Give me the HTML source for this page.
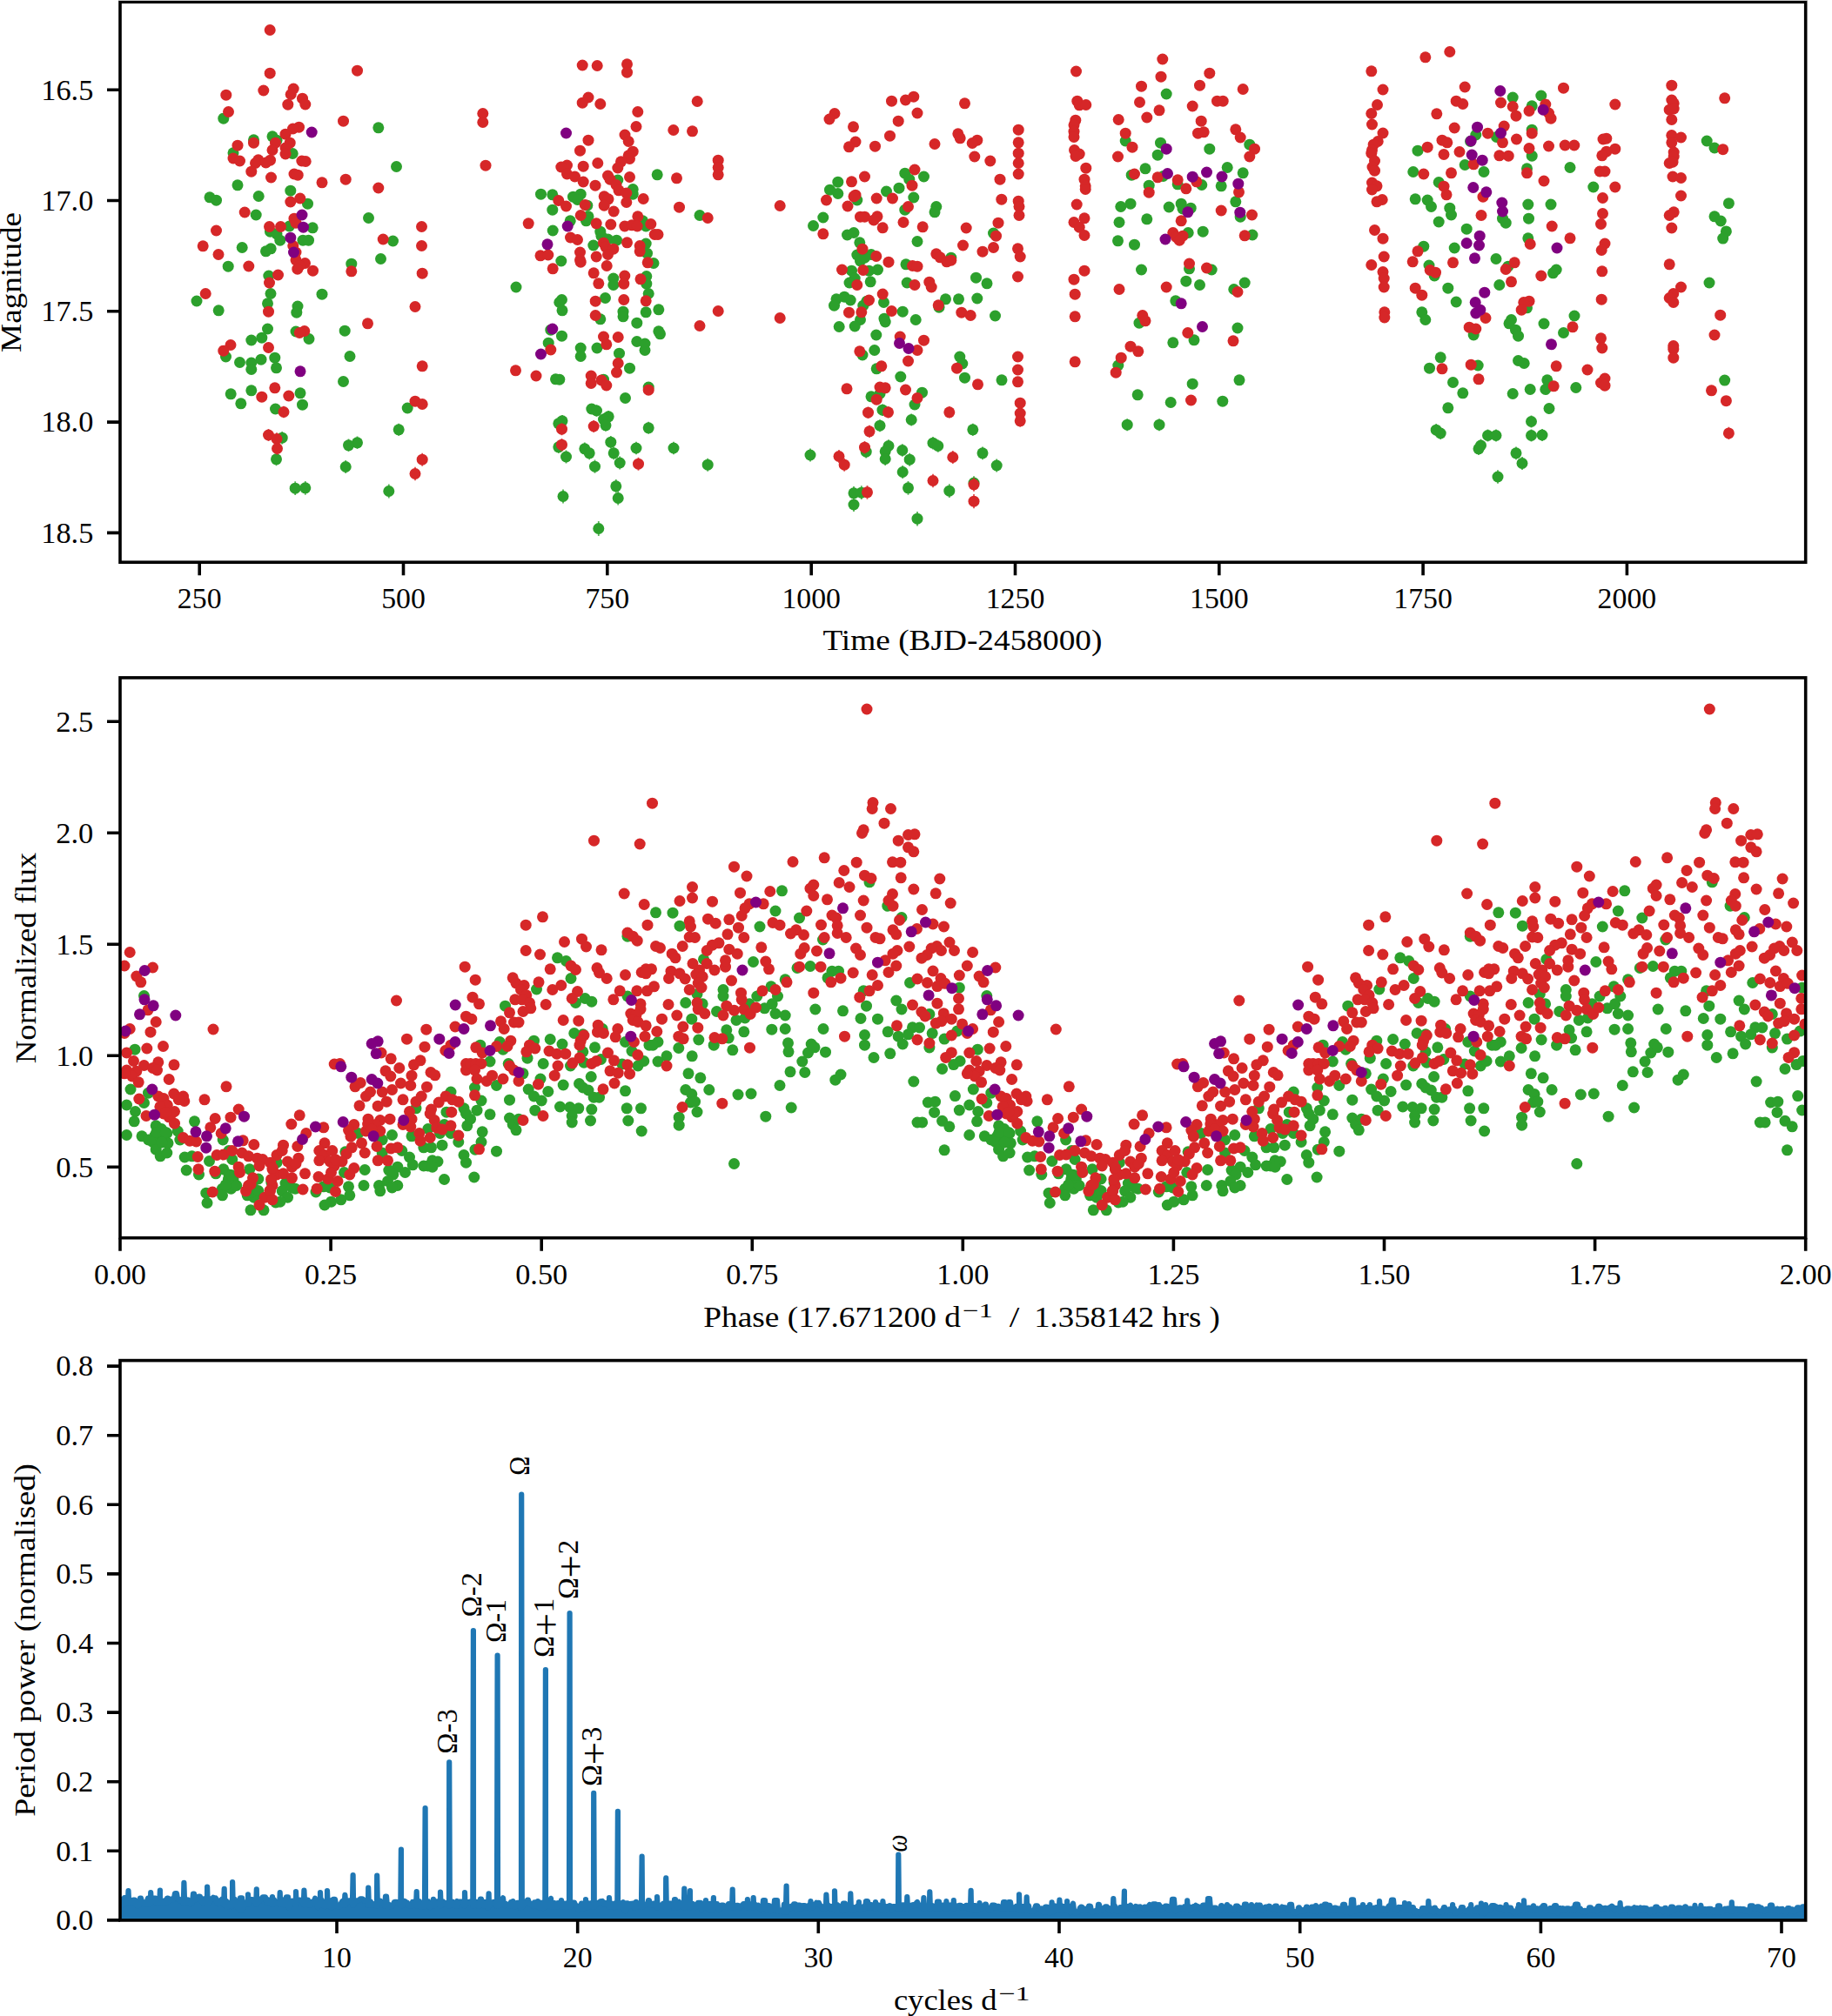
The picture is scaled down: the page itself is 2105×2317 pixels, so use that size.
<!DOCTYPE html>
<html lang="en"><head><meta charset="utf-8"><title>Light curve, phase fold and periodogram</title>
<style>html,body{margin:0;padding:0;background:#fff}svg{display:block}</style></head>
<body>
<svg width="2105" height="2317" viewBox="0 0 2105 2317" font-family='"Liberation Serif", "DejaVu Serif", serif' font-size="33.5" fill="#000">
<rect width="2105" height="2317" fill="#fff"/>
<g id="p1">
<path d="M458.2 486.7V500.9M324.2 496.0V510.4M410.5 501.6V516.0M400.5 504.5V519.1M317.5 520.3V535.3M397.2 528.9V544.1M339.2 553.3V569.1M350.8 552.9V568.7M446.8 556.6V572.4M685.5 465.2V478.8M699.2 471.9V485.7M693.5 475.1V488.9M696.0 481.8V495.8M646.0 476.9V490.7M641.8 479.8V493.8M745.2 484.8V498.8M701.8 501.0V515.4M731.0 507.7V522.3M641.8 506.5V521.1M671.8 508.5V523.1M677.2 513.4V528.2M650.5 517.6V532.4M705.2 513.4V528.2M712.2 524.5V539.5M683.5 528.6V543.8M774.0 507.7V522.3M813.2 526.7V541.7M707.8 551.0V566.6M710.2 564.5V580.5M647.0 562.5V578.5M687.8 599.1V615.9M1014.0 464.4V478.0M1047.2 475.6V489.4M1011.0 482.2V496.2M1021.0 505.2V519.8M1017.2 511.4V526.2M995.2 511.8V526.6M1036.8 510.2V524.8M1017.2 520.0V535.0M1045.2 520.7V535.7M931.0 515.6V530.4M1037.2 534.9V550.1M1043.5 552.9V568.7M981.0 558.9V574.7M989.8 558.3V574.1M981.0 571.9V588.1M1054.0 587.9V604.5M1295.2 481.2V495.2M1332.0 481.2V495.2M1117.8 486.7V500.9M1072.0 502.0V516.4M1077.8 505.2V519.8M1129.0 513.4V528.2M1145.2 527.4V542.6M1119.0 547.2V562.8M1090.8 556.3V572.1M1759.5 477.6V491.4M1650.2 487.1V501.3M1655.2 490.9V505.1M1709.5 493.4V507.6M1719.0 493.4V507.6M1759.5 493.4V507.6M1772.0 492.9V507.1M1701.5 504.7V519.3M1699.0 508.5V523.1M1742.0 513.4V528.2M1749.0 525.0V540.0M1721.0 540.3V555.7" stroke="#2ca02c" stroke-width="1.8" fill="none" opacity="0.8"/>
<g fill="#2ca02c">
<circle cx="256.8" cy="136.2" r="6.5"/>
<circle cx="434.8" cy="146.8" r="6.5"/>
<circle cx="291.5" cy="160.8" r="6.5"/>
<circle cx="313.0" cy="156.8" r="6.5"/>
<circle cx="318.0" cy="161.2" r="6.5"/>
<circle cx="268.0" cy="175.8" r="6.5"/>
<circle cx="336.2" cy="176.5" r="6.5"/>
<circle cx="455.5" cy="191.5" r="6.5"/>
<circle cx="273.0" cy="212.8" r="6.5"/>
<circle cx="333.8" cy="219.2" r="6.5"/>
<circle cx="297.2" cy="225.5" r="6.5"/>
<circle cx="241.0" cy="226.8" r="6.5"/>
<circle cx="248.5" cy="230.2" r="6.5"/>
<circle cx="353.5" cy="234.2" r="6.5"/>
<circle cx="294.2" cy="247.0" r="6.5"/>
<circle cx="423.5" cy="250.5" r="6.5"/>
<circle cx="332.5" cy="260.0" r="6.5"/>
<circle cx="359.2" cy="261.8" r="6.5"/>
<circle cx="310.5" cy="266.2" r="6.5"/>
<circle cx="318.0" cy="268.8" r="6.5"/>
<circle cx="321.8" cy="276.2" r="6.5"/>
<circle cx="348.0" cy="276.2" r="6.5"/>
<circle cx="354.5" cy="276.2" r="6.5"/>
<circle cx="451.5" cy="277.0" r="6.5"/>
<circle cx="278.2" cy="284.5" r="6.5"/>
<circle cx="311.2" cy="285.8" r="6.5"/>
<circle cx="305.5" cy="288.8" r="6.5"/>
<circle cx="437.5" cy="297.5" r="6.5"/>
<circle cx="262.2" cy="306.2" r="6.5"/>
<circle cx="403.8" cy="303.2" r="6.5"/>
<circle cx="308.8" cy="317.0" r="6.5"/>
<circle cx="593.0" cy="330.0" r="6.5"/>
<circle cx="311.0" cy="337.5" r="6.5"/>
<circle cx="370.0" cy="338.2" r="6.5"/>
<circle cx="226.0" cy="346.0" r="6.5"/>
<circle cx="307.5" cy="348.8" r="6.5"/>
<circle cx="251.2" cy="356.8" r="6.5"/>
<circle cx="342.0" cy="352.0" r="6.5"/>
<circle cx="340.8" cy="359.2" r="6.5"/>
<circle cx="307.5" cy="378.0" r="6.5"/>
<circle cx="396.2" cy="380.2" r="6.5"/>
<circle cx="340.0" cy="381.0" r="6.5"/>
<circle cx="355.0" cy="389.5" r="6.5"/>
<circle cx="300.8" cy="388.2" r="6.5"/>
<circle cx="288.8" cy="391.0" r="6.5"/>
<circle cx="259.5" cy="410.0" r="6.5"/>
<circle cx="402.0" cy="409.5" r="6.5"/>
<circle cx="315.8" cy="411.2" r="6.5"/>
<circle cx="300.0" cy="413.2" r="6.5"/>
<circle cx="275.5" cy="416.5" r="6.5"/>
<circle cx="288.8" cy="417.0" r="6.5"/>
<circle cx="288.8" cy="424.5" r="6.5"/>
<circle cx="317.5" cy="422.8" r="6.5"/>
<circle cx="394.5" cy="438.5" r="6.5"/>
<circle cx="288.8" cy="448.8" r="6.5"/>
<circle cx="265.2" cy="452.8" r="6.5"/>
<circle cx="345.0" cy="451.8" r="6.5"/>
<circle cx="276.8" cy="463.8" r="6.5"/>
<circle cx="347.5" cy="465.2" r="6.5"/>
<circle cx="316.5" cy="470.0" r="6.5"/>
<circle cx="468.2" cy="469.0" r="6.5"/>
<circle cx="458.2" cy="493.8" r="6.5"/>
<circle cx="324.2" cy="503.2" r="6.5"/>
<circle cx="410.5" cy="508.8" r="6.5"/>
<circle cx="400.5" cy="511.8" r="6.5"/>
<circle cx="317.5" cy="527.8" r="6.5"/>
<circle cx="397.2" cy="536.5" r="6.5"/>
<circle cx="339.2" cy="561.2" r="6.5"/>
<circle cx="350.8" cy="560.8" r="6.5"/>
<circle cx="446.8" cy="564.5" r="6.5"/>
<circle cx="755.2" cy="200.8" r="6.5"/>
<circle cx="709.8" cy="207.0" r="6.5"/>
<circle cx="727.2" cy="217.5" r="6.5"/>
<circle cx="727.2" cy="223.2" r="6.5"/>
<circle cx="621.5" cy="223.2" r="6.5"/>
<circle cx="634.8" cy="223.8" r="6.5"/>
<circle cx="658.5" cy="226.2" r="6.5"/>
<circle cx="667.2" cy="223.2" r="6.5"/>
<circle cx="663.5" cy="229.5" r="6.5"/>
<circle cx="634.8" cy="241.2" r="6.5"/>
<circle cx="674.8" cy="236.2" r="6.5"/>
<circle cx="676.0" cy="248.8" r="6.5"/>
<circle cx="655.2" cy="253.8" r="6.5"/>
<circle cx="673.5" cy="253.8" r="6.5"/>
<circle cx="635.2" cy="265.0" r="6.5"/>
<circle cx="804.0" cy="247.5" r="6.5"/>
<circle cx="738.5" cy="253.8" r="6.5"/>
<circle cx="742.2" cy="260.0" r="6.5"/>
<circle cx="689.8" cy="266.2" r="6.5"/>
<circle cx="691.0" cy="271.2" r="6.5"/>
<circle cx="698.5" cy="275.0" r="6.5"/>
<circle cx="708.5" cy="276.2" r="6.5"/>
<circle cx="681.8" cy="282.0" r="6.5"/>
<circle cx="742.2" cy="280.0" r="6.5"/>
<circle cx="743.5" cy="291.2" r="6.5"/>
<circle cx="644.8" cy="300.0" r="6.5"/>
<circle cx="751.0" cy="302.5" r="6.5"/>
<circle cx="704.8" cy="320.0" r="6.5"/>
<circle cx="742.8" cy="317.5" r="6.5"/>
<circle cx="704.8" cy="327.5" r="6.5"/>
<circle cx="742.8" cy="326.2" r="6.5"/>
<circle cx="962.8" cy="209.2" r="6.5"/>
<circle cx="953.5" cy="218.2" r="6.5"/>
<circle cx="962.8" cy="222.5" r="6.5"/>
<circle cx="1018.5" cy="220.0" r="6.5"/>
<circle cx="1033.0" cy="216.2" r="6.5"/>
<circle cx="1039.8" cy="199.2" r="6.5"/>
<circle cx="1044.8" cy="206.2" r="6.5"/>
<circle cx="1049.8" cy="227.0" r="6.5"/>
<circle cx="984.8" cy="230.0" r="6.5"/>
<circle cx="1039.8" cy="241.2" r="6.5"/>
<circle cx="945.8" cy="250.0" r="6.5"/>
<circle cx="934.5" cy="259.5" r="6.5"/>
<circle cx="973.5" cy="270.0" r="6.5"/>
<circle cx="981.0" cy="267.5" r="6.5"/>
<circle cx="987.8" cy="278.8" r="6.5"/>
<circle cx="984.8" cy="293.0" r="6.5"/>
<circle cx="1001.0" cy="292.5" r="6.5"/>
<circle cx="988.5" cy="300.0" r="6.5"/>
<circle cx="993.5" cy="296.2" r="6.5"/>
<circle cx="1041.0" cy="303.8" r="6.5"/>
<circle cx="978.5" cy="311.2" r="6.5"/>
<circle cx="998.5" cy="311.2" r="6.5"/>
<circle cx="1008.5" cy="310.0" r="6.5"/>
<circle cx="982.2" cy="320.0" r="6.5"/>
<circle cx="976.0" cy="325.0" r="6.5"/>
<circle cx="1000.2" cy="323.8" r="6.5"/>
<circle cx="1042.2" cy="325.0" r="6.5"/>
<circle cx="1054.0" cy="277.5" r="6.5"/>
<circle cx="745.2" cy="337.5" r="6.5"/>
<circle cx="695.5" cy="342.5" r="6.5"/>
<circle cx="645.5" cy="344.5" r="6.5"/>
<circle cx="642.8" cy="347.5" r="6.5"/>
<circle cx="646.0" cy="356.8" r="6.5"/>
<circle cx="756.8" cy="355.8" r="6.5"/>
<circle cx="742.2" cy="358.8" r="6.5"/>
<circle cx="716.0" cy="358.2" r="6.5"/>
<circle cx="716.0" cy="363.8" r="6.5"/>
<circle cx="689.8" cy="366.8" r="6.5"/>
<circle cx="731.8" cy="371.2" r="6.5"/>
<circle cx="632.8" cy="379.2" r="6.5"/>
<circle cx="756.8" cy="380.8" r="6.5"/>
<circle cx="758.5" cy="383.8" r="6.5"/>
<circle cx="645.5" cy="386.2" r="6.5"/>
<circle cx="731.8" cy="392.5" r="6.5"/>
<circle cx="741.0" cy="395.0" r="6.5"/>
<circle cx="741.0" cy="402.5" r="6.5"/>
<circle cx="630.2" cy="394.2" r="6.5"/>
<circle cx="667.2" cy="400.0" r="6.5"/>
<circle cx="686.0" cy="400.0" r="6.5"/>
<circle cx="667.2" cy="409.5" r="6.5"/>
<circle cx="711.5" cy="406.2" r="6.5"/>
<circle cx="723.5" cy="423.2" r="6.5"/>
<circle cx="638.5" cy="435.8" r="6.5"/>
<circle cx="642.8" cy="436.2" r="6.5"/>
<circle cx="693.5" cy="436.2" r="6.5"/>
<circle cx="745.2" cy="445.0" r="6.5"/>
<circle cx="718.5" cy="457.5" r="6.5"/>
<circle cx="679.8" cy="470.0" r="6.5"/>
<circle cx="685.5" cy="472.0" r="6.5"/>
<circle cx="699.2" cy="478.8" r="6.5"/>
<circle cx="693.5" cy="482.0" r="6.5"/>
<circle cx="696.0" cy="488.8" r="6.5"/>
<circle cx="646.0" cy="483.8" r="6.5"/>
<circle cx="641.8" cy="486.8" r="6.5"/>
<circle cx="745.2" cy="491.8" r="6.5"/>
<circle cx="701.8" cy="508.2" r="6.5"/>
<circle cx="731.0" cy="515.0" r="6.5"/>
<circle cx="641.8" cy="513.8" r="6.5"/>
<circle cx="671.8" cy="515.8" r="6.5"/>
<circle cx="677.2" cy="520.8" r="6.5"/>
<circle cx="650.5" cy="525.0" r="6.5"/>
<circle cx="705.2" cy="520.8" r="6.5"/>
<circle cx="712.2" cy="532.0" r="6.5"/>
<circle cx="683.5" cy="536.2" r="6.5"/>
<circle cx="774.0" cy="515.0" r="6.5"/>
<circle cx="813.2" cy="534.2" r="6.5"/>
<circle cx="707.8" cy="558.8" r="6.5"/>
<circle cx="710.2" cy="572.5" r="6.5"/>
<circle cx="647.0" cy="570.5" r="6.5"/>
<circle cx="687.8" cy="607.5" r="6.5"/>
<circle cx="961.0" cy="343.8" r="6.5"/>
<circle cx="970.2" cy="341.2" r="6.5"/>
<circle cx="977.2" cy="345.0" r="6.5"/>
<circle cx="958.5" cy="351.2" r="6.5"/>
<circle cx="991.8" cy="351.2" r="6.5"/>
<circle cx="996.0" cy="346.2" r="6.5"/>
<circle cx="1015.5" cy="347.5" r="6.5"/>
<circle cx="1037.2" cy="358.2" r="6.5"/>
<circle cx="988.5" cy="367.5" r="6.5"/>
<circle cx="982.2" cy="375.0" r="6.5"/>
<circle cx="964.2" cy="375.5" r="6.5"/>
<circle cx="1016.0" cy="366.2" r="6.5"/>
<circle cx="1017.2" cy="370.0" r="6.5"/>
<circle cx="1052.2" cy="367.5" r="6.5"/>
<circle cx="1006.8" cy="385.0" r="6.5"/>
<circle cx="1004.8" cy="402.5" r="6.5"/>
<circle cx="991.0" cy="408.0" r="6.5"/>
<circle cx="1007.2" cy="423.8" r="6.5"/>
<circle cx="1034.8" cy="433.0" r="6.5"/>
<circle cx="1001.0" cy="455.8" r="6.5"/>
<circle cx="1011.0" cy="452.5" r="6.5"/>
<circle cx="1014.0" cy="471.2" r="6.5"/>
<circle cx="1051.0" cy="465.0" r="6.5"/>
<circle cx="1047.2" cy="482.5" r="6.5"/>
<circle cx="1011.0" cy="489.2" r="6.5"/>
<circle cx="1021.0" cy="512.5" r="6.5"/>
<circle cx="1017.2" cy="518.8" r="6.5"/>
<circle cx="995.2" cy="519.2" r="6.5"/>
<circle cx="1036.8" cy="517.5" r="6.5"/>
<circle cx="1017.2" cy="527.5" r="6.5"/>
<circle cx="1045.2" cy="528.2" r="6.5"/>
<circle cx="931.0" cy="523.0" r="6.5"/>
<circle cx="1037.2" cy="542.5" r="6.5"/>
<circle cx="1043.5" cy="560.8" r="6.5"/>
<circle cx="981.0" cy="566.8" r="6.5"/>
<circle cx="989.8" cy="566.2" r="6.5"/>
<circle cx="981.0" cy="580.0" r="6.5"/>
<circle cx="1054.0" cy="596.2" r="6.5"/>
<circle cx="1061.5" cy="203.0" r="6.5"/>
<circle cx="1075.8" cy="237.5" r="6.5"/>
<circle cx="1074.0" cy="243.8" r="6.5"/>
<circle cx="1141.5" cy="268.0" r="6.5"/>
<circle cx="1092.8" cy="296.2" r="6.5"/>
<circle cx="1121.5" cy="319.2" r="6.5"/>
<circle cx="1134.0" cy="325.8" r="6.5"/>
<circle cx="1340.2" cy="108.0" r="6.5"/>
<circle cx="1293.2" cy="162.0" r="6.5"/>
<circle cx="1333.5" cy="164.2" r="6.5"/>
<circle cx="1330.2" cy="178.2" r="6.5"/>
<circle cx="1389.8" cy="171.2" r="6.5"/>
<circle cx="1435.8" cy="166.2" r="6.5"/>
<circle cx="1316.0" cy="193.8" r="6.5"/>
<circle cx="1410.2" cy="192.5" r="6.5"/>
<circle cx="1428.2" cy="198.8" r="6.5"/>
<circle cx="1300.2" cy="201.2" r="6.5"/>
<circle cx="1336.5" cy="202.5" r="6.5"/>
<circle cx="1320.2" cy="213.2" r="6.5"/>
<circle cx="1353.2" cy="211.8" r="6.5"/>
<circle cx="1380.8" cy="212.5" r="6.5"/>
<circle cx="1403.2" cy="213.8" r="6.5"/>
<circle cx="1287.8" cy="237.5" r="6.5"/>
<circle cx="1299.0" cy="234.2" r="6.5"/>
<circle cx="1343.2" cy="238.0" r="6.5"/>
<circle cx="1357.2" cy="234.2" r="6.5"/>
<circle cx="1359.0" cy="240.0" r="6.5"/>
<circle cx="1368.2" cy="239.2" r="6.5"/>
<circle cx="1419.8" cy="231.8" r="6.5"/>
<circle cx="1425.2" cy="249.2" r="6.5"/>
<circle cx="1286.0" cy="255.5" r="6.5"/>
<circle cx="1317.8" cy="251.8" r="6.5"/>
<circle cx="1365.2" cy="267.5" r="6.5"/>
<circle cx="1382.2" cy="266.2" r="6.5"/>
<circle cx="1439.0" cy="270.0" r="6.5"/>
<circle cx="1284.5" cy="276.8" r="6.5"/>
<circle cx="1303.5" cy="281.2" r="6.5"/>
<circle cx="1311.5" cy="310.0" r="6.5"/>
<circle cx="1366.5" cy="308.8" r="6.5"/>
<circle cx="1392.2" cy="310.0" r="6.5"/>
<circle cx="1362.8" cy="323.2" r="6.5"/>
<circle cx="1378.5" cy="327.5" r="6.5"/>
<circle cx="1430.2" cy="325.0" r="6.5"/>
<circle cx="1417.8" cy="332.5" r="6.5"/>
<circle cx="1086.5" cy="343.8" r="6.5"/>
<circle cx="1101.5" cy="343.8" r="6.5"/>
<circle cx="1122.8" cy="343.0" r="6.5"/>
<circle cx="1079.0" cy="353.2" r="6.5"/>
<circle cx="1350.8" cy="345.8" r="6.5"/>
<circle cx="1143.5" cy="363.0" r="6.5"/>
<circle cx="1309.0" cy="371.2" r="6.5"/>
<circle cx="1422.0" cy="377.0" r="6.5"/>
<circle cx="1347.8" cy="393.8" r="6.5"/>
<circle cx="1372.0" cy="390.8" r="6.5"/>
<circle cx="1102.8" cy="410.0" r="6.5"/>
<circle cx="1105.8" cy="418.0" r="6.5"/>
<circle cx="1284.8" cy="420.0" r="6.5"/>
<circle cx="1108.5" cy="434.2" r="6.5"/>
<circle cx="1151.0" cy="436.8" r="6.5"/>
<circle cx="1370.2" cy="441.2" r="6.5"/>
<circle cx="1424.0" cy="436.8" r="6.5"/>
<circle cx="1059.5" cy="451.2" r="6.5"/>
<circle cx="1307.2" cy="453.8" r="6.5"/>
<circle cx="1345.2" cy="462.5" r="6.5"/>
<circle cx="1404.8" cy="461.2" r="6.5"/>
<circle cx="1295.2" cy="488.2" r="6.5"/>
<circle cx="1332.0" cy="488.2" r="6.5"/>
<circle cx="1117.8" cy="493.8" r="6.5"/>
<circle cx="1072.0" cy="509.2" r="6.5"/>
<circle cx="1077.8" cy="512.5" r="6.5"/>
<circle cx="1129.0" cy="520.8" r="6.5"/>
<circle cx="1145.2" cy="535.0" r="6.5"/>
<circle cx="1119.0" cy="555.0" r="6.5"/>
<circle cx="1090.8" cy="564.2" r="6.5"/>
<circle cx="1629.0" cy="173.2" r="6.5"/>
<circle cx="1623.8" cy="197.5" r="6.5"/>
<circle cx="1626.2" cy="228.8" r="6.5"/>
<circle cx="1640.2" cy="230.0" r="6.5"/>
<circle cx="1644.5" cy="237.5" r="6.5"/>
<circle cx="1653.2" cy="209.5" r="6.5"/>
<circle cx="1665.8" cy="239.2" r="6.5"/>
<circle cx="1667.5" cy="247.0" r="6.5"/>
<circle cx="1653.2" cy="255.0" r="6.5"/>
<circle cx="1635.8" cy="283.2" r="6.5"/>
<circle cx="1671.2" cy="285.0" r="6.5"/>
<circle cx="1642.0" cy="305.0" r="6.5"/>
<circle cx="1648.2" cy="317.0" r="6.5"/>
<circle cx="1663.8" cy="331.2" r="6.5"/>
<circle cx="1695.8" cy="155.0" r="6.5"/>
<circle cx="1689.5" cy="162.5" r="6.5"/>
<circle cx="1683.2" cy="189.5" r="6.5"/>
<circle cx="1705.0" cy="197.5" r="6.5"/>
<circle cx="1685.2" cy="263.2" r="6.5"/>
<circle cx="1719.0" cy="297.5" r="6.5"/>
<circle cx="1719.5" cy="157.5" r="6.5"/>
<circle cx="1738.2" cy="112.0" r="6.5"/>
<circle cx="1760.2" cy="121.8" r="6.5"/>
<circle cx="1770.8" cy="110.0" r="6.5"/>
<circle cx="1760.2" cy="149.2" r="6.5"/>
<circle cx="1760.2" cy="179.2" r="6.5"/>
<circle cx="1754.5" cy="193.8" r="6.5"/>
<circle cx="1755.8" cy="235.0" r="6.5"/>
<circle cx="1782.0" cy="235.0" r="6.5"/>
<circle cx="1756.5" cy="251.2" r="6.5"/>
<circle cx="1726.5" cy="251.2" r="6.5"/>
<circle cx="1730.2" cy="256.2" r="6.5"/>
<circle cx="1755.8" cy="273.8" r="6.5"/>
<circle cx="1732.8" cy="306.2" r="6.5"/>
<circle cx="1788.2" cy="310.0" r="6.5"/>
<circle cx="1784.5" cy="313.8" r="6.5"/>
<circle cx="1722.8" cy="327.5" r="6.5"/>
<circle cx="1804.0" cy="192.5" r="6.5"/>
<circle cx="1830.8" cy="215.0" r="6.5"/>
<circle cx="1961.2" cy="162.0" r="6.5"/>
<circle cx="1970.0" cy="170.0" r="6.5"/>
<circle cx="1970.0" cy="248.8" r="6.5"/>
<circle cx="1964.0" cy="325.0" r="6.5"/>
<circle cx="1673.2" cy="347.0" r="6.5"/>
<circle cx="1633.8" cy="358.8" r="6.5"/>
<circle cx="1637.8" cy="367.5" r="6.5"/>
<circle cx="1754.5" cy="353.8" r="6.5"/>
<circle cx="1736.5" cy="367.5" r="6.5"/>
<circle cx="1734.0" cy="371.8" r="6.5"/>
<circle cx="1741.5" cy="379.2" r="6.5"/>
<circle cx="1744.5" cy="386.2" r="6.5"/>
<circle cx="1774.0" cy="372.0" r="6.5"/>
<circle cx="1809.0" cy="363.0" r="6.5"/>
<circle cx="1796.5" cy="382.5" r="6.5"/>
<circle cx="1693.2" cy="385.0" r="6.5"/>
<circle cx="1655.2" cy="410.8" r="6.5"/>
<circle cx="1642.5" cy="423.2" r="6.5"/>
<circle cx="1698.2" cy="420.0" r="6.5"/>
<circle cx="1744.5" cy="414.5" r="6.5"/>
<circle cx="1751.2" cy="417.5" r="6.5"/>
<circle cx="1669.5" cy="439.5" r="6.5"/>
<circle cx="1680.8" cy="451.8" r="6.5"/>
<circle cx="1777.8" cy="436.8" r="6.5"/>
<circle cx="1775.8" cy="447.5" r="6.5"/>
<circle cx="1758.2" cy="447.5" r="6.5"/>
<circle cx="1738.2" cy="452.5" r="6.5"/>
<circle cx="1810.8" cy="445.5" r="6.5"/>
<circle cx="1663.8" cy="468.8" r="6.5"/>
<circle cx="1780.0" cy="469.5" r="6.5"/>
<circle cx="1759.5" cy="484.5" r="6.5"/>
<circle cx="1650.2" cy="494.2" r="6.5"/>
<circle cx="1655.2" cy="498.0" r="6.5"/>
<circle cx="1709.5" cy="500.5" r="6.5"/>
<circle cx="1719.0" cy="500.5" r="6.5"/>
<circle cx="1759.5" cy="500.5" r="6.5"/>
<circle cx="1772.0" cy="500.0" r="6.5"/>
<circle cx="1701.5" cy="512.0" r="6.5"/>
<circle cx="1699.0" cy="515.8" r="6.5"/>
<circle cx="1742.0" cy="520.8" r="6.5"/>
<circle cx="1749.0" cy="532.5" r="6.5"/>
<circle cx="1721.0" cy="548.0" r="6.5"/>
<circle cx="1986.4" cy="233.7" r="6.5"/>
<circle cx="1977.2" cy="254.0" r="6.5"/>
<circle cx="1983.4" cy="265.9" r="6.5"/>
<circle cx="1979.7" cy="274.1" r="6.5"/>
<circle cx="1981.7" cy="437.1" r="6.5"/>
</g>
<path d="M326.0 466.7V480.3M308.5 492.9V507.1M318.0 497.3V511.7M318.5 508.2V522.8M485.2 520.7V535.7M477.0 536.8V552.2M682.2 483.0V497.0M645.5 486.2V500.2M645.5 503.9V518.5M733.5 525.7V540.7M997.5 467.4V481.0M1020.5 467.0V480.6M999.0 488.7V502.9M993.5 506.9V521.5M964.0 517.1V531.9M970.2 526.7V541.7M996.5 557.9V573.7M1090.8 467.0V480.6M1172.2 468.2V481.8M1172.2 476.9V490.7M1094.8 518.1V532.9M1072.0 544.7V560.3M1119.0 549.2V564.8M1119.0 568.1V584.3M1986.4 490.8V505.0" stroke="#d62728" stroke-width="1.8" fill="none" opacity="0.8"/>
<g fill="#d62728">
<circle cx="310.2" cy="34.5" r="6.5"/>
<circle cx="310.2" cy="84.2" r="6.5"/>
<circle cx="410.5" cy="81.2" r="6.5"/>
<circle cx="259.8" cy="109.2" r="6.5"/>
<circle cx="302.8" cy="104.0" r="6.5"/>
<circle cx="337.2" cy="102.0" r="6.5"/>
<circle cx="334.2" cy="108.5" r="6.5"/>
<circle cx="347.5" cy="113.2" r="6.5"/>
<circle cx="350.8" cy="120.0" r="6.5"/>
<circle cx="330.8" cy="120.2" r="6.5"/>
<circle cx="262.5" cy="128.5" r="6.5"/>
<circle cx="394.5" cy="139.2" r="6.5"/>
<circle cx="554.8" cy="130.5" r="6.5"/>
<circle cx="554.8" cy="140.5" r="6.5"/>
<circle cx="343.5" cy="146.2" r="6.5"/>
<circle cx="336.5" cy="148.0" r="6.5"/>
<circle cx="328.0" cy="154.2" r="6.5"/>
<circle cx="273.0" cy="167.2" r="6.5"/>
<circle cx="291.5" cy="164.2" r="6.5"/>
<circle cx="316.5" cy="164.2" r="6.5"/>
<circle cx="333.2" cy="164.2" r="6.5"/>
<circle cx="328.0" cy="170.0" r="6.5"/>
<circle cx="313.0" cy="172.5" r="6.5"/>
<circle cx="328.0" cy="177.0" r="6.5"/>
<circle cx="268.0" cy="182.0" r="6.5"/>
<circle cx="275.5" cy="185.0" r="6.5"/>
<circle cx="296.8" cy="183.8" r="6.5"/>
<circle cx="293.5" cy="187.5" r="6.5"/>
<circle cx="310.5" cy="184.2" r="6.5"/>
<circle cx="305.5" cy="187.0" r="6.5"/>
<circle cx="346.8" cy="185.0" r="6.5"/>
<circle cx="351.2" cy="185.5" r="6.5"/>
<circle cx="288.8" cy="197.2" r="6.5"/>
<circle cx="338.0" cy="200.0" r="6.5"/>
<circle cx="342.2" cy="201.2" r="6.5"/>
<circle cx="311.5" cy="204.0" r="6.5"/>
<circle cx="558.0" cy="190.2" r="6.5"/>
<circle cx="397.2" cy="206.2" r="6.5"/>
<circle cx="370.0" cy="209.8" r="6.5"/>
<circle cx="434.8" cy="216.0" r="6.5"/>
<circle cx="344.8" cy="228.0" r="6.5"/>
<circle cx="333.8" cy="232.0" r="6.5"/>
<circle cx="281.2" cy="244.0" r="6.5"/>
<circle cx="338.0" cy="251.2" r="6.5"/>
<circle cx="340.0" cy="256.2" r="6.5"/>
<circle cx="309.5" cy="260.5" r="6.5"/>
<circle cx="322.5" cy="260.5" r="6.5"/>
<circle cx="248.5" cy="265.0" r="6.5"/>
<circle cx="484.5" cy="260.5" r="6.5"/>
<circle cx="440.2" cy="275.0" r="6.5"/>
<circle cx="484.5" cy="282.5" r="6.5"/>
<circle cx="233.2" cy="282.8" r="6.5"/>
<circle cx="336.8" cy="282.5" r="6.5"/>
<circle cx="340.0" cy="290.0" r="6.5"/>
<circle cx="251.0" cy="292.5" r="6.5"/>
<circle cx="340.0" cy="298.8" r="6.5"/>
<circle cx="350.5" cy="302.5" r="6.5"/>
<circle cx="344.2" cy="305.5" r="6.5"/>
<circle cx="341.8" cy="309.2" r="6.5"/>
<circle cx="285.8" cy="306.0" r="6.5"/>
<circle cx="359.5" cy="311.2" r="6.5"/>
<circle cx="403.8" cy="311.8" r="6.5"/>
<circle cx="319.5" cy="316.0" r="6.5"/>
<circle cx="485.2" cy="314.2" r="6.5"/>
<circle cx="309.5" cy="325.0" r="6.5"/>
<circle cx="236.2" cy="337.5" r="6.5"/>
<circle cx="308.5" cy="358.2" r="6.5"/>
<circle cx="477.0" cy="352.5" r="6.5"/>
<circle cx="422.5" cy="371.8" r="6.5"/>
<circle cx="349.8" cy="380.5" r="6.5"/>
<circle cx="344.2" cy="382.5" r="6.5"/>
<circle cx="265.0" cy="396.5" r="6.5"/>
<circle cx="256.8" cy="403.2" r="6.5"/>
<circle cx="308.5" cy="399.5" r="6.5"/>
<circle cx="485.2" cy="420.8" r="6.5"/>
<circle cx="592.5" cy="425.8" r="6.5"/>
<circle cx="315.8" cy="445.8" r="6.5"/>
<circle cx="300.8" cy="456.2" r="6.5"/>
<circle cx="331.8" cy="455.0" r="6.5"/>
<circle cx="477.0" cy="461.2" r="6.5"/>
<circle cx="485.2" cy="464.5" r="6.5"/>
<circle cx="326.0" cy="473.5" r="6.5"/>
<circle cx="308.5" cy="500.0" r="6.5"/>
<circle cx="318.0" cy="504.5" r="6.5"/>
<circle cx="318.5" cy="515.5" r="6.5"/>
<circle cx="485.2" cy="528.2" r="6.5"/>
<circle cx="477.0" cy="544.5" r="6.5"/>
<circle cx="669.2" cy="75.0" r="6.5"/>
<circle cx="686.2" cy="75.5" r="6.5"/>
<circle cx="720.5" cy="73.8" r="6.5"/>
<circle cx="720.5" cy="83.2" r="6.5"/>
<circle cx="676.0" cy="112.0" r="6.5"/>
<circle cx="669.2" cy="118.2" r="6.5"/>
<circle cx="689.8" cy="119.5" r="6.5"/>
<circle cx="801.2" cy="116.5" r="6.5"/>
<circle cx="732.8" cy="128.5" r="6.5"/>
<circle cx="731.0" cy="145.5" r="6.5"/>
<circle cx="773.8" cy="149.5" r="6.5"/>
<circle cx="795.5" cy="150.8" r="6.5"/>
<circle cx="718.0" cy="155.0" r="6.5"/>
<circle cx="722.2" cy="162.5" r="6.5"/>
<circle cx="676.0" cy="161.2" r="6.5"/>
<circle cx="666.5" cy="173.2" r="6.5"/>
<circle cx="727.2" cy="174.2" r="6.5"/>
<circle cx="722.2" cy="178.8" r="6.5"/>
<circle cx="723.5" cy="182.5" r="6.5"/>
<circle cx="713.5" cy="185.8" r="6.5"/>
<circle cx="709.8" cy="193.0" r="6.5"/>
<circle cx="686.8" cy="187.5" r="6.5"/>
<circle cx="670.2" cy="191.2" r="6.5"/>
<circle cx="651.5" cy="190.0" r="6.5"/>
<circle cx="644.8" cy="192.0" r="6.5"/>
<circle cx="651.5" cy="200.0" r="6.5"/>
<circle cx="660.5" cy="203.0" r="6.5"/>
<circle cx="670.2" cy="209.0" r="6.5"/>
<circle cx="684.0" cy="213.2" r="6.5"/>
<circle cx="698.5" cy="202.0" r="6.5"/>
<circle cx="701.0" cy="206.2" r="6.5"/>
<circle cx="723.5" cy="203.5" r="6.5"/>
<circle cx="708.0" cy="212.5" r="6.5"/>
<circle cx="711.0" cy="218.8" r="6.5"/>
<circle cx="719.8" cy="222.0" r="6.5"/>
<circle cx="825.2" cy="184.2" r="6.5"/>
<circle cx="825.2" cy="192.5" r="6.5"/>
<circle cx="825.2" cy="200.8" r="6.5"/>
<circle cx="777.5" cy="204.8" r="6.5"/>
<circle cx="694.2" cy="225.8" r="6.5"/>
<circle cx="699.0" cy="228.8" r="6.5"/>
<circle cx="739.2" cy="228.5" r="6.5"/>
<circle cx="641.8" cy="230.5" r="6.5"/>
<circle cx="650.5" cy="237.0" r="6.5"/>
<circle cx="672.2" cy="235.5" r="6.5"/>
<circle cx="694.2" cy="236.2" r="6.5"/>
<circle cx="719.8" cy="232.5" r="6.5"/>
<circle cx="705.2" cy="243.0" r="6.5"/>
<circle cx="780.5" cy="238.2" r="6.5"/>
<circle cx="667.2" cy="247.5" r="6.5"/>
<circle cx="732.8" cy="248.8" r="6.5"/>
<circle cx="685.2" cy="256.8" r="6.5"/>
<circle cx="701.8" cy="258.0" r="6.5"/>
<circle cx="607.2" cy="256.8" r="6.5"/>
<circle cx="717.8" cy="260.0" r="6.5"/>
<circle cx="726.0" cy="258.8" r="6.5"/>
<circle cx="732.2" cy="260.0" r="6.5"/>
<circle cx="747.8" cy="257.5" r="6.5"/>
<circle cx="752.2" cy="269.5" r="6.5"/>
<circle cx="756.0" cy="269.5" r="6.5"/>
<circle cx="813.2" cy="250.5" r="6.5"/>
<circle cx="896.2" cy="236.5" r="6.5"/>
<circle cx="655.5" cy="273.0" r="6.5"/>
<circle cx="663.5" cy="275.5" r="6.5"/>
<circle cx="720.5" cy="278.8" r="6.5"/>
<circle cx="693.5" cy="279.2" r="6.5"/>
<circle cx="696.0" cy="283.8" r="6.5"/>
<circle cx="704.8" cy="286.2" r="6.5"/>
<circle cx="698.5" cy="292.5" r="6.5"/>
<circle cx="735.2" cy="282.5" r="6.5"/>
<circle cx="735.2" cy="288.8" r="6.5"/>
<circle cx="666.5" cy="290.0" r="6.5"/>
<circle cx="621.0" cy="293.8" r="6.5"/>
<circle cx="629.8" cy="293.0" r="6.5"/>
<circle cx="685.2" cy="295.0" r="6.5"/>
<circle cx="666.5" cy="298.8" r="6.5"/>
<circle cx="667.2" cy="301.2" r="6.5"/>
<circle cx="697.2" cy="305.5" r="6.5"/>
<circle cx="744.2" cy="301.8" r="6.5"/>
<circle cx="635.2" cy="308.8" r="6.5"/>
<circle cx="682.2" cy="313.8" r="6.5"/>
<circle cx="717.8" cy="317.0" r="6.5"/>
<circle cx="736.0" cy="320.8" r="6.5"/>
<circle cx="687.8" cy="325.8" r="6.5"/>
<circle cx="716.8" cy="326.2" r="6.5"/>
<circle cx="959.0" cy="130.5" r="6.5"/>
<circle cx="953.0" cy="137.0" r="6.5"/>
<circle cx="1024.5" cy="116.2" r="6.5"/>
<circle cx="1040.5" cy="115.0" r="6.5"/>
<circle cx="1049.8" cy="111.2" r="6.5"/>
<circle cx="1054.0" cy="130.0" r="6.5"/>
<circle cx="1032.2" cy="139.2" r="6.5"/>
<circle cx="980.5" cy="145.8" r="6.5"/>
<circle cx="1022.5" cy="156.2" r="6.5"/>
<circle cx="983.0" cy="163.0" r="6.5"/>
<circle cx="975.5" cy="168.8" r="6.5"/>
<circle cx="1005.5" cy="168.2" r="6.5"/>
<circle cx="1051.0" cy="195.0" r="6.5"/>
<circle cx="993.5" cy="203.0" r="6.5"/>
<circle cx="978.5" cy="208.8" r="6.5"/>
<circle cx="1048.0" cy="213.2" r="6.5"/>
<circle cx="983.0" cy="224.2" r="6.5"/>
<circle cx="981.0" cy="225.8" r="6.5"/>
<circle cx="949.5" cy="230.0" r="6.5"/>
<circle cx="1007.2" cy="228.0" r="6.5"/>
<circle cx="1025.5" cy="228.0" r="6.5"/>
<circle cx="974.0" cy="237.0" r="6.5"/>
<circle cx="1043.5" cy="237.5" r="6.5"/>
<circle cx="988.5" cy="249.2" r="6.5"/>
<circle cx="993.5" cy="249.2" r="6.5"/>
<circle cx="1008.0" cy="248.8" r="6.5"/>
<circle cx="1004.0" cy="253.0" r="6.5"/>
<circle cx="1038.0" cy="255.5" r="6.5"/>
<circle cx="1014.2" cy="261.8" r="6.5"/>
<circle cx="945.8" cy="268.8" r="6.5"/>
<circle cx="991.0" cy="286.2" r="6.5"/>
<circle cx="1006.8" cy="294.5" r="6.5"/>
<circle cx="1021.0" cy="301.2" r="6.5"/>
<circle cx="967.5" cy="310.0" r="6.5"/>
<circle cx="991.8" cy="310.5" r="6.5"/>
<circle cx="1048.5" cy="305.5" r="6.5"/>
<circle cx="984.8" cy="327.5" r="6.5"/>
<circle cx="1051.0" cy="327.5" r="6.5"/>
<circle cx="684.2" cy="346.2" r="6.5"/>
<circle cx="716.8" cy="344.5" r="6.5"/>
<circle cx="742.2" cy="345.8" r="6.5"/>
<circle cx="684.2" cy="362.5" r="6.5"/>
<circle cx="825.2" cy="357.5" r="6.5"/>
<circle cx="804.0" cy="374.5" r="6.5"/>
<circle cx="693.5" cy="387.0" r="6.5"/>
<circle cx="710.2" cy="387.5" r="6.5"/>
<circle cx="696.8" cy="395.8" r="6.5"/>
<circle cx="632.8" cy="402.0" r="6.5"/>
<circle cx="710.2" cy="417.5" r="6.5"/>
<circle cx="708.5" cy="428.0" r="6.5"/>
<circle cx="616.0" cy="432.0" r="6.5"/>
<circle cx="679.2" cy="432.0" r="6.5"/>
<circle cx="679.2" cy="440.5" r="6.5"/>
<circle cx="691.0" cy="437.0" r="6.5"/>
<circle cx="696.8" cy="443.0" r="6.5"/>
<circle cx="745.2" cy="448.2" r="6.5"/>
<circle cx="682.2" cy="490.0" r="6.5"/>
<circle cx="645.5" cy="493.2" r="6.5"/>
<circle cx="645.5" cy="511.2" r="6.5"/>
<circle cx="733.5" cy="533.2" r="6.5"/>
<circle cx="896.2" cy="365.5" r="6.5"/>
<circle cx="1014.2" cy="338.0" r="6.5"/>
<circle cx="998.5" cy="345.0" r="6.5"/>
<circle cx="975.5" cy="359.2" r="6.5"/>
<circle cx="989.8" cy="358.8" r="6.5"/>
<circle cx="1024.5" cy="357.5" r="6.5"/>
<circle cx="1034.2" cy="387.0" r="6.5"/>
<circle cx="987.8" cy="403.8" r="6.5"/>
<circle cx="1054.0" cy="402.5" r="6.5"/>
<circle cx="1043.5" cy="415.0" r="6.5"/>
<circle cx="1012.8" cy="420.8" r="6.5"/>
<circle cx="973.0" cy="446.8" r="6.5"/>
<circle cx="1011.0" cy="445.0" r="6.5"/>
<circle cx="1017.2" cy="445.8" r="6.5"/>
<circle cx="1040.5" cy="448.0" r="6.5"/>
<circle cx="1007.2" cy="459.2" r="6.5"/>
<circle cx="1054.0" cy="457.5" r="6.5"/>
<circle cx="997.5" cy="474.2" r="6.5"/>
<circle cx="1020.5" cy="473.8" r="6.5"/>
<circle cx="999.0" cy="495.8" r="6.5"/>
<circle cx="993.5" cy="514.2" r="6.5"/>
<circle cx="964.0" cy="524.5" r="6.5"/>
<circle cx="970.2" cy="534.2" r="6.5"/>
<circle cx="996.5" cy="565.8" r="6.5"/>
<circle cx="1108.5" cy="118.8" r="6.5"/>
<circle cx="1074.0" cy="165.5" r="6.5"/>
<circle cx="1100.8" cy="153.8" r="6.5"/>
<circle cx="1103.2" cy="158.8" r="6.5"/>
<circle cx="1122.8" cy="161.2" r="6.5"/>
<circle cx="1117.2" cy="164.5" r="6.5"/>
<circle cx="1119.8" cy="180.0" r="6.5"/>
<circle cx="1137.8" cy="185.0" r="6.5"/>
<circle cx="1170.2" cy="149.2" r="6.5"/>
<circle cx="1170.2" cy="163.8" r="6.5"/>
<circle cx="1170.2" cy="176.2" r="6.5"/>
<circle cx="1170.2" cy="187.5" r="6.5"/>
<circle cx="1170.2" cy="200.0" r="6.5"/>
<circle cx="1149.0" cy="206.2" r="6.5"/>
<circle cx="1150.8" cy="229.2" r="6.5"/>
<circle cx="1170.2" cy="231.2" r="6.5"/>
<circle cx="1171.0" cy="237.5" r="6.5"/>
<circle cx="1171.0" cy="247.5" r="6.5"/>
<circle cx="1147.0" cy="256.2" r="6.5"/>
<circle cx="1060.2" cy="260.8" r="6.5"/>
<circle cx="1110.2" cy="262.0" r="6.5"/>
<circle cx="1144.5" cy="271.2" r="6.5"/>
<circle cx="1106.5" cy="282.0" r="6.5"/>
<circle cx="1141.5" cy="284.5" r="6.5"/>
<circle cx="1129.0" cy="289.2" r="6.5"/>
<circle cx="1169.5" cy="285.8" r="6.5"/>
<circle cx="1172.2" cy="295.0" r="6.5"/>
<circle cx="1075.8" cy="291.8" r="6.5"/>
<circle cx="1080.2" cy="295.8" r="6.5"/>
<circle cx="1087.8" cy="300.8" r="6.5"/>
<circle cx="1092.8" cy="299.2" r="6.5"/>
<circle cx="1169.5" cy="318.0" r="6.5"/>
<circle cx="1067.8" cy="324.2" r="6.5"/>
<circle cx="1054.0" cy="306.2" r="6.5"/>
<circle cx="1236.5" cy="82.0" r="6.5"/>
<circle cx="1237.8" cy="116.2" r="6.5"/>
<circle cx="1240.2" cy="120.8" r="6.5"/>
<circle cx="1247.8" cy="120.5" r="6.5"/>
<circle cx="1235.8" cy="138.2" r="6.5"/>
<circle cx="1234.0" cy="143.8" r="6.5"/>
<circle cx="1234.0" cy="151.2" r="6.5"/>
<circle cx="1234.0" cy="157.5" r="6.5"/>
<circle cx="1234.5" cy="172.5" r="6.5"/>
<circle cx="1240.2" cy="177.0" r="6.5"/>
<circle cx="1236.0" cy="179.5" r="6.5"/>
<circle cx="1247.8" cy="193.2" r="6.5"/>
<circle cx="1246.0" cy="206.2" r="6.5"/>
<circle cx="1247.2" cy="213.8" r="6.5"/>
<circle cx="1247.2" cy="217.5" r="6.5"/>
<circle cx="1237.2" cy="235.0" r="6.5"/>
<circle cx="1246.0" cy="250.8" r="6.5"/>
<circle cx="1234.0" cy="255.5" r="6.5"/>
<circle cx="1240.2" cy="261.2" r="6.5"/>
<circle cx="1246.0" cy="270.5" r="6.5"/>
<circle cx="1246.0" cy="311.2" r="6.5"/>
<circle cx="1234.0" cy="321.2" r="6.5"/>
<circle cx="1335.8" cy="68.0" r="6.5"/>
<circle cx="1334.0" cy="88.2" r="6.5"/>
<circle cx="1389.8" cy="84.2" r="6.5"/>
<circle cx="1311.5" cy="99.2" r="6.5"/>
<circle cx="1378.5" cy="98.2" r="6.5"/>
<circle cx="1428.2" cy="102.5" r="6.5"/>
<circle cx="1309.5" cy="117.5" r="6.5"/>
<circle cx="1370.2" cy="122.0" r="6.5"/>
<circle cx="1398.5" cy="116.2" r="6.5"/>
<circle cx="1405.2" cy="116.2" r="6.5"/>
<circle cx="1332.0" cy="126.8" r="6.5"/>
<circle cx="1317.8" cy="135.0" r="6.5"/>
<circle cx="1285.2" cy="137.5" r="6.5"/>
<circle cx="1380.2" cy="139.2" r="6.5"/>
<circle cx="1293.2" cy="153.2" r="6.5"/>
<circle cx="1376.5" cy="153.2" r="6.5"/>
<circle cx="1383.2" cy="151.8" r="6.5"/>
<circle cx="1419.8" cy="148.8" r="6.5"/>
<circle cx="1425.2" cy="158.0" r="6.5"/>
<circle cx="1301.0" cy="169.2" r="6.5"/>
<circle cx="1441.5" cy="171.2" r="6.5"/>
<circle cx="1435.8" cy="180.0" r="6.5"/>
<circle cx="1284.5" cy="180.0" r="6.5"/>
<circle cx="1303.5" cy="200.0" r="6.5"/>
<circle cx="1330.2" cy="203.8" r="6.5"/>
<circle cx="1353.2" cy="206.8" r="6.5"/>
<circle cx="1374.8" cy="208.8" r="6.5"/>
<circle cx="1362.8" cy="216.8" r="6.5"/>
<circle cx="1320.2" cy="221.2" r="6.5"/>
<circle cx="1423.5" cy="220.8" r="6.5"/>
<circle cx="1403.2" cy="242.0" r="6.5"/>
<circle cx="1438.5" cy="247.0" r="6.5"/>
<circle cx="1357.2" cy="253.8" r="6.5"/>
<circle cx="1347.8" cy="267.5" r="6.5"/>
<circle cx="1351.5" cy="272.5" r="6.5"/>
<circle cx="1359.0" cy="271.2" r="6.5"/>
<circle cx="1355.2" cy="276.2" r="6.5"/>
<circle cx="1430.2" cy="270.8" r="6.5"/>
<circle cx="1366.5" cy="303.0" r="6.5"/>
<circle cx="1386.5" cy="308.0" r="6.5"/>
<circle cx="1340.2" cy="330.0" r="6.5"/>
<circle cx="1286.0" cy="332.5" r="6.5"/>
<circle cx="1070.2" cy="330.0" r="6.5"/>
<circle cx="1235.2" cy="338.2" r="6.5"/>
<circle cx="1422.0" cy="335.5" r="6.5"/>
<circle cx="1078.2" cy="350.8" r="6.5"/>
<circle cx="1104.8" cy="359.2" r="6.5"/>
<circle cx="1115.2" cy="362.5" r="6.5"/>
<circle cx="1235.2" cy="363.8" r="6.5"/>
<circle cx="1312.8" cy="362.5" r="6.5"/>
<circle cx="1316.0" cy="368.8" r="6.5"/>
<circle cx="1364.8" cy="382.5" r="6.5"/>
<circle cx="1417.0" cy="391.8" r="6.5"/>
<circle cx="1061.5" cy="391.2" r="6.5"/>
<circle cx="1299.0" cy="398.2" r="6.5"/>
<circle cx="1307.8" cy="403.8" r="6.5"/>
<circle cx="1169.5" cy="410.0" r="6.5"/>
<circle cx="1288.2" cy="411.2" r="6.5"/>
<circle cx="1235.2" cy="415.8" r="6.5"/>
<circle cx="1169.5" cy="425.0" r="6.5"/>
<circle cx="1099.5" cy="423.2" r="6.5"/>
<circle cx="1282.2" cy="428.2" r="6.5"/>
<circle cx="1169.5" cy="438.8" r="6.5"/>
<circle cx="1123.5" cy="441.8" r="6.5"/>
<circle cx="1172.2" cy="463.2" r="6.5"/>
<circle cx="1368.5" cy="460.0" r="6.5"/>
<circle cx="1090.8" cy="473.8" r="6.5"/>
<circle cx="1172.2" cy="475.0" r="6.5"/>
<circle cx="1172.2" cy="483.8" r="6.5"/>
<circle cx="1094.8" cy="525.5" r="6.5"/>
<circle cx="1072.0" cy="552.5" r="6.5"/>
<circle cx="1119.0" cy="557.0" r="6.5"/>
<circle cx="1119.0" cy="576.2" r="6.5"/>
<circle cx="1575.8" cy="81.8" r="6.5"/>
<circle cx="1589.0" cy="103.0" r="6.5"/>
<circle cx="1582.5" cy="120.5" r="6.5"/>
<circle cx="1575.8" cy="130.5" r="6.5"/>
<circle cx="1576.5" cy="143.0" r="6.5"/>
<circle cx="1589.0" cy="153.0" r="6.5"/>
<circle cx="1583.2" cy="162.5" r="6.5"/>
<circle cx="1578.2" cy="166.2" r="6.5"/>
<circle cx="1576.5" cy="172.5" r="6.5"/>
<circle cx="1575.8" cy="176.2" r="6.5"/>
<circle cx="1579.5" cy="185.0" r="6.5"/>
<circle cx="1577.0" cy="192.0" r="6.5"/>
<circle cx="1579.5" cy="196.2" r="6.5"/>
<circle cx="1576.5" cy="210.0" r="6.5"/>
<circle cx="1582.0" cy="213.8" r="6.5"/>
<circle cx="1576.5" cy="218.0" r="6.5"/>
<circle cx="1588.2" cy="229.5" r="6.5"/>
<circle cx="1582.0" cy="231.8" r="6.5"/>
<circle cx="1579.5" cy="264.5" r="6.5"/>
<circle cx="1589.0" cy="274.2" r="6.5"/>
<circle cx="1590.2" cy="295.0" r="6.5"/>
<circle cx="1575.8" cy="304.5" r="6.5"/>
<circle cx="1589.0" cy="312.5" r="6.5"/>
<circle cx="1590.2" cy="320.0" r="6.5"/>
<circle cx="1590.2" cy="330.0" r="6.5"/>
<circle cx="1637.8" cy="65.8" r="6.5"/>
<circle cx="1665.8" cy="59.5" r="6.5"/>
<circle cx="1683.2" cy="100.0" r="6.5"/>
<circle cx="1673.2" cy="116.2" r="6.5"/>
<circle cx="1680.8" cy="119.5" r="6.5"/>
<circle cx="1650.8" cy="130.8" r="6.5"/>
<circle cx="1671.2" cy="147.0" r="6.5"/>
<circle cx="1724.5" cy="118.0" r="6.5"/>
<circle cx="1738.2" cy="122.5" r="6.5"/>
<circle cx="1742.0" cy="133.2" r="6.5"/>
<circle cx="1728.2" cy="145.0" r="6.5"/>
<circle cx="1757.0" cy="127.5" r="6.5"/>
<circle cx="1775.8" cy="120.0" r="6.5"/>
<circle cx="1779.5" cy="130.0" r="6.5"/>
<circle cx="1782.0" cy="136.2" r="6.5"/>
<circle cx="1796.5" cy="101.2" r="6.5"/>
<circle cx="1855.8" cy="120.0" r="6.5"/>
<circle cx="1709.5" cy="153.2" r="6.5"/>
<circle cx="1760.2" cy="153.2" r="6.5"/>
<circle cx="1742.5" cy="160.0" r="6.5"/>
<circle cx="1726.5" cy="163.8" r="6.5"/>
<circle cx="1657.0" cy="161.2" r="6.5"/>
<circle cx="1662.8" cy="163.8" r="6.5"/>
<circle cx="1640.2" cy="169.2" r="6.5"/>
<circle cx="1659.0" cy="177.5" r="6.5"/>
<circle cx="1677.0" cy="174.5" r="6.5"/>
<circle cx="1757.0" cy="170.5" r="6.5"/>
<circle cx="1779.5" cy="168.0" r="6.5"/>
<circle cx="1798.2" cy="167.0" r="6.5"/>
<circle cx="1808.8" cy="167.0" r="6.5"/>
<circle cx="1722.8" cy="178.8" r="6.5"/>
<circle cx="1733.2" cy="179.2" r="6.5"/>
<circle cx="1693.2" cy="188.8" r="6.5"/>
<circle cx="1635.8" cy="200.0" r="6.5"/>
<circle cx="1667.5" cy="198.8" r="6.5"/>
<circle cx="1754.5" cy="198.8" r="6.5"/>
<circle cx="1659.0" cy="214.2" r="6.5"/>
<circle cx="1662.0" cy="223.8" r="6.5"/>
<circle cx="1774.0" cy="208.0" r="6.5"/>
<circle cx="1704.0" cy="226.2" r="6.5"/>
<circle cx="1702.0" cy="247.5" r="6.5"/>
<circle cx="1783.2" cy="260.0" r="6.5"/>
<circle cx="1804.0" cy="273.8" r="6.5"/>
<circle cx="1758.2" cy="280.5" r="6.5"/>
<circle cx="1629.0" cy="288.8" r="6.5"/>
<circle cx="1623.2" cy="300.8" r="6.5"/>
<circle cx="1669.5" cy="301.8" r="6.5"/>
<circle cx="1740.2" cy="301.8" r="6.5"/>
<circle cx="1643.2" cy="310.5" r="6.5"/>
<circle cx="1649.5" cy="313.2" r="6.5"/>
<circle cx="1730.2" cy="309.5" r="6.5"/>
<circle cx="1770.8" cy="317.0" r="6.5"/>
<circle cx="1736.5" cy="323.8" r="6.5"/>
<circle cx="1626.2" cy="331.2" r="6.5"/>
<circle cx="1842.0" cy="160.0" r="6.5"/>
<circle cx="1845.8" cy="159.2" r="6.5"/>
<circle cx="1855.8" cy="171.2" r="6.5"/>
<circle cx="1845.8" cy="174.2" r="6.5"/>
<circle cx="1840.8" cy="178.8" r="6.5"/>
<circle cx="1838.2" cy="197.0" r="6.5"/>
<circle cx="1844.0" cy="197.0" r="6.5"/>
<circle cx="1855.8" cy="215.0" r="6.5"/>
<circle cx="1841.5" cy="227.5" r="6.5"/>
<circle cx="1841.5" cy="245.5" r="6.5"/>
<circle cx="1839.5" cy="257.5" r="6.5"/>
<circle cx="1844.0" cy="280.0" r="6.5"/>
<circle cx="1840.2" cy="287.5" r="6.5"/>
<circle cx="1840.8" cy="311.8" r="6.5"/>
<circle cx="1920.8" cy="98.2" r="6.5"/>
<circle cx="1920.8" cy="115.0" r="6.5"/>
<circle cx="1923.2" cy="118.8" r="6.5"/>
<circle cx="1918.2" cy="126.2" r="6.5"/>
<circle cx="1923.2" cy="125.0" r="6.5"/>
<circle cx="1920.8" cy="137.5" r="6.5"/>
<circle cx="1920.8" cy="155.5" r="6.5"/>
<circle cx="1931.5" cy="158.0" r="6.5"/>
<circle cx="1920.8" cy="163.8" r="6.5"/>
<circle cx="1923.2" cy="175.0" r="6.5"/>
<circle cx="1923.2" cy="180.0" r="6.5"/>
<circle cx="1918.2" cy="187.5" r="6.5"/>
<circle cx="1922.0" cy="186.2" r="6.5"/>
<circle cx="1922.0" cy="203.0" r="6.5"/>
<circle cx="1931.5" cy="204.5" r="6.5"/>
<circle cx="1931.5" cy="225.0" r="6.5"/>
<circle cx="1923.2" cy="243.8" r="6.5"/>
<circle cx="1918.2" cy="247.5" r="6.5"/>
<circle cx="1920.8" cy="262.0" r="6.5"/>
<circle cx="1918.2" cy="303.8" r="6.5"/>
<circle cx="1931.5" cy="330.0" r="6.5"/>
<circle cx="1590.8" cy="358.8" r="6.5"/>
<circle cx="1590.8" cy="365.0" r="6.5"/>
<circle cx="1633.8" cy="339.2" r="6.5"/>
<circle cx="1757.0" cy="346.2" r="6.5"/>
<circle cx="1750.8" cy="347.5" r="6.5"/>
<circle cx="1748.2" cy="356.2" r="6.5"/>
<circle cx="1707.0" cy="365.5" r="6.5"/>
<circle cx="1688.2" cy="376.2" r="6.5"/>
<circle cx="1695.8" cy="378.0" r="6.5"/>
<circle cx="1807.0" cy="375.8" r="6.5"/>
<circle cx="1840.2" cy="344.2" r="6.5"/>
<circle cx="1839.5" cy="388.8" r="6.5"/>
<circle cx="1840.8" cy="400.0" r="6.5"/>
<circle cx="1922.8" cy="337.5" r="6.5"/>
<circle cx="1918.2" cy="342.5" r="6.5"/>
<circle cx="1922.8" cy="347.5" r="6.5"/>
<circle cx="1922.8" cy="397.5" r="6.5"/>
<circle cx="1922.8" cy="401.2" r="6.5"/>
<circle cx="1922.8" cy="411.2" r="6.5"/>
<circle cx="1970.0" cy="385.0" r="6.5"/>
<circle cx="1690.2" cy="419.2" r="6.5"/>
<circle cx="1657.0" cy="423.8" r="6.5"/>
<circle cx="1699.0" cy="435.8" r="6.5"/>
<circle cx="1788.2" cy="420.8" r="6.5"/>
<circle cx="1824.0" cy="425.0" r="6.5"/>
<circle cx="1785.2" cy="443.8" r="6.5"/>
<circle cx="1844.0" cy="435.0" r="6.5"/>
<circle cx="1839.5" cy="440.0" r="6.5"/>
<circle cx="1844.0" cy="443.2" r="6.5"/>
<circle cx="1966.5" cy="448.8" r="6.5"/>
<circle cx="1981.7" cy="112.8" r="6.5"/>
<circle cx="1979.7" cy="171.7" r="6.5"/>
<circle cx="1976.7" cy="362.2" r="6.5"/>
<circle cx="1983.4" cy="460.7" r="6.5"/>
<circle cx="1986.4" cy="497.9" r="6.5"/>
</g>
<g fill="#800080">
<circle cx="358.2" cy="152.0" r="6.5"/>
<circle cx="347.0" cy="247.0" r="6.5"/>
<circle cx="348.5" cy="261.2" r="6.5"/>
<circle cx="333.8" cy="273.2" r="6.5"/>
<circle cx="337.5" cy="290.0" r="6.5"/>
<circle cx="345.0" cy="426.8" r="6.5"/>
<circle cx="650.5" cy="153.0" r="6.5"/>
<circle cx="652.2" cy="260.0" r="6.5"/>
<circle cx="629.0" cy="280.8" r="6.5"/>
<circle cx="634.8" cy="378.0" r="6.5"/>
<circle cx="621.5" cy="407.0" r="6.5"/>
<circle cx="1033.5" cy="394.5" r="6.5"/>
<circle cx="1044.0" cy="400.5" r="6.5"/>
<circle cx="1340.2" cy="171.2" r="6.5"/>
<circle cx="1341.5" cy="199.5" r="6.5"/>
<circle cx="1370.2" cy="203.2" r="6.5"/>
<circle cx="1386.5" cy="198.0" r="6.5"/>
<circle cx="1404.0" cy="203.0" r="6.5"/>
<circle cx="1422.8" cy="211.2" r="6.5"/>
<circle cx="1364.8" cy="243.8" r="6.5"/>
<circle cx="1424.8" cy="244.2" r="6.5"/>
<circle cx="1339.0" cy="275.0" r="6.5"/>
<circle cx="1357.2" cy="348.8" r="6.5"/>
<circle cx="1381.5" cy="375.5" r="6.5"/>
<circle cx="1723.8" cy="104.5" r="6.5"/>
<circle cx="1773.2" cy="126.2" r="6.5"/>
<circle cx="1697.5" cy="146.2" r="6.5"/>
<circle cx="1724.5" cy="153.0" r="6.5"/>
<circle cx="1690.2" cy="162.0" r="6.5"/>
<circle cx="1691.2" cy="178.0" r="6.5"/>
<circle cx="1703.2" cy="184.2" r="6.5"/>
<circle cx="1692.8" cy="215.5" r="6.5"/>
<circle cx="1707.8" cy="220.8" r="6.5"/>
<circle cx="1725.8" cy="233.0" r="6.5"/>
<circle cx="1726.5" cy="243.0" r="6.5"/>
<circle cx="1700.2" cy="271.2" r="6.5"/>
<circle cx="1685.2" cy="279.5" r="6.5"/>
<circle cx="1699.5" cy="282.0" r="6.5"/>
<circle cx="1694.5" cy="296.8" r="6.5"/>
<circle cx="1789.0" cy="285.0" r="6.5"/>
<circle cx="1705.8" cy="336.2" r="6.5"/>
<circle cx="1695.2" cy="347.5" r="6.5"/>
<circle cx="1700.8" cy="356.2" r="6.5"/>
<circle cx="1695.8" cy="360.0" r="6.5"/>
<circle cx="1782.5" cy="395.8" r="6.5"/>
</g>
</g>
<clipPath id="c2"><rect x="138.0" y="778.9" width="1936.6999999999998" height="643.8000000000001"/></clipPath>
<g id="p2" clip-path="url(#c2)">
<g fill="#2ca02c">
<circle cx="165.5" cy="1144.5" r="6.5"/>
<circle cx="1133.8" cy="1144.5" r="6.5"/>
<circle cx="155.0" cy="1206.2" r="6.5"/>
<circle cx="1123.3" cy="1206.2" r="6.5"/>
<circle cx="150.0" cy="1252.0" r="6.5"/>
<circle cx="1118.3" cy="1252.0" r="6.5"/>
<circle cx="170.5" cy="1256.2" r="6.5"/>
<circle cx="1138.8" cy="1256.2" r="6.5"/>
<circle cx="145.5" cy="1270.0" r="6.5"/>
<circle cx="1113.8" cy="1270.0" r="6.5"/>
<circle cx="165.5" cy="1267.5" r="6.5"/>
<circle cx="1133.8" cy="1267.5" r="6.5"/>
<circle cx="155.5" cy="1277.5" r="6.5"/>
<circle cx="1123.8" cy="1277.5" r="6.5"/>
<circle cx="154.2" cy="1288.8" r="6.5"/>
<circle cx="1122.6" cy="1288.8" r="6.5"/>
<circle cx="145.5" cy="1304.5" r="6.5"/>
<circle cx="1113.8" cy="1304.5" r="6.5"/>
<circle cx="163.0" cy="1305.8" r="6.5"/>
<circle cx="1131.3" cy="1305.8" r="6.5"/>
<circle cx="170.5" cy="1310.0" r="6.5"/>
<circle cx="1138.8" cy="1310.0" r="6.5"/>
<circle cx="179.2" cy="1293.8" r="6.5"/>
<circle cx="1147.6" cy="1293.8" r="6.5"/>
<circle cx="185.5" cy="1297.5" r="6.5"/>
<circle cx="1153.8" cy="1297.5" r="6.5"/>
<circle cx="178.0" cy="1305.0" r="6.5"/>
<circle cx="1146.3" cy="1305.0" r="6.5"/>
<circle cx="175.5" cy="1312.5" r="6.5"/>
<circle cx="1143.8" cy="1312.5" r="6.5"/>
<circle cx="179.2" cy="1321.2" r="6.5"/>
<circle cx="1147.6" cy="1321.2" r="6.5"/>
<circle cx="184.2" cy="1328.8" r="6.5"/>
<circle cx="1152.6" cy="1328.8" r="6.5"/>
<circle cx="223.5" cy="1288.8" r="6.5"/>
<circle cx="1191.8" cy="1288.8" r="6.5"/>
<circle cx="191.8" cy="1302.5" r="6.5"/>
<circle cx="1160.1" cy="1302.5" r="6.5"/>
<circle cx="204.2" cy="1300.0" r="6.5"/>
<circle cx="1172.6" cy="1300.0" r="6.5"/>
<circle cx="193.0" cy="1313.8" r="6.5"/>
<circle cx="1161.3" cy="1313.8" r="6.5"/>
<circle cx="206.8" cy="1310.0" r="6.5"/>
<circle cx="1175.1" cy="1310.0" r="6.5"/>
<circle cx="191.8" cy="1325.0" r="6.5"/>
<circle cx="1160.1" cy="1325.0" r="6.5"/>
<circle cx="212.2" cy="1330.0" r="6.5"/>
<circle cx="1180.6" cy="1330.0" r="6.5"/>
<circle cx="220.5" cy="1328.8" r="6.5"/>
<circle cx="1188.8" cy="1328.8" r="6.5"/>
<circle cx="214.2" cy="1345.0" r="6.5"/>
<circle cx="1182.6" cy="1345.0" r="6.5"/>
<circle cx="228.5" cy="1350.0" r="6.5"/>
<circle cx="1196.8" cy="1350.0" r="6.5"/>
<circle cx="236.8" cy="1371.2" r="6.5"/>
<circle cx="1205.1" cy="1371.2" r="6.5"/>
<circle cx="238.0" cy="1382.5" r="6.5"/>
<circle cx="1206.3" cy="1382.5" r="6.5"/>
<circle cx="256.2" cy="1310.0" r="6.5"/>
<circle cx="1224.6" cy="1310.0" r="6.5"/>
<circle cx="263.0" cy="1322.5" r="6.5"/>
<circle cx="1231.3" cy="1322.5" r="6.5"/>
<circle cx="240.5" cy="1334.5" r="6.5"/>
<circle cx="1208.8" cy="1334.5" r="6.5"/>
<circle cx="266.8" cy="1332.5" r="6.5"/>
<circle cx="1235.1" cy="1332.5" r="6.5"/>
<circle cx="256.8" cy="1343.8" r="6.5"/>
<circle cx="1225.1" cy="1343.8" r="6.5"/>
<circle cx="248.0" cy="1348.8" r="6.5"/>
<circle cx="1216.3" cy="1348.8" r="6.5"/>
<circle cx="263.0" cy="1350.0" r="6.5"/>
<circle cx="1231.3" cy="1350.0" r="6.5"/>
<circle cx="268.0" cy="1355.0" r="6.5"/>
<circle cx="1236.3" cy="1355.0" r="6.5"/>
<circle cx="260.5" cy="1361.2" r="6.5"/>
<circle cx="1228.8" cy="1361.2" r="6.5"/>
<circle cx="255.5" cy="1366.2" r="6.5"/>
<circle cx="1223.8" cy="1366.2" r="6.5"/>
<circle cx="265.5" cy="1366.2" r="6.5"/>
<circle cx="1233.8" cy="1366.2" r="6.5"/>
<circle cx="271.8" cy="1362.5" r="6.5"/>
<circle cx="1240.1" cy="1362.5" r="6.5"/>
<circle cx="255.5" cy="1373.8" r="6.5"/>
<circle cx="1223.8" cy="1373.8" r="6.5"/>
<circle cx="286.8" cy="1343.8" r="6.5"/>
<circle cx="1255.1" cy="1343.8" r="6.5"/>
<circle cx="284.2" cy="1373.8" r="6.5"/>
<circle cx="1252.6" cy="1373.8" r="6.5"/>
<circle cx="296.8" cy="1355.0" r="6.5"/>
<circle cx="1265.1" cy="1355.0" r="6.5"/>
<circle cx="318.0" cy="1336.2" r="6.5"/>
<circle cx="1286.3" cy="1336.2" r="6.5"/>
<circle cx="311.8" cy="1358.8" r="6.5"/>
<circle cx="1280.1" cy="1358.8" r="6.5"/>
<circle cx="328.0" cy="1360.0" r="6.5"/>
<circle cx="1296.3" cy="1360.0" r="6.5"/>
<circle cx="335.5" cy="1365.0" r="6.5"/>
<circle cx="1303.8" cy="1365.0" r="6.5"/>
<circle cx="295.5" cy="1371.2" r="6.5"/>
<circle cx="1263.8" cy="1371.2" r="6.5"/>
<circle cx="291.8" cy="1376.2" r="6.5"/>
<circle cx="1260.1" cy="1376.2" r="6.5"/>
<circle cx="324.2" cy="1368.8" r="6.5"/>
<circle cx="1292.6" cy="1368.8" r="6.5"/>
<circle cx="330.5" cy="1376.2" r="6.5"/>
<circle cx="1298.8" cy="1376.2" r="6.5"/>
<circle cx="321.8" cy="1381.2" r="6.5"/>
<circle cx="1290.1" cy="1381.2" r="6.5"/>
<circle cx="288.0" cy="1390.8" r="6.5"/>
<circle cx="1256.3" cy="1390.8" r="6.5"/>
<circle cx="303.0" cy="1390.8" r="6.5"/>
<circle cx="1271.3" cy="1390.8" r="6.5"/>
<circle cx="316.8" cy="1382.0" r="6.5"/>
<circle cx="1285.1" cy="1382.0" r="6.5"/>
<circle cx="339.2" cy="1366.2" r="6.5"/>
<circle cx="1307.6" cy="1366.2" r="6.5"/>
<circle cx="363.0" cy="1370.0" r="6.5"/>
<circle cx="1331.3" cy="1370.0" r="6.5"/>
<circle cx="373.0" cy="1330.0" r="6.5"/>
<circle cx="1341.3" cy="1330.0" r="6.5"/>
<circle cx="371.8" cy="1363.8" r="6.5"/>
<circle cx="1340.1" cy="1363.8" r="6.5"/>
<circle cx="373.0" cy="1385.0" r="6.5"/>
<circle cx="1341.3" cy="1385.0" r="6.5"/>
<circle cx="380.5" cy="1381.2" r="6.5"/>
<circle cx="1348.8" cy="1381.2" r="6.5"/>
<circle cx="379.2" cy="1365.0" r="6.5"/>
<circle cx="1347.6" cy="1365.0" r="6.5"/>
<circle cx="411.8" cy="1302.5" r="6.5"/>
<circle cx="1380.1" cy="1302.5" r="6.5"/>
<circle cx="396.8" cy="1323.8" r="6.5"/>
<circle cx="1365.1" cy="1323.8" r="6.5"/>
<circle cx="419.2" cy="1344.5" r="6.5"/>
<circle cx="1387.6" cy="1344.5" r="6.5"/>
<circle cx="395.5" cy="1347.5" r="6.5"/>
<circle cx="1363.8" cy="1347.5" r="6.5"/>
<circle cx="400.5" cy="1363.8" r="6.5"/>
<circle cx="1368.8" cy="1363.8" r="6.5"/>
<circle cx="418.0" cy="1362.5" r="6.5"/>
<circle cx="1386.3" cy="1362.5" r="6.5"/>
<circle cx="401.8" cy="1373.8" r="6.5"/>
<circle cx="1370.1" cy="1373.8" r="6.5"/>
<circle cx="391.8" cy="1378.8" r="6.5"/>
<circle cx="1360.1" cy="1378.8" r="6.5"/>
<circle cx="435.5" cy="1362.5" r="6.5"/>
<circle cx="1403.8" cy="1362.5" r="6.5"/>
<circle cx="436.8" cy="1368.8" r="6.5"/>
<circle cx="1405.1" cy="1368.8" r="6.5"/>
<circle cx="478.0" cy="1273.8" r="6.5"/>
<circle cx="1446.3" cy="1273.8" r="6.5"/>
<circle cx="450.5" cy="1304.5" r="6.5"/>
<circle cx="1418.8" cy="1304.5" r="6.5"/>
<circle cx="439.2" cy="1310.0" r="6.5"/>
<circle cx="1407.6" cy="1310.0" r="6.5"/>
<circle cx="473.0" cy="1305.8" r="6.5"/>
<circle cx="1441.3" cy="1305.8" r="6.5"/>
<circle cx="439.2" cy="1325.0" r="6.5"/>
<circle cx="1407.6" cy="1325.0" r="6.5"/>
<circle cx="461.8" cy="1322.5" r="6.5"/>
<circle cx="1430.1" cy="1322.5" r="6.5"/>
<circle cx="470.5" cy="1330.0" r="6.5"/>
<circle cx="1438.8" cy="1330.0" r="6.5"/>
<circle cx="474.2" cy="1338.8" r="6.5"/>
<circle cx="1442.6" cy="1338.8" r="6.5"/>
<circle cx="456.8" cy="1341.2" r="6.5"/>
<circle cx="1425.1" cy="1341.2" r="6.5"/>
<circle cx="446.8" cy="1345.0" r="6.5"/>
<circle cx="1415.1" cy="1345.0" r="6.5"/>
<circle cx="451.8" cy="1350.0" r="6.5"/>
<circle cx="1420.1" cy="1350.0" r="6.5"/>
<circle cx="465.5" cy="1347.5" r="6.5"/>
<circle cx="1433.8" cy="1347.5" r="6.5"/>
<circle cx="445.5" cy="1357.5" r="6.5"/>
<circle cx="1413.8" cy="1357.5" r="6.5"/>
<circle cx="456.8" cy="1362.5" r="6.5"/>
<circle cx="1425.1" cy="1362.5" r="6.5"/>
<circle cx="450.5" cy="1365.0" r="6.5"/>
<circle cx="1418.8" cy="1365.0" r="6.5"/>
<circle cx="486.8" cy="1318.8" r="6.5"/>
<circle cx="1455.1" cy="1318.8" r="6.5"/>
<circle cx="486.8" cy="1340.0" r="6.5"/>
<circle cx="1455.1" cy="1340.0" r="6.5"/>
<circle cx="518.0" cy="1255.0" r="6.5"/>
<circle cx="1486.3" cy="1255.0" r="6.5"/>
<circle cx="533.0" cy="1273.8" r="6.5"/>
<circle cx="1501.3" cy="1273.8" r="6.5"/>
<circle cx="513.0" cy="1278.2" r="6.5"/>
<circle cx="1481.3" cy="1278.2" r="6.5"/>
<circle cx="535.5" cy="1280.0" r="6.5"/>
<circle cx="1503.8" cy="1280.0" r="6.5"/>
<circle cx="510.5" cy="1292.5" r="6.5"/>
<circle cx="1478.8" cy="1292.5" r="6.5"/>
<circle cx="491.8" cy="1297.5" r="6.5"/>
<circle cx="1460.1" cy="1297.5" r="6.5"/>
<circle cx="505.5" cy="1302.5" r="6.5"/>
<circle cx="1473.8" cy="1302.5" r="6.5"/>
<circle cx="518.0" cy="1302.5" r="6.5"/>
<circle cx="1486.3" cy="1302.5" r="6.5"/>
<circle cx="526.8" cy="1312.5" r="6.5"/>
<circle cx="1495.1" cy="1312.5" r="6.5"/>
<circle cx="508.0" cy="1316.2" r="6.5"/>
<circle cx="1476.3" cy="1316.2" r="6.5"/>
<circle cx="495.5" cy="1318.8" r="6.5"/>
<circle cx="1463.8" cy="1318.8" r="6.5"/>
<circle cx="533.0" cy="1327.5" r="6.5"/>
<circle cx="1501.3" cy="1327.5" r="6.5"/>
<circle cx="535.5" cy="1336.2" r="6.5"/>
<circle cx="1503.8" cy="1336.2" r="6.5"/>
<circle cx="491.8" cy="1340.0" r="6.5"/>
<circle cx="1460.1" cy="1340.0" r="6.5"/>
<circle cx="496.8" cy="1333.8" r="6.5"/>
<circle cx="1465.1" cy="1333.8" r="6.5"/>
<circle cx="503.0" cy="1335.0" r="6.5"/>
<circle cx="1471.3" cy="1335.0" r="6.5"/>
<circle cx="496.8" cy="1341.2" r="6.5"/>
<circle cx="1465.1" cy="1341.2" r="6.5"/>
<circle cx="510.5" cy="1355.5" r="6.5"/>
<circle cx="1478.8" cy="1355.5" r="6.5"/>
<circle cx="536.8" cy="1293.8" r="6.5"/>
<circle cx="1505.1" cy="1293.8" r="6.5"/>
<circle cx="580.5" cy="1156.2" r="6.5"/>
<circle cx="1548.8" cy="1156.2" r="6.5"/>
<circle cx="551.8" cy="1201.2" r="6.5"/>
<circle cx="1520.1" cy="1201.2" r="6.5"/>
<circle cx="574.2" cy="1197.5" r="6.5"/>
<circle cx="1542.6" cy="1197.5" r="6.5"/>
<circle cx="578.0" cy="1206.2" r="6.5"/>
<circle cx="1546.3" cy="1206.2" r="6.5"/>
<circle cx="563.0" cy="1220.0" r="6.5"/>
<circle cx="1531.3" cy="1220.0" r="6.5"/>
<circle cx="584.2" cy="1222.5" r="6.5"/>
<circle cx="1552.6" cy="1222.5" r="6.5"/>
<circle cx="570.5" cy="1247.5" r="6.5"/>
<circle cx="1538.8" cy="1247.5" r="6.5"/>
<circle cx="545.5" cy="1250.0" r="6.5"/>
<circle cx="1513.8" cy="1250.0" r="6.5"/>
<circle cx="553.0" cy="1265.0" r="6.5"/>
<circle cx="1521.3" cy="1265.0" r="6.5"/>
<circle cx="585.5" cy="1264.2" r="6.5"/>
<circle cx="1553.8" cy="1264.2" r="6.5"/>
<circle cx="548.0" cy="1276.2" r="6.5"/>
<circle cx="1516.3" cy="1276.2" r="6.5"/>
<circle cx="563.0" cy="1280.8" r="6.5"/>
<circle cx="1531.3" cy="1280.8" r="6.5"/>
<circle cx="540.5" cy="1286.2" r="6.5"/>
<circle cx="1508.8" cy="1286.2" r="6.5"/>
<circle cx="585.5" cy="1285.0" r="6.5"/>
<circle cx="1553.8" cy="1285.0" r="6.5"/>
<circle cx="589.2" cy="1292.5" r="6.5"/>
<circle cx="1557.6" cy="1292.5" r="6.5"/>
<circle cx="593.0" cy="1298.8" r="6.5"/>
<circle cx="1561.3" cy="1298.8" r="6.5"/>
<circle cx="554.2" cy="1300.8" r="6.5"/>
<circle cx="1522.6" cy="1300.8" r="6.5"/>
<circle cx="553.0" cy="1312.5" r="6.5"/>
<circle cx="1521.3" cy="1312.5" r="6.5"/>
<circle cx="546.0" cy="1321.2" r="6.5"/>
<circle cx="1514.3" cy="1321.2" r="6.5"/>
<circle cx="570.5" cy="1323.2" r="6.5"/>
<circle cx="1538.8" cy="1323.2" r="6.5"/>
<circle cx="544.8" cy="1353.0" r="6.5"/>
<circle cx="1513.1" cy="1353.0" r="6.5"/>
<circle cx="596.0" cy="1286.2" r="6.5"/>
<circle cx="1564.3" cy="1286.2" r="6.5"/>
<circle cx="616.5" cy="1137.0" r="6.5"/>
<circle cx="1584.8" cy="1137.0" r="6.5"/>
<circle cx="613.5" cy="1196.2" r="6.5"/>
<circle cx="1581.8" cy="1196.2" r="6.5"/>
<circle cx="632.2" cy="1194.5" r="6.5"/>
<circle cx="1600.6" cy="1194.5" r="6.5"/>
<circle cx="646.0" cy="1200.0" r="6.5"/>
<circle cx="1614.3" cy="1200.0" r="6.5"/>
<circle cx="606.0" cy="1216.2" r="6.5"/>
<circle cx="1574.3" cy="1216.2" r="6.5"/>
<circle cx="624.2" cy="1222.5" r="6.5"/>
<circle cx="1592.6" cy="1222.5" r="6.5"/>
<circle cx="601.0" cy="1233.8" r="6.5"/>
<circle cx="1569.3" cy="1233.8" r="6.5"/>
<circle cx="621.0" cy="1240.0" r="6.5"/>
<circle cx="1589.3" cy="1240.0" r="6.5"/>
<circle cx="607.2" cy="1252.0" r="6.5"/>
<circle cx="1575.6" cy="1252.0" r="6.5"/>
<circle cx="613.5" cy="1260.0" r="6.5"/>
<circle cx="1581.8" cy="1260.0" r="6.5"/>
<circle cx="622.2" cy="1265.0" r="6.5"/>
<circle cx="1590.6" cy="1265.0" r="6.5"/>
<circle cx="629.8" cy="1254.5" r="6.5"/>
<circle cx="1598.1" cy="1254.5" r="6.5"/>
<circle cx="614.8" cy="1276.2" r="6.5"/>
<circle cx="1583.1" cy="1276.2" r="6.5"/>
<circle cx="643.5" cy="1272.0" r="6.5"/>
<circle cx="1611.8" cy="1272.0" r="6.5"/>
<circle cx="647.2" cy="1247.0" r="6.5"/>
<circle cx="1615.6" cy="1247.0" r="6.5"/>
<circle cx="656.0" cy="1124.5" r="6.5"/>
<circle cx="1624.3" cy="1124.5" r="6.5"/>
<circle cx="672.2" cy="1147.5" r="6.5"/>
<circle cx="1640.6" cy="1147.5" r="6.5"/>
<circle cx="679.8" cy="1151.2" r="6.5"/>
<circle cx="1648.1" cy="1151.2" r="6.5"/>
<circle cx="661.5" cy="1152.5" r="6.5"/>
<circle cx="1629.8" cy="1152.5" r="6.5"/>
<circle cx="659.8" cy="1187.5" r="6.5"/>
<circle cx="1628.1" cy="1187.5" r="6.5"/>
<circle cx="669.8" cy="1188.8" r="6.5"/>
<circle cx="1638.1" cy="1188.8" r="6.5"/>
<circle cx="692.2" cy="1182.5" r="6.5"/>
<circle cx="1660.6" cy="1182.5" r="6.5"/>
<circle cx="683.5" cy="1203.8" r="6.5"/>
<circle cx="1651.8" cy="1203.8" r="6.5"/>
<circle cx="669.8" cy="1208.8" r="6.5"/>
<circle cx="1638.1" cy="1208.8" r="6.5"/>
<circle cx="690.5" cy="1217.5" r="6.5"/>
<circle cx="1658.8" cy="1217.5" r="6.5"/>
<circle cx="655.5" cy="1225.0" r="6.5"/>
<circle cx="1623.8" cy="1225.0" r="6.5"/>
<circle cx="671.0" cy="1221.2" r="6.5"/>
<circle cx="1639.3" cy="1221.2" r="6.5"/>
<circle cx="679.2" cy="1237.5" r="6.5"/>
<circle cx="1647.6" cy="1237.5" r="6.5"/>
<circle cx="665.5" cy="1245.5" r="6.5"/>
<circle cx="1633.8" cy="1245.5" r="6.5"/>
<circle cx="669.8" cy="1250.0" r="6.5"/>
<circle cx="1638.1" cy="1250.0" r="6.5"/>
<circle cx="676.0" cy="1253.0" r="6.5"/>
<circle cx="1644.3" cy="1253.0" r="6.5"/>
<circle cx="682.2" cy="1261.2" r="6.5"/>
<circle cx="1650.6" cy="1261.2" r="6.5"/>
<circle cx="688.5" cy="1261.2" r="6.5"/>
<circle cx="1656.8" cy="1261.2" r="6.5"/>
<circle cx="654.8" cy="1272.5" r="6.5"/>
<circle cx="1623.1" cy="1272.5" r="6.5"/>
<circle cx="664.8" cy="1273.8" r="6.5"/>
<circle cx="1633.1" cy="1273.8" r="6.5"/>
<circle cx="657.2" cy="1282.5" r="6.5"/>
<circle cx="1625.6" cy="1282.5" r="6.5"/>
<circle cx="657.2" cy="1290.0" r="6.5"/>
<circle cx="1625.6" cy="1290.0" r="6.5"/>
<circle cx="679.8" cy="1275.0" r="6.5"/>
<circle cx="1648.1" cy="1275.0" r="6.5"/>
<circle cx="678.5" cy="1288.0" r="6.5"/>
<circle cx="1646.8" cy="1288.0" r="6.5"/>
<circle cx="721.0" cy="1145.0" r="6.5"/>
<circle cx="1689.3" cy="1145.0" r="6.5"/>
<circle cx="718.5" cy="1197.5" r="6.5"/>
<circle cx="1686.8" cy="1197.5" r="6.5"/>
<circle cx="726.0" cy="1208.0" r="6.5"/>
<circle cx="1694.3" cy="1208.0" r="6.5"/>
<circle cx="714.8" cy="1223.0" r="6.5"/>
<circle cx="1683.1" cy="1223.0" r="6.5"/>
<circle cx="733.0" cy="1225.0" r="6.5"/>
<circle cx="1701.3" cy="1225.0" r="6.5"/>
<circle cx="739.8" cy="1219.5" r="6.5"/>
<circle cx="1708.1" cy="1219.5" r="6.5"/>
<circle cx="718.5" cy="1253.8" r="6.5"/>
<circle cx="1686.8" cy="1253.8" r="6.5"/>
<circle cx="720.2" cy="1273.8" r="6.5"/>
<circle cx="1688.6" cy="1273.8" r="6.5"/>
<circle cx="736.5" cy="1273.8" r="6.5"/>
<circle cx="1704.8" cy="1273.8" r="6.5"/>
<circle cx="721.8" cy="1288.0" r="6.5"/>
<circle cx="1690.1" cy="1288.0" r="6.5"/>
<circle cx="737.2" cy="1300.0" r="6.5"/>
<circle cx="1705.6" cy="1300.0" r="6.5"/>
<circle cx="746.0" cy="1201.2" r="6.5"/>
<circle cx="1714.3" cy="1201.2" r="6.5"/>
<circle cx="787.8" cy="1152.5" r="6.5"/>
<circle cx="1756.1" cy="1152.5" r="6.5"/>
<circle cx="794.8" cy="1171.2" r="6.5"/>
<circle cx="1763.1" cy="1171.2" r="6.5"/>
<circle cx="756.0" cy="1197.5" r="6.5"/>
<circle cx="1724.3" cy="1197.5" r="6.5"/>
<circle cx="750.2" cy="1201.2" r="6.5"/>
<circle cx="1718.6" cy="1201.2" r="6.5"/>
<circle cx="779.8" cy="1204.5" r="6.5"/>
<circle cx="1748.1" cy="1204.5" r="6.5"/>
<circle cx="766.0" cy="1213.8" r="6.5"/>
<circle cx="1734.3" cy="1213.8" r="6.5"/>
<circle cx="756.0" cy="1220.0" r="6.5"/>
<circle cx="1724.3" cy="1220.0" r="6.5"/>
<circle cx="795.2" cy="1213.8" r="6.5"/>
<circle cx="1763.6" cy="1213.8" r="6.5"/>
<circle cx="791.0" cy="1233.8" r="6.5"/>
<circle cx="1759.3" cy="1233.8" r="6.5"/>
<circle cx="787.8" cy="1252.5" r="6.5"/>
<circle cx="1756.1" cy="1252.5" r="6.5"/>
<circle cx="794.8" cy="1257.5" r="6.5"/>
<circle cx="1763.1" cy="1257.5" r="6.5"/>
<circle cx="780.2" cy="1284.2" r="6.5"/>
<circle cx="1748.6" cy="1284.2" r="6.5"/>
<circle cx="780.2" cy="1293.2" r="6.5"/>
<circle cx="1748.6" cy="1293.2" r="6.5"/>
<circle cx="793.5" cy="1267.0" r="6.5"/>
<circle cx="1761.8" cy="1267.0" r="6.5"/>
<circle cx="831.0" cy="1137.5" r="6.5"/>
<circle cx="1799.3" cy="1137.5" r="6.5"/>
<circle cx="831.0" cy="1145.0" r="6.5"/>
<circle cx="1799.3" cy="1145.0" r="6.5"/>
<circle cx="801.0" cy="1142.5" r="6.5"/>
<circle cx="1769.3" cy="1142.5" r="6.5"/>
<circle cx="807.2" cy="1153.8" r="6.5"/>
<circle cx="1775.6" cy="1153.8" r="6.5"/>
<circle cx="823.5" cy="1162.5" r="6.5"/>
<circle cx="1791.8" cy="1162.5" r="6.5"/>
<circle cx="846.0" cy="1172.5" r="6.5"/>
<circle cx="1814.3" cy="1172.5" r="6.5"/>
<circle cx="834.8" cy="1183.8" r="6.5"/>
<circle cx="1803.1" cy="1183.8" r="6.5"/>
<circle cx="837.2" cy="1193.0" r="6.5"/>
<circle cx="1805.6" cy="1193.0" r="6.5"/>
<circle cx="802.8" cy="1195.0" r="6.5"/>
<circle cx="1771.1" cy="1195.0" r="6.5"/>
<circle cx="820.2" cy="1201.2" r="6.5"/>
<circle cx="1788.6" cy="1201.2" r="6.5"/>
<circle cx="841.8" cy="1206.8" r="6.5"/>
<circle cx="1810.1" cy="1206.8" r="6.5"/>
<circle cx="804.8" cy="1238.8" r="6.5"/>
<circle cx="1773.1" cy="1238.8" r="6.5"/>
<circle cx="814.8" cy="1252.5" r="6.5"/>
<circle cx="1783.1" cy="1252.5" r="6.5"/>
<circle cx="798.5" cy="1266.2" r="6.5"/>
<circle cx="1766.8" cy="1266.2" r="6.5"/>
<circle cx="801.0" cy="1278.0" r="6.5"/>
<circle cx="1769.3" cy="1278.0" r="6.5"/>
<circle cx="843.5" cy="1337.5" r="6.5"/>
<circle cx="1811.8" cy="1337.5" r="6.5"/>
<circle cx="865.5" cy="1105.5" r="6.5"/>
<circle cx="1833.8" cy="1105.5" r="6.5"/>
<circle cx="886.0" cy="1133.8" r="6.5"/>
<circle cx="1854.3" cy="1133.8" r="6.5"/>
<circle cx="869.8" cy="1145.0" r="6.5"/>
<circle cx="1838.1" cy="1145.0" r="6.5"/>
<circle cx="893.5" cy="1145.0" r="6.5"/>
<circle cx="1861.8" cy="1145.0" r="6.5"/>
<circle cx="861.0" cy="1153.8" r="6.5"/>
<circle cx="1829.3" cy="1153.8" r="6.5"/>
<circle cx="878.5" cy="1158.8" r="6.5"/>
<circle cx="1846.8" cy="1158.8" r="6.5"/>
<circle cx="887.2" cy="1153.8" r="6.5"/>
<circle cx="1855.6" cy="1153.8" r="6.5"/>
<circle cx="891.0" cy="1165.0" r="6.5"/>
<circle cx="1859.3" cy="1165.0" r="6.5"/>
<circle cx="856.0" cy="1170.0" r="6.5"/>
<circle cx="1824.3" cy="1170.0" r="6.5"/>
<circle cx="854.8" cy="1185.8" r="6.5"/>
<circle cx="1823.1" cy="1185.8" r="6.5"/>
<circle cx="886.8" cy="1183.2" r="6.5"/>
<circle cx="1855.1" cy="1183.2" r="6.5"/>
<circle cx="848.0" cy="1258.0" r="6.5"/>
<circle cx="1816.3" cy="1258.0" r="6.5"/>
<circle cx="863.0" cy="1257.0" r="6.5"/>
<circle cx="1831.3" cy="1257.0" r="6.5"/>
<circle cx="896.0" cy="1247.5" r="6.5"/>
<circle cx="1864.3" cy="1247.5" r="6.5"/>
<circle cx="879.8" cy="1283.2" r="6.5"/>
<circle cx="1848.1" cy="1283.2" r="6.5"/>
<circle cx="902.2" cy="1125.8" r="6.5"/>
<circle cx="1870.6" cy="1125.8" r="6.5"/>
<circle cx="931.0" cy="1110.5" r="6.5"/>
<circle cx="1899.3" cy="1110.5" r="6.5"/>
<circle cx="916.0" cy="1112.5" r="6.5"/>
<circle cx="1884.3" cy="1112.5" r="6.5"/>
<circle cx="936.8" cy="1160.0" r="6.5"/>
<circle cx="1905.1" cy="1160.0" r="6.5"/>
<circle cx="902.2" cy="1167.0" r="6.5"/>
<circle cx="1870.6" cy="1167.0" r="6.5"/>
<circle cx="902.2" cy="1182.5" r="6.5"/>
<circle cx="1870.6" cy="1182.5" r="6.5"/>
<circle cx="946.0" cy="1182.5" r="6.5"/>
<circle cx="1914.3" cy="1182.5" r="6.5"/>
<circle cx="905.5" cy="1198.8" r="6.5"/>
<circle cx="1873.8" cy="1198.8" r="6.5"/>
<circle cx="906.0" cy="1208.8" r="6.5"/>
<circle cx="1874.3" cy="1208.8" r="6.5"/>
<circle cx="932.2" cy="1200.0" r="6.5"/>
<circle cx="1900.6" cy="1200.0" r="6.5"/>
<circle cx="928.5" cy="1210.0" r="6.5"/>
<circle cx="1896.8" cy="1210.0" r="6.5"/>
<circle cx="921.8" cy="1220.0" r="6.5"/>
<circle cx="1890.1" cy="1220.0" r="6.5"/>
<circle cx="908.0" cy="1231.8" r="6.5"/>
<circle cx="1876.3" cy="1231.8" r="6.5"/>
<circle cx="924.8" cy="1232.5" r="6.5"/>
<circle cx="1893.1" cy="1232.5" r="6.5"/>
<circle cx="909.2" cy="1273.0" r="6.5"/>
<circle cx="1877.6" cy="1273.0" r="6.5"/>
<circle cx="936.0" cy="1203.8" r="6.5"/>
<circle cx="1904.3" cy="1203.8" r="6.5"/>
<circle cx="956.0" cy="1116.2" r="6.5"/>
<circle cx="1924.3" cy="1116.2" r="6.5"/>
<circle cx="963.5" cy="1116.2" r="6.5"/>
<circle cx="1931.8" cy="1116.2" r="6.5"/>
<circle cx="951.0" cy="1123.8" r="6.5"/>
<circle cx="1919.3" cy="1123.8" r="6.5"/>
<circle cx="968.5" cy="1161.8" r="6.5"/>
<circle cx="1936.8" cy="1161.8" r="6.5"/>
<circle cx="992.2" cy="1138.8" r="6.5"/>
<circle cx="1960.6" cy="1138.8" r="6.5"/>
<circle cx="995.5" cy="1156.2" r="6.5"/>
<circle cx="1963.8" cy="1156.2" r="6.5"/>
<circle cx="989.0" cy="1170.5" r="6.5"/>
<circle cx="1957.3" cy="1170.5" r="6.5"/>
<circle cx="948.5" cy="1209.2" r="6.5"/>
<circle cx="1916.8" cy="1209.2" r="6.5"/>
<circle cx="993.5" cy="1189.5" r="6.5"/>
<circle cx="1961.8" cy="1189.5" r="6.5"/>
<circle cx="993.5" cy="1201.2" r="6.5"/>
<circle cx="1961.8" cy="1201.2" r="6.5"/>
<circle cx="966.0" cy="1235.0" r="6.5"/>
<circle cx="1934.3" cy="1235.0" r="6.5"/>
<circle cx="959.8" cy="1241.2" r="6.5"/>
<circle cx="1928.1" cy="1241.2" r="6.5"/>
<circle cx="1045.5" cy="1129.5" r="6.5"/>
<circle cx="2013.8" cy="1129.5" r="6.5"/>
<circle cx="1029.8" cy="1150.0" r="6.5"/>
<circle cx="1998.1" cy="1150.0" r="6.5"/>
<circle cx="1036.0" cy="1160.0" r="6.5"/>
<circle cx="2004.3" cy="1160.0" r="6.5"/>
<circle cx="1008.5" cy="1171.2" r="6.5"/>
<circle cx="1976.8" cy="1171.2" r="6.5"/>
<circle cx="1020.2" cy="1185.8" r="6.5"/>
<circle cx="1988.6" cy="1185.8" r="6.5"/>
<circle cx="1048.5" cy="1180.8" r="6.5"/>
<circle cx="2016.8" cy="1180.8" r="6.5"/>
<circle cx="1032.2" cy="1191.2" r="6.5"/>
<circle cx="2000.6" cy="1191.2" r="6.5"/>
<circle cx="1043.5" cy="1188.8" r="6.5"/>
<circle cx="2011.8" cy="1188.8" r="6.5"/>
<circle cx="1037.2" cy="1200.0" r="6.5"/>
<circle cx="2005.6" cy="1200.0" r="6.5"/>
<circle cx="1022.8" cy="1210.8" r="6.5"/>
<circle cx="1991.1" cy="1210.8" r="6.5"/>
<circle cx="1004.0" cy="1215.5" r="6.5"/>
<circle cx="1972.3" cy="1215.5" r="6.5"/>
<circle cx="1049.8" cy="1243.0" r="6.5"/>
<circle cx="2018.1" cy="1243.0" r="6.5"/>
<circle cx="1054.0" cy="1290.0" r="6.5"/>
<circle cx="2022.3" cy="1290.0" r="6.5"/>
<circle cx="898.5" cy="1023.8" r="6.5"/>
<circle cx="1866.8" cy="1023.8" r="6.5"/>
<circle cx="999.0" cy="1013.8" r="6.5"/>
<circle cx="1967.3" cy="1013.8" r="6.5"/>
<circle cx="753.5" cy="1048.8" r="6.5"/>
<circle cx="1721.8" cy="1048.8" r="6.5"/>
<circle cx="773.0" cy="1049.2" r="6.5"/>
<circle cx="1741.3" cy="1049.2" r="6.5"/>
<circle cx="891.0" cy="1047.0" r="6.5"/>
<circle cx="1859.3" cy="1047.0" r="6.5"/>
<circle cx="918.5" cy="1055.0" r="6.5"/>
<circle cx="1886.8" cy="1055.0" r="6.5"/>
<circle cx="781.0" cy="1064.2" r="6.5"/>
<circle cx="1749.3" cy="1064.2" r="6.5"/>
<circle cx="873.0" cy="1065.0" r="6.5"/>
<circle cx="1841.3" cy="1065.0" r="6.5"/>
<circle cx="1019.8" cy="1041.2" r="6.5"/>
<circle cx="1988.1" cy="1041.2" r="6.5"/>
<circle cx="1036.0" cy="1054.5" r="6.5"/>
<circle cx="2004.3" cy="1054.5" r="6.5"/>
<circle cx="721.0" cy="1076.2" r="6.5"/>
<circle cx="1689.3" cy="1076.2" r="6.5"/>
<circle cx="945.5" cy="1080.0" r="6.5"/>
<circle cx="1913.8" cy="1080.0" r="6.5"/>
<circle cx="640.5" cy="1100.8" r="6.5"/>
<circle cx="1608.8" cy="1100.8" r="6.5"/>
<circle cx="650.5" cy="1104.5" r="6.5"/>
<circle cx="1618.8" cy="1104.5" r="6.5"/>
<circle cx="808.5" cy="1102.5" r="6.5"/>
<circle cx="1776.8" cy="1102.5" r="6.5"/>
<circle cx="1102.3" cy="1135.2" r="6.5"/>
<circle cx="2070.6" cy="1135.2" r="6.5"/>
<circle cx="1067.9" cy="1165.5" r="6.5"/>
<circle cx="2036.3" cy="1165.5" r="6.5"/>
<circle cx="1056.5" cy="1181.0" r="6.5"/>
<circle cx="2024.8" cy="1181.0" r="6.5"/>
<circle cx="1071.2" cy="1187.6" r="6.5"/>
<circle cx="2039.5" cy="1187.6" r="6.5"/>
<circle cx="1099.8" cy="1185.1" r="6.5"/>
<circle cx="2068.2" cy="1185.1" r="6.5"/>
<circle cx="1085.1" cy="1194.1" r="6.5"/>
<circle cx="2053.5" cy="1194.1" r="6.5"/>
<circle cx="1067.9" cy="1204.0" r="6.5"/>
<circle cx="2036.3" cy="1204.0" r="6.5"/>
<circle cx="1103.1" cy="1219.5" r="6.5"/>
<circle cx="2071.5" cy="1219.5" r="6.5"/>
<circle cx="1095.7" cy="1223.6" r="6.5"/>
<circle cx="2064.1" cy="1223.6" r="6.5"/>
<circle cx="1082.6" cy="1228.5" r="6.5"/>
<circle cx="2051.0" cy="1228.5" r="6.5"/>
<circle cx="1097.4" cy="1259.6" r="6.5"/>
<circle cx="2065.7" cy="1259.6" r="6.5"/>
<circle cx="1066.3" cy="1267.0" r="6.5"/>
<circle cx="2034.6" cy="1267.0" r="6.5"/>
<circle cx="1074.5" cy="1266.2" r="6.5"/>
<circle cx="2042.8" cy="1266.2" r="6.5"/>
<circle cx="1073.6" cy="1278.4" r="6.5"/>
<circle cx="2042.0" cy="1278.4" r="6.5"/>
<circle cx="1102.3" cy="1276.0" r="6.5"/>
<circle cx="2070.6" cy="1276.0" r="6.5"/>
<circle cx="1059.7" cy="1289.9" r="6.5"/>
<circle cx="2028.1" cy="1289.9" r="6.5"/>
<circle cx="1082.6" cy="1288.3" r="6.5"/>
<circle cx="2051.0" cy="1288.3" r="6.5"/>
<circle cx="1090.8" cy="1294.8" r="6.5"/>
<circle cx="2059.2" cy="1294.8" r="6.5"/>
<circle cx="1085.1" cy="1321.8" r="6.5"/>
<circle cx="2053.5" cy="1321.8" r="6.5"/>
<circle cx="183.9" cy="1306.3" r="6.5"/>
<circle cx="1152.2" cy="1306.3" r="6.5"/>
<circle cx="179.8" cy="1301.4" r="6.5"/>
<circle cx="1148.1" cy="1301.4" r="6.5"/>
<circle cx="190.4" cy="1301.4" r="6.5"/>
<circle cx="1158.8" cy="1301.4" r="6.5"/>
<circle cx="185.5" cy="1312.8" r="6.5"/>
<circle cx="1153.9" cy="1312.8" r="6.5"/>
<circle cx="262.4" cy="1355.4" r="6.5"/>
<circle cx="1230.8" cy="1355.4" r="6.5"/>
<circle cx="259.2" cy="1361.9" r="6.5"/>
<circle cx="1227.5" cy="1361.9" r="6.5"/>
<circle cx="265.7" cy="1350.5" r="6.5"/>
<circle cx="1234.1" cy="1350.5" r="6.5"/>
<circle cx="288.6" cy="1370.1" r="6.5"/>
<circle cx="1257.0" cy="1370.1" r="6.5"/>
<circle cx="296.8" cy="1368.5" r="6.5"/>
<circle cx="1265.2" cy="1368.5" r="6.5"/>
<circle cx="290.3" cy="1360.3" r="6.5"/>
<circle cx="1258.6" cy="1360.3" r="6.5"/>
<circle cx="186.1" cy="1313.0" r="6.5"/>
<circle cx="1154.5" cy="1313.0" r="6.5"/>
</g>
<g fill="#d62728">
<circle cx="143.0" cy="1110.0" r="6.5"/>
<circle cx="1111.3" cy="1110.0" r="6.5"/>
<circle cx="175.5" cy="1112.0" r="6.5"/>
<circle cx="1143.8" cy="1112.0" r="6.5"/>
<circle cx="156.8" cy="1122.0" r="6.5"/>
<circle cx="1125.1" cy="1122.0" r="6.5"/>
<circle cx="161.8" cy="1128.8" r="6.5"/>
<circle cx="1130.1" cy="1128.8" r="6.5"/>
<circle cx="170.0" cy="1160.8" r="6.5"/>
<circle cx="1138.3" cy="1160.8" r="6.5"/>
<circle cx="179.2" cy="1174.5" r="6.5"/>
<circle cx="1147.6" cy="1174.5" r="6.5"/>
<circle cx="173.0" cy="1186.2" r="6.5"/>
<circle cx="1141.3" cy="1186.2" r="6.5"/>
<circle cx="149.2" cy="1182.5" r="6.5"/>
<circle cx="1117.6" cy="1182.5" r="6.5"/>
<circle cx="143.0" cy="1187.5" r="6.5"/>
<circle cx="1111.3" cy="1187.5" r="6.5"/>
<circle cx="168.8" cy="1205.0" r="6.5"/>
<circle cx="1137.1" cy="1205.0" r="6.5"/>
<circle cx="187.5" cy="1202.5" r="6.5"/>
<circle cx="1155.8" cy="1202.5" r="6.5"/>
<circle cx="145.5" cy="1210.0" r="6.5"/>
<circle cx="1113.8" cy="1210.0" r="6.5"/>
<circle cx="153.5" cy="1219.5" r="6.5"/>
<circle cx="1121.8" cy="1219.5" r="6.5"/>
<circle cx="165.5" cy="1224.5" r="6.5"/>
<circle cx="1133.8" cy="1224.5" r="6.5"/>
<circle cx="181.8" cy="1220.8" r="6.5"/>
<circle cx="1150.1" cy="1220.8" r="6.5"/>
<circle cx="175.5" cy="1227.5" r="6.5"/>
<circle cx="1143.8" cy="1227.5" r="6.5"/>
<circle cx="180.5" cy="1230.0" r="6.5"/>
<circle cx="1148.8" cy="1230.0" r="6.5"/>
<circle cx="145.5" cy="1230.0" r="6.5"/>
<circle cx="1113.8" cy="1230.0" r="6.5"/>
<circle cx="156.8" cy="1231.2" r="6.5"/>
<circle cx="1125.1" cy="1231.2" r="6.5"/>
<circle cx="151.8" cy="1237.0" r="6.5"/>
<circle cx="1120.1" cy="1237.0" r="6.5"/>
<circle cx="159.2" cy="1243.8" r="6.5"/>
<circle cx="1127.6" cy="1243.8" r="6.5"/>
<circle cx="143.0" cy="1233.8" r="6.5"/>
<circle cx="1111.3" cy="1233.8" r="6.5"/>
<circle cx="159.8" cy="1263.0" r="6.5"/>
<circle cx="1128.1" cy="1263.0" r="6.5"/>
<circle cx="181.8" cy="1260.0" r="6.5"/>
<circle cx="1150.1" cy="1260.0" r="6.5"/>
<circle cx="188.0" cy="1262.5" r="6.5"/>
<circle cx="1156.3" cy="1262.5" r="6.5"/>
<circle cx="185.5" cy="1272.5" r="6.5"/>
<circle cx="1153.8" cy="1272.5" r="6.5"/>
<circle cx="168.0" cy="1282.5" r="6.5"/>
<circle cx="1136.3" cy="1282.5" r="6.5"/>
<circle cx="188.0" cy="1280.0" r="6.5"/>
<circle cx="1156.3" cy="1280.0" r="6.5"/>
<circle cx="200.0" cy="1223.8" r="6.5"/>
<circle cx="1168.3" cy="1223.8" r="6.5"/>
<circle cx="194.2" cy="1240.5" r="6.5"/>
<circle cx="1162.6" cy="1240.5" r="6.5"/>
<circle cx="199.8" cy="1257.0" r="6.5"/>
<circle cx="1168.1" cy="1257.0" r="6.5"/>
<circle cx="210.5" cy="1260.0" r="6.5"/>
<circle cx="1178.8" cy="1260.0" r="6.5"/>
<circle cx="211.8" cy="1265.5" r="6.5"/>
<circle cx="1180.1" cy="1265.5" r="6.5"/>
<circle cx="191.8" cy="1270.0" r="6.5"/>
<circle cx="1160.1" cy="1270.0" r="6.5"/>
<circle cx="200.5" cy="1277.5" r="6.5"/>
<circle cx="1168.8" cy="1277.5" r="6.5"/>
<circle cx="194.2" cy="1283.8" r="6.5"/>
<circle cx="1162.6" cy="1283.8" r="6.5"/>
<circle cx="200.5" cy="1291.2" r="6.5"/>
<circle cx="1168.8" cy="1291.2" r="6.5"/>
<circle cx="235.0" cy="1263.8" r="6.5"/>
<circle cx="1203.3" cy="1263.8" r="6.5"/>
<circle cx="210.5" cy="1307.5" r="6.5"/>
<circle cx="1178.8" cy="1307.5" r="6.5"/>
<circle cx="218.0" cy="1311.2" r="6.5"/>
<circle cx="1186.3" cy="1311.2" r="6.5"/>
<circle cx="225.5" cy="1312.0" r="6.5"/>
<circle cx="1193.8" cy="1312.0" r="6.5"/>
<circle cx="227.2" cy="1329.5" r="6.5"/>
<circle cx="1195.6" cy="1329.5" r="6.5"/>
<circle cx="228.0" cy="1343.8" r="6.5"/>
<circle cx="1196.3" cy="1343.8" r="6.5"/>
<circle cx="245.0" cy="1183.0" r="6.5"/>
<circle cx="1213.3" cy="1183.0" r="6.5"/>
<circle cx="260.0" cy="1248.8" r="6.5"/>
<circle cx="1228.3" cy="1248.8" r="6.5"/>
<circle cx="274.2" cy="1275.0" r="6.5"/>
<circle cx="1242.6" cy="1275.0" r="6.5"/>
<circle cx="247.2" cy="1285.5" r="6.5"/>
<circle cx="1215.6" cy="1285.5" r="6.5"/>
<circle cx="265.0" cy="1284.2" r="6.5"/>
<circle cx="1233.3" cy="1284.2" r="6.5"/>
<circle cx="241.8" cy="1295.8" r="6.5"/>
<circle cx="1210.1" cy="1295.8" r="6.5"/>
<circle cx="254.2" cy="1302.5" r="6.5"/>
<circle cx="1222.6" cy="1302.5" r="6.5"/>
<circle cx="279.2" cy="1310.8" r="6.5"/>
<circle cx="1247.6" cy="1310.8" r="6.5"/>
<circle cx="249.2" cy="1327.5" r="6.5"/>
<circle cx="1217.6" cy="1327.5" r="6.5"/>
<circle cx="256.8" cy="1327.0" r="6.5"/>
<circle cx="1225.1" cy="1327.0" r="6.5"/>
<circle cx="266.8" cy="1322.5" r="6.5"/>
<circle cx="1235.1" cy="1322.5" r="6.5"/>
<circle cx="278.0" cy="1325.0" r="6.5"/>
<circle cx="1246.3" cy="1325.0" r="6.5"/>
<circle cx="285.5" cy="1328.8" r="6.5"/>
<circle cx="1253.8" cy="1328.8" r="6.5"/>
<circle cx="246.8" cy="1346.2" r="6.5"/>
<circle cx="1215.1" cy="1346.2" r="6.5"/>
<circle cx="274.2" cy="1341.2" r="6.5"/>
<circle cx="1242.6" cy="1341.2" r="6.5"/>
<circle cx="275.5" cy="1347.5" r="6.5"/>
<circle cx="1243.8" cy="1347.5" r="6.5"/>
<circle cx="244.2" cy="1370.0" r="6.5"/>
<circle cx="1212.6" cy="1370.0" r="6.5"/>
<circle cx="282.5" cy="1368.8" r="6.5"/>
<circle cx="1250.8" cy="1368.8" r="6.5"/>
<circle cx="285.5" cy="1362.5" r="6.5"/>
<circle cx="1253.8" cy="1362.5" r="6.5"/>
<circle cx="291.8" cy="1315.5" r="6.5"/>
<circle cx="1260.1" cy="1315.5" r="6.5"/>
<circle cx="325.5" cy="1316.2" r="6.5"/>
<circle cx="1293.8" cy="1316.2" r="6.5"/>
<circle cx="318.0" cy="1327.5" r="6.5"/>
<circle cx="1286.3" cy="1327.5" r="6.5"/>
<circle cx="324.2" cy="1322.5" r="6.5"/>
<circle cx="1292.6" cy="1322.5" r="6.5"/>
<circle cx="295.5" cy="1331.2" r="6.5"/>
<circle cx="1263.8" cy="1331.2" r="6.5"/>
<circle cx="301.8" cy="1332.5" r="6.5"/>
<circle cx="1270.1" cy="1332.5" r="6.5"/>
<circle cx="310.5" cy="1336.2" r="6.5"/>
<circle cx="1278.8" cy="1336.2" r="6.5"/>
<circle cx="298.0" cy="1340.0" r="6.5"/>
<circle cx="1266.3" cy="1340.0" r="6.5"/>
<circle cx="313.0" cy="1343.8" r="6.5"/>
<circle cx="1281.3" cy="1343.8" r="6.5"/>
<circle cx="330.5" cy="1335.0" r="6.5"/>
<circle cx="1298.8" cy="1335.0" r="6.5"/>
<circle cx="335.5" cy="1341.2" r="6.5"/>
<circle cx="1303.8" cy="1341.2" r="6.5"/>
<circle cx="290.5" cy="1353.8" r="6.5"/>
<circle cx="1258.8" cy="1353.8" r="6.5"/>
<circle cx="288.0" cy="1361.2" r="6.5"/>
<circle cx="1256.3" cy="1361.2" r="6.5"/>
<circle cx="318.0" cy="1350.0" r="6.5"/>
<circle cx="1286.3" cy="1350.0" r="6.5"/>
<circle cx="325.5" cy="1348.8" r="6.5"/>
<circle cx="1293.8" cy="1348.8" r="6.5"/>
<circle cx="335.5" cy="1353.8" r="6.5"/>
<circle cx="1303.8" cy="1353.8" r="6.5"/>
<circle cx="313.0" cy="1362.5" r="6.5"/>
<circle cx="1281.3" cy="1362.5" r="6.5"/>
<circle cx="310.5" cy="1368.8" r="6.5"/>
<circle cx="1278.8" cy="1368.8" r="6.5"/>
<circle cx="304.2" cy="1376.2" r="6.5"/>
<circle cx="1272.6" cy="1376.2" r="6.5"/>
<circle cx="313.0" cy="1378.8" r="6.5"/>
<circle cx="1281.3" cy="1378.8" r="6.5"/>
<circle cx="298.0" cy="1385.0" r="6.5"/>
<circle cx="1266.3" cy="1385.0" r="6.5"/>
<circle cx="334.8" cy="1292.0" r="6.5"/>
<circle cx="1303.1" cy="1292.0" r="6.5"/>
<circle cx="344.2" cy="1281.8" r="6.5"/>
<circle cx="1312.6" cy="1281.8" r="6.5"/>
<circle cx="371.8" cy="1295.8" r="6.5"/>
<circle cx="1340.1" cy="1295.8" r="6.5"/>
<circle cx="351.8" cy="1302.5" r="6.5"/>
<circle cx="1320.1" cy="1302.5" r="6.5"/>
<circle cx="341.8" cy="1317.5" r="6.5"/>
<circle cx="1310.1" cy="1317.5" r="6.5"/>
<circle cx="343.0" cy="1331.2" r="6.5"/>
<circle cx="1311.3" cy="1331.2" r="6.5"/>
<circle cx="350.5" cy="1348.8" r="6.5"/>
<circle cx="1318.8" cy="1348.8" r="6.5"/>
<circle cx="348.0" cy="1367.0" r="6.5"/>
<circle cx="1316.3" cy="1367.0" r="6.5"/>
<circle cx="373.0" cy="1313.8" r="6.5"/>
<circle cx="1341.3" cy="1313.8" r="6.5"/>
<circle cx="366.8" cy="1322.5" r="6.5"/>
<circle cx="1335.1" cy="1322.5" r="6.5"/>
<circle cx="373.0" cy="1327.5" r="6.5"/>
<circle cx="1341.3" cy="1327.5" r="6.5"/>
<circle cx="381.8" cy="1322.5" r="6.5"/>
<circle cx="1350.1" cy="1322.5" r="6.5"/>
<circle cx="366.8" cy="1333.8" r="6.5"/>
<circle cx="1335.1" cy="1333.8" r="6.5"/>
<circle cx="379.2" cy="1335.0" r="6.5"/>
<circle cx="1347.6" cy="1335.0" r="6.5"/>
<circle cx="384.2" cy="1340.0" r="6.5"/>
<circle cx="1352.6" cy="1340.0" r="6.5"/>
<circle cx="366.0" cy="1352.5" r="6.5"/>
<circle cx="1334.3" cy="1352.5" r="6.5"/>
<circle cx="376.8" cy="1355.0" r="6.5"/>
<circle cx="1345.1" cy="1355.0" r="6.5"/>
<circle cx="380.5" cy="1347.5" r="6.5"/>
<circle cx="1348.8" cy="1347.5" r="6.5"/>
<circle cx="388.0" cy="1357.5" r="6.5"/>
<circle cx="1356.3" cy="1357.5" r="6.5"/>
<circle cx="364.2" cy="1366.2" r="6.5"/>
<circle cx="1332.6" cy="1366.2" r="6.5"/>
<circle cx="385.5" cy="1369.5" r="6.5"/>
<circle cx="1353.8" cy="1369.5" r="6.5"/>
<circle cx="384.2" cy="1223.0" r="6.5"/>
<circle cx="1352.6" cy="1223.0" r="6.5"/>
<circle cx="340.0" cy="1337.5" r="6.5"/>
<circle cx="1308.3" cy="1337.5" r="6.5"/>
<circle cx="390.5" cy="1222.5" r="6.5"/>
<circle cx="1358.8" cy="1222.5" r="6.5"/>
<circle cx="408.0" cy="1248.8" r="6.5"/>
<circle cx="1376.3" cy="1248.8" r="6.5"/>
<circle cx="414.2" cy="1244.5" r="6.5"/>
<circle cx="1382.6" cy="1244.5" r="6.5"/>
<circle cx="420.5" cy="1260.0" r="6.5"/>
<circle cx="1388.8" cy="1260.0" r="6.5"/>
<circle cx="425.5" cy="1255.0" r="6.5"/>
<circle cx="1393.8" cy="1255.0" r="6.5"/>
<circle cx="413.0" cy="1270.8" r="6.5"/>
<circle cx="1381.3" cy="1270.8" r="6.5"/>
<circle cx="434.2" cy="1271.2" r="6.5"/>
<circle cx="1402.6" cy="1271.2" r="6.5"/>
<circle cx="423.0" cy="1286.2" r="6.5"/>
<circle cx="1391.3" cy="1286.2" r="6.5"/>
<circle cx="436.8" cy="1287.5" r="6.5"/>
<circle cx="1405.1" cy="1287.5" r="6.5"/>
<circle cx="406.8" cy="1292.5" r="6.5"/>
<circle cx="1375.1" cy="1292.5" r="6.5"/>
<circle cx="400.5" cy="1298.8" r="6.5"/>
<circle cx="1368.8" cy="1298.8" r="6.5"/>
<circle cx="403.0" cy="1306.2" r="6.5"/>
<circle cx="1371.3" cy="1306.2" r="6.5"/>
<circle cx="420.5" cy="1300.0" r="6.5"/>
<circle cx="1388.8" cy="1300.0" r="6.5"/>
<circle cx="415.5" cy="1313.8" r="6.5"/>
<circle cx="1383.8" cy="1313.8" r="6.5"/>
<circle cx="404.2" cy="1318.8" r="6.5"/>
<circle cx="1372.6" cy="1318.8" r="6.5"/>
<circle cx="419.2" cy="1325.0" r="6.5"/>
<circle cx="1387.6" cy="1325.0" r="6.5"/>
<circle cx="433.0" cy="1317.5" r="6.5"/>
<circle cx="1401.3" cy="1317.5" r="6.5"/>
<circle cx="398.0" cy="1326.2" r="6.5"/>
<circle cx="1366.3" cy="1326.2" r="6.5"/>
<circle cx="393.0" cy="1335.0" r="6.5"/>
<circle cx="1361.3" cy="1335.0" r="6.5"/>
<circle cx="406.8" cy="1342.5" r="6.5"/>
<circle cx="1375.1" cy="1342.5" r="6.5"/>
<circle cx="401.8" cy="1350.0" r="6.5"/>
<circle cx="1370.1" cy="1350.0" r="6.5"/>
<circle cx="434.2" cy="1333.8" r="6.5"/>
<circle cx="1402.6" cy="1333.8" r="6.5"/>
<circle cx="431.8" cy="1292.5" r="6.5"/>
<circle cx="1400.1" cy="1292.5" r="6.5"/>
<circle cx="436.8" cy="1300.0" r="6.5"/>
<circle cx="1405.1" cy="1300.0" r="6.5"/>
<circle cx="438.0" cy="1210.0" r="6.5"/>
<circle cx="1406.3" cy="1210.0" r="6.5"/>
<circle cx="455.5" cy="1150.0" r="6.5"/>
<circle cx="1423.8" cy="1150.0" r="6.5"/>
<circle cx="467.5" cy="1194.2" r="6.5"/>
<circle cx="1435.8" cy="1194.2" r="6.5"/>
<circle cx="449.2" cy="1216.8" r="6.5"/>
<circle cx="1417.6" cy="1216.8" r="6.5"/>
<circle cx="458.8" cy="1227.5" r="6.5"/>
<circle cx="1427.1" cy="1227.5" r="6.5"/>
<circle cx="443.0" cy="1230.8" r="6.5"/>
<circle cx="1411.3" cy="1230.8" r="6.5"/>
<circle cx="448.8" cy="1237.0" r="6.5"/>
<circle cx="1417.1" cy="1237.0" r="6.5"/>
<circle cx="460.5" cy="1245.0" r="6.5"/>
<circle cx="1428.8" cy="1245.0" r="6.5"/>
<circle cx="471.8" cy="1247.5" r="6.5"/>
<circle cx="1440.1" cy="1247.5" r="6.5"/>
<circle cx="450.5" cy="1252.5" r="6.5"/>
<circle cx="1418.8" cy="1252.5" r="6.5"/>
<circle cx="439.2" cy="1255.0" r="6.5"/>
<circle cx="1407.6" cy="1255.0" r="6.5"/>
<circle cx="463.0" cy="1263.8" r="6.5"/>
<circle cx="1431.3" cy="1263.8" r="6.5"/>
<circle cx="444.2" cy="1266.2" r="6.5"/>
<circle cx="1412.6" cy="1266.2" r="6.5"/>
<circle cx="478.0" cy="1266.2" r="6.5"/>
<circle cx="1446.3" cy="1266.2" r="6.5"/>
<circle cx="484.2" cy="1260.0" r="6.5"/>
<circle cx="1452.6" cy="1260.0" r="6.5"/>
<circle cx="483.0" cy="1218.8" r="6.5"/>
<circle cx="1451.3" cy="1218.8" r="6.5"/>
<circle cx="475.5" cy="1223.8" r="6.5"/>
<circle cx="1443.8" cy="1223.8" r="6.5"/>
<circle cx="473.0" cy="1236.2" r="6.5"/>
<circle cx="1441.3" cy="1236.2" r="6.5"/>
<circle cx="448.0" cy="1286.2" r="6.5"/>
<circle cx="1416.3" cy="1286.2" r="6.5"/>
<circle cx="470.5" cy="1277.5" r="6.5"/>
<circle cx="1438.8" cy="1277.5" r="6.5"/>
<circle cx="473.0" cy="1286.2" r="6.5"/>
<circle cx="1441.3" cy="1286.2" r="6.5"/>
<circle cx="463.0" cy="1292.5" r="6.5"/>
<circle cx="1431.3" cy="1292.5" r="6.5"/>
<circle cx="471.8" cy="1295.0" r="6.5"/>
<circle cx="1440.1" cy="1295.0" r="6.5"/>
<circle cx="481.8" cy="1302.5" r="6.5"/>
<circle cx="1450.1" cy="1302.5" r="6.5"/>
<circle cx="483.0" cy="1311.2" r="6.5"/>
<circle cx="1451.3" cy="1311.2" r="6.5"/>
<circle cx="449.2" cy="1320.0" r="6.5"/>
<circle cx="1417.6" cy="1320.0" r="6.5"/>
<circle cx="456.8" cy="1318.8" r="6.5"/>
<circle cx="1425.1" cy="1318.8" r="6.5"/>
<circle cx="445.5" cy="1333.8" r="6.5"/>
<circle cx="1413.8" cy="1333.8" r="6.5"/>
<circle cx="489.8" cy="1183.2" r="6.5"/>
<circle cx="1458.1" cy="1183.2" r="6.5"/>
<circle cx="488.0" cy="1203.2" r="6.5"/>
<circle cx="1456.3" cy="1203.2" r="6.5"/>
<circle cx="495.0" cy="1232.5" r="6.5"/>
<circle cx="1463.3" cy="1232.5" r="6.5"/>
<circle cx="499.8" cy="1235.8" r="6.5"/>
<circle cx="1468.1" cy="1235.8" r="6.5"/>
<circle cx="490.5" cy="1249.2" r="6.5"/>
<circle cx="1458.8" cy="1249.2" r="6.5"/>
<circle cx="511.8" cy="1207.5" r="6.5"/>
<circle cx="1480.1" cy="1207.5" r="6.5"/>
<circle cx="518.0" cy="1201.2" r="6.5"/>
<circle cx="1486.3" cy="1201.2" r="6.5"/>
<circle cx="523.0" cy="1180.0" r="6.5"/>
<circle cx="1491.3" cy="1180.0" r="6.5"/>
<circle cx="534.2" cy="1111.2" r="6.5"/>
<circle cx="1502.6" cy="1111.2" r="6.5"/>
<circle cx="535.5" cy="1168.2" r="6.5"/>
<circle cx="1503.8" cy="1168.2" r="6.5"/>
<circle cx="512.2" cy="1260.0" r="6.5"/>
<circle cx="1480.6" cy="1260.0" r="6.5"/>
<circle cx="519.8" cy="1263.8" r="6.5"/>
<circle cx="1488.1" cy="1263.8" r="6.5"/>
<circle cx="526.8" cy="1266.2" r="6.5"/>
<circle cx="1495.1" cy="1266.2" r="6.5"/>
<circle cx="504.2" cy="1267.0" r="6.5"/>
<circle cx="1472.6" cy="1267.0" r="6.5"/>
<circle cx="495.5" cy="1275.0" r="6.5"/>
<circle cx="1463.8" cy="1275.0" r="6.5"/>
<circle cx="494.2" cy="1280.0" r="6.5"/>
<circle cx="1462.6" cy="1280.0" r="6.5"/>
<circle cx="518.8" cy="1278.2" r="6.5"/>
<circle cx="1487.1" cy="1278.2" r="6.5"/>
<circle cx="499.2" cy="1287.5" r="6.5"/>
<circle cx="1467.6" cy="1287.5" r="6.5"/>
<circle cx="501.8" cy="1296.2" r="6.5"/>
<circle cx="1470.1" cy="1296.2" r="6.5"/>
<circle cx="518.0" cy="1293.8" r="6.5"/>
<circle cx="1486.3" cy="1293.8" r="6.5"/>
<circle cx="526.8" cy="1305.0" r="6.5"/>
<circle cx="1495.1" cy="1305.0" r="6.5"/>
<circle cx="494.2" cy="1307.5" r="6.5"/>
<circle cx="1462.6" cy="1307.5" r="6.5"/>
<circle cx="535.5" cy="1222.5" r="6.5"/>
<circle cx="1503.8" cy="1222.5" r="6.5"/>
<circle cx="535.5" cy="1230.0" r="6.5"/>
<circle cx="1503.8" cy="1230.0" r="6.5"/>
<circle cx="546.2" cy="1126.2" r="6.5"/>
<circle cx="1514.6" cy="1126.2" r="6.5"/>
<circle cx="543.0" cy="1146.2" r="6.5"/>
<circle cx="1511.3" cy="1146.2" r="6.5"/>
<circle cx="550.5" cy="1153.8" r="6.5"/>
<circle cx="1518.8" cy="1153.8" r="6.5"/>
<circle cx="541.8" cy="1171.2" r="6.5"/>
<circle cx="1510.1" cy="1171.2" r="6.5"/>
<circle cx="589.2" cy="1123.8" r="6.5"/>
<circle cx="1557.6" cy="1123.8" r="6.5"/>
<circle cx="593.0" cy="1130.0" r="6.5"/>
<circle cx="1561.3" cy="1130.0" r="6.5"/>
<circle cx="591.8" cy="1148.8" r="6.5"/>
<circle cx="1560.1" cy="1148.8" r="6.5"/>
<circle cx="585.5" cy="1163.8" r="6.5"/>
<circle cx="1553.8" cy="1163.8" r="6.5"/>
<circle cx="575.5" cy="1173.8" r="6.5"/>
<circle cx="1543.8" cy="1173.8" r="6.5"/>
<circle cx="590.5" cy="1175.0" r="6.5"/>
<circle cx="1558.8" cy="1175.0" r="6.5"/>
<circle cx="579.2" cy="1182.5" r="6.5"/>
<circle cx="1547.6" cy="1182.5" r="6.5"/>
<circle cx="586.8" cy="1196.2" r="6.5"/>
<circle cx="1555.1" cy="1196.2" r="6.5"/>
<circle cx="583.0" cy="1202.5" r="6.5"/>
<circle cx="1551.3" cy="1202.5" r="6.5"/>
<circle cx="570.5" cy="1202.5" r="6.5"/>
<circle cx="1538.8" cy="1202.5" r="6.5"/>
<circle cx="546.8" cy="1203.8" r="6.5"/>
<circle cx="1515.1" cy="1203.8" r="6.5"/>
<circle cx="554.2" cy="1210.0" r="6.5"/>
<circle cx="1522.6" cy="1210.0" r="6.5"/>
<circle cx="540.5" cy="1222.5" r="6.5"/>
<circle cx="1508.8" cy="1222.5" r="6.5"/>
<circle cx="546.8" cy="1222.5" r="6.5"/>
<circle cx="1515.1" cy="1222.5" r="6.5"/>
<circle cx="553.0" cy="1222.5" r="6.5"/>
<circle cx="1521.3" cy="1222.5" r="6.5"/>
<circle cx="545.5" cy="1230.0" r="6.5"/>
<circle cx="1513.8" cy="1230.0" r="6.5"/>
<circle cx="548.0" cy="1240.0" r="6.5"/>
<circle cx="1516.3" cy="1240.0" r="6.5"/>
<circle cx="545.5" cy="1258.8" r="6.5"/>
<circle cx="1513.8" cy="1258.8" r="6.5"/>
<circle cx="559.2" cy="1242.5" r="6.5"/>
<circle cx="1527.6" cy="1242.5" r="6.5"/>
<circle cx="565.5" cy="1236.2" r="6.5"/>
<circle cx="1533.8" cy="1236.2" r="6.5"/>
<circle cx="578.0" cy="1240.0" r="6.5"/>
<circle cx="1546.3" cy="1240.0" r="6.5"/>
<circle cx="585.5" cy="1225.0" r="6.5"/>
<circle cx="1553.8" cy="1225.0" r="6.5"/>
<circle cx="590.5" cy="1230.0" r="6.5"/>
<circle cx="1558.8" cy="1230.0" r="6.5"/>
<circle cx="596.0" cy="1242.5" r="6.5"/>
<circle cx="1564.3" cy="1242.5" r="6.5"/>
<circle cx="550.5" cy="1320.8" r="6.5"/>
<circle cx="1518.8" cy="1320.8" r="6.5"/>
<circle cx="149.2" cy="1094.5" r="6.5"/>
<circle cx="1117.6" cy="1094.5" r="6.5"/>
<circle cx="632.2" cy="1113.8" r="6.5"/>
<circle cx="1600.6" cy="1113.8" r="6.5"/>
<circle cx="619.0" cy="1128.8" r="6.5"/>
<circle cx="1587.3" cy="1128.8" r="6.5"/>
<circle cx="602.2" cy="1132.5" r="6.5"/>
<circle cx="1570.6" cy="1132.5" r="6.5"/>
<circle cx="598.5" cy="1137.5" r="6.5"/>
<circle cx="1566.8" cy="1137.5" r="6.5"/>
<circle cx="604.8" cy="1143.8" r="6.5"/>
<circle cx="1573.1" cy="1143.8" r="6.5"/>
<circle cx="634.8" cy="1137.5" r="6.5"/>
<circle cx="1603.1" cy="1137.5" r="6.5"/>
<circle cx="644.8" cy="1132.5" r="6.5"/>
<circle cx="1613.1" cy="1132.5" r="6.5"/>
<circle cx="599.8" cy="1148.8" r="6.5"/>
<circle cx="1568.1" cy="1148.8" r="6.5"/>
<circle cx="608.5" cy="1152.5" r="6.5"/>
<circle cx="1576.8" cy="1152.5" r="6.5"/>
<circle cx="627.2" cy="1154.5" r="6.5"/>
<circle cx="1595.6" cy="1154.5" r="6.5"/>
<circle cx="601.0" cy="1162.5" r="6.5"/>
<circle cx="1569.3" cy="1162.5" r="6.5"/>
<circle cx="609.8" cy="1158.8" r="6.5"/>
<circle cx="1578.1" cy="1158.8" r="6.5"/>
<circle cx="647.2" cy="1172.5" r="6.5"/>
<circle cx="1615.6" cy="1172.5" r="6.5"/>
<circle cx="596.0" cy="1175.0" r="6.5"/>
<circle cx="1564.3" cy="1175.0" r="6.5"/>
<circle cx="608.5" cy="1201.2" r="6.5"/>
<circle cx="1576.8" cy="1201.2" r="6.5"/>
<circle cx="614.8" cy="1205.0" r="6.5"/>
<circle cx="1583.1" cy="1205.0" r="6.5"/>
<circle cx="604.8" cy="1208.8" r="6.5"/>
<circle cx="1573.1" cy="1208.8" r="6.5"/>
<circle cx="631.0" cy="1208.0" r="6.5"/>
<circle cx="1599.3" cy="1208.0" r="6.5"/>
<circle cx="639.8" cy="1211.2" r="6.5"/>
<circle cx="1608.1" cy="1211.2" r="6.5"/>
<circle cx="641.0" cy="1225.0" r="6.5"/>
<circle cx="1609.3" cy="1225.0" r="6.5"/>
<circle cx="637.2" cy="1236.2" r="6.5"/>
<circle cx="1605.6" cy="1236.2" r="6.5"/>
<circle cx="618.5" cy="1246.2" r="6.5"/>
<circle cx="1586.8" cy="1246.2" r="6.5"/>
<circle cx="624.0" cy="1282.5" r="6.5"/>
<circle cx="1592.3" cy="1282.5" r="6.5"/>
<circle cx="601.0" cy="1287.5" r="6.5"/>
<circle cx="1569.3" cy="1287.5" r="6.5"/>
<circle cx="656.0" cy="1110.0" r="6.5"/>
<circle cx="1624.3" cy="1110.0" r="6.5"/>
<circle cx="661.5" cy="1114.5" r="6.5"/>
<circle cx="1629.8" cy="1114.5" r="6.5"/>
<circle cx="686.0" cy="1112.5" r="6.5"/>
<circle cx="1654.3" cy="1112.5" r="6.5"/>
<circle cx="688.5" cy="1118.0" r="6.5"/>
<circle cx="1656.8" cy="1118.0" r="6.5"/>
<circle cx="697.2" cy="1124.5" r="6.5"/>
<circle cx="1665.6" cy="1124.5" r="6.5"/>
<circle cx="663.5" cy="1139.5" r="6.5"/>
<circle cx="1631.8" cy="1139.5" r="6.5"/>
<circle cx="657.2" cy="1147.5" r="6.5"/>
<circle cx="1625.6" cy="1147.5" r="6.5"/>
<circle cx="664.8" cy="1173.2" r="6.5"/>
<circle cx="1633.1" cy="1173.2" r="6.5"/>
<circle cx="687.2" cy="1178.2" r="6.5"/>
<circle cx="1655.6" cy="1178.2" r="6.5"/>
<circle cx="671.0" cy="1190.0" r="6.5"/>
<circle cx="1639.3" cy="1190.0" r="6.5"/>
<circle cx="667.2" cy="1196.2" r="6.5"/>
<circle cx="1635.6" cy="1196.2" r="6.5"/>
<circle cx="686.5" cy="1186.2" r="6.5"/>
<circle cx="1654.8" cy="1186.2" r="6.5"/>
<circle cx="693.5" cy="1187.5" r="6.5"/>
<circle cx="1661.8" cy="1187.5" r="6.5"/>
<circle cx="666.0" cy="1201.2" r="6.5"/>
<circle cx="1634.3" cy="1201.2" r="6.5"/>
<circle cx="649.8" cy="1211.2" r="6.5"/>
<circle cx="1618.1" cy="1211.2" r="6.5"/>
<circle cx="666.0" cy="1215.8" r="6.5"/>
<circle cx="1634.3" cy="1215.8" r="6.5"/>
<circle cx="657.8" cy="1221.8" r="6.5"/>
<circle cx="1626.1" cy="1221.8" r="6.5"/>
<circle cx="679.8" cy="1222.5" r="6.5"/>
<circle cx="1648.1" cy="1222.5" r="6.5"/>
<circle cx="685.2" cy="1219.5" r="6.5"/>
<circle cx="1653.6" cy="1219.5" r="6.5"/>
<circle cx="693.0" cy="1251.8" r="6.5"/>
<circle cx="1661.3" cy="1251.8" r="6.5"/>
<circle cx="718.5" cy="1120.5" r="6.5"/>
<circle cx="1686.8" cy="1120.5" r="6.5"/>
<circle cx="737.2" cy="1117.5" r="6.5"/>
<circle cx="1705.6" cy="1117.5" r="6.5"/>
<circle cx="742.2" cy="1113.8" r="6.5"/>
<circle cx="1710.6" cy="1113.8" r="6.5"/>
<circle cx="748.5" cy="1113.8" r="6.5"/>
<circle cx="1716.8" cy="1113.8" r="6.5"/>
<circle cx="742.2" cy="1118.8" r="6.5"/>
<circle cx="1710.6" cy="1118.8" r="6.5"/>
<circle cx="712.2" cy="1138.8" r="6.5"/>
<circle cx="1680.6" cy="1138.8" r="6.5"/>
<circle cx="704.8" cy="1148.8" r="6.5"/>
<circle cx="1673.1" cy="1148.8" r="6.5"/>
<circle cx="731.8" cy="1138.8" r="6.5"/>
<circle cx="1700.1" cy="1138.8" r="6.5"/>
<circle cx="743.5" cy="1138.8" r="6.5"/>
<circle cx="1711.8" cy="1138.8" r="6.5"/>
<circle cx="736.0" cy="1153.8" r="6.5"/>
<circle cx="1704.3" cy="1153.8" r="6.5"/>
<circle cx="736.0" cy="1160.0" r="6.5"/>
<circle cx="1704.3" cy="1160.0" r="6.5"/>
<circle cx="724.8" cy="1165.0" r="6.5"/>
<circle cx="1693.1" cy="1165.0" r="6.5"/>
<circle cx="731.0" cy="1166.2" r="6.5"/>
<circle cx="1699.3" cy="1166.2" r="6.5"/>
<circle cx="727.2" cy="1172.5" r="6.5"/>
<circle cx="1695.6" cy="1172.5" r="6.5"/>
<circle cx="733.0" cy="1174.5" r="6.5"/>
<circle cx="1701.3" cy="1174.5" r="6.5"/>
<circle cx="742.2" cy="1178.8" r="6.5"/>
<circle cx="1710.6" cy="1178.8" r="6.5"/>
<circle cx="709.8" cy="1182.5" r="6.5"/>
<circle cx="1678.1" cy="1182.5" r="6.5"/>
<circle cx="707.2" cy="1191.8" r="6.5"/>
<circle cx="1675.6" cy="1191.8" r="6.5"/>
<circle cx="698.5" cy="1210.0" r="6.5"/>
<circle cx="1666.8" cy="1210.0" r="6.5"/>
<circle cx="705.5" cy="1218.8" r="6.5"/>
<circle cx="1673.8" cy="1218.8" r="6.5"/>
<circle cx="728.5" cy="1197.5" r="6.5"/>
<circle cx="1696.8" cy="1197.5" r="6.5"/>
<circle cx="741.0" cy="1191.2" r="6.5"/>
<circle cx="1709.3" cy="1191.2" r="6.5"/>
<circle cx="732.8" cy="1212.5" r="6.5"/>
<circle cx="1701.1" cy="1212.5" r="6.5"/>
<circle cx="721.0" cy="1223.8" r="6.5"/>
<circle cx="1689.3" cy="1223.8" r="6.5"/>
<circle cx="701.0" cy="1230.8" r="6.5"/>
<circle cx="1669.3" cy="1230.8" r="6.5"/>
<circle cx="710.2" cy="1233.2" r="6.5"/>
<circle cx="1678.6" cy="1233.2" r="6.5"/>
<circle cx="723.5" cy="1234.2" r="6.5"/>
<circle cx="1691.8" cy="1234.2" r="6.5"/>
<circle cx="706.0" cy="1245.0" r="6.5"/>
<circle cx="1674.3" cy="1245.0" r="6.5"/>
<circle cx="751.5" cy="1133.8" r="6.5"/>
<circle cx="1719.8" cy="1133.8" r="6.5"/>
<circle cx="771.0" cy="1116.2" r="6.5"/>
<circle cx="1739.3" cy="1116.2" r="6.5"/>
<circle cx="781.0" cy="1118.8" r="6.5"/>
<circle cx="1749.3" cy="1118.8" r="6.5"/>
<circle cx="768.5" cy="1124.5" r="6.5"/>
<circle cx="1736.8" cy="1124.5" r="6.5"/>
<circle cx="787.2" cy="1125.0" r="6.5"/>
<circle cx="1755.6" cy="1125.0" r="6.5"/>
<circle cx="792.2" cy="1137.5" r="6.5"/>
<circle cx="1760.6" cy="1137.5" r="6.5"/>
<circle cx="796.0" cy="1107.5" r="6.5"/>
<circle cx="1764.3" cy="1107.5" r="6.5"/>
<circle cx="768.0" cy="1154.5" r="6.5"/>
<circle cx="1736.3" cy="1154.5" r="6.5"/>
<circle cx="760.5" cy="1171.2" r="6.5"/>
<circle cx="1728.8" cy="1171.2" r="6.5"/>
<circle cx="777.8" cy="1167.0" r="6.5"/>
<circle cx="1746.1" cy="1167.0" r="6.5"/>
<circle cx="784.8" cy="1180.0" r="6.5"/>
<circle cx="1753.1" cy="1180.0" r="6.5"/>
<circle cx="754.8" cy="1185.5" r="6.5"/>
<circle cx="1723.1" cy="1185.5" r="6.5"/>
<circle cx="779.8" cy="1191.2" r="6.5"/>
<circle cx="1748.1" cy="1191.2" r="6.5"/>
<circle cx="785.2" cy="1193.8" r="6.5"/>
<circle cx="1753.6" cy="1193.8" r="6.5"/>
<circle cx="766.0" cy="1225.0" r="6.5"/>
<circle cx="1734.3" cy="1225.0" r="6.5"/>
<circle cx="784.0" cy="1272.5" r="6.5"/>
<circle cx="1752.3" cy="1272.5" r="6.5"/>
<circle cx="812.2" cy="1107.5" r="6.5"/>
<circle cx="1780.6" cy="1107.5" r="6.5"/>
<circle cx="821.0" cy="1115.0" r="6.5"/>
<circle cx="1789.3" cy="1115.0" r="6.5"/>
<circle cx="833.5" cy="1111.2" r="6.5"/>
<circle cx="1801.8" cy="1111.2" r="6.5"/>
<circle cx="803.5" cy="1115.0" r="6.5"/>
<circle cx="1771.8" cy="1115.0" r="6.5"/>
<circle cx="799.8" cy="1120.0" r="6.5"/>
<circle cx="1768.1" cy="1120.0" r="6.5"/>
<circle cx="807.2" cy="1122.5" r="6.5"/>
<circle cx="1775.6" cy="1122.5" r="6.5"/>
<circle cx="802.2" cy="1130.0" r="6.5"/>
<circle cx="1770.6" cy="1130.0" r="6.5"/>
<circle cx="806.0" cy="1135.0" r="6.5"/>
<circle cx="1774.3" cy="1135.0" r="6.5"/>
<circle cx="840.5" cy="1127.0" r="6.5"/>
<circle cx="1808.8" cy="1127.0" r="6.5"/>
<circle cx="801.0" cy="1152.5" r="6.5"/>
<circle cx="1769.3" cy="1152.5" r="6.5"/>
<circle cx="802.2" cy="1160.0" r="6.5"/>
<circle cx="1770.6" cy="1160.0" r="6.5"/>
<circle cx="809.8" cy="1165.0" r="6.5"/>
<circle cx="1778.1" cy="1165.0" r="6.5"/>
<circle cx="801.8" cy="1181.2" r="6.5"/>
<circle cx="1770.1" cy="1181.2" r="6.5"/>
<circle cx="834.8" cy="1156.2" r="6.5"/>
<circle cx="1803.1" cy="1156.2" r="6.5"/>
<circle cx="831.0" cy="1167.0" r="6.5"/>
<circle cx="1799.3" cy="1167.0" r="6.5"/>
<circle cx="843.5" cy="1161.2" r="6.5"/>
<circle cx="1811.8" cy="1161.2" r="6.5"/>
<circle cx="821.0" cy="1192.5" r="6.5"/>
<circle cx="1789.3" cy="1192.5" r="6.5"/>
<circle cx="829.8" cy="1193.8" r="6.5"/>
<circle cx="1798.1" cy="1193.8" r="6.5"/>
<circle cx="829.8" cy="1268.2" r="6.5"/>
<circle cx="1798.1" cy="1268.2" r="6.5"/>
<circle cx="883.5" cy="1113.8" r="6.5"/>
<circle cx="1851.8" cy="1113.8" r="6.5"/>
<circle cx="851.5" cy="1141.2" r="6.5"/>
<circle cx="1819.8" cy="1141.2" r="6.5"/>
<circle cx="852.2" cy="1148.8" r="6.5"/>
<circle cx="1820.6" cy="1148.8" r="6.5"/>
<circle cx="876.0" cy="1138.8" r="6.5"/>
<circle cx="1844.3" cy="1138.8" r="6.5"/>
<circle cx="891.0" cy="1137.5" r="6.5"/>
<circle cx="1859.3" cy="1137.5" r="6.5"/>
<circle cx="854.8" cy="1160.0" r="6.5"/>
<circle cx="1823.1" cy="1160.0" r="6.5"/>
<circle cx="862.2" cy="1165.5" r="6.5"/>
<circle cx="1830.6" cy="1165.5" r="6.5"/>
<circle cx="868.5" cy="1158.0" r="6.5"/>
<circle cx="1836.8" cy="1158.0" r="6.5"/>
<circle cx="861.5" cy="1204.2" r="6.5"/>
<circle cx="1829.8" cy="1204.2" r="6.5"/>
<circle cx="918.5" cy="1111.2" r="6.5"/>
<circle cx="1886.8" cy="1111.2" r="6.5"/>
<circle cx="943.0" cy="1111.2" r="6.5"/>
<circle cx="1911.3" cy="1111.2" r="6.5"/>
<circle cx="904.0" cy="1128.8" r="6.5"/>
<circle cx="1872.3" cy="1128.8" r="6.5"/>
<circle cx="934.8" cy="1141.2" r="6.5"/>
<circle cx="1903.1" cy="1141.2" r="6.5"/>
<circle cx="954.8" cy="1128.8" r="6.5"/>
<circle cx="1923.1" cy="1128.8" r="6.5"/>
<circle cx="966.0" cy="1124.2" r="6.5"/>
<circle cx="1934.3" cy="1124.2" r="6.5"/>
<circle cx="980.2" cy="1118.0" r="6.5"/>
<circle cx="1948.6" cy="1118.0" r="6.5"/>
<circle cx="987.8" cy="1146.2" r="6.5"/>
<circle cx="1956.1" cy="1146.2" r="6.5"/>
<circle cx="970.5" cy="1191.2" r="6.5"/>
<circle cx="1938.8" cy="1191.2" r="6.5"/>
<circle cx="1002.2" cy="1120.5" r="6.5"/>
<circle cx="1970.6" cy="1120.5" r="6.5"/>
<circle cx="1008.5" cy="1132.5" r="6.5"/>
<circle cx="1976.8" cy="1132.5" r="6.5"/>
<circle cx="999.0" cy="1138.8" r="6.5"/>
<circle cx="1967.3" cy="1138.8" r="6.5"/>
<circle cx="1021.0" cy="1117.5" r="6.5"/>
<circle cx="1989.3" cy="1117.5" r="6.5"/>
<circle cx="1029.8" cy="1110.0" r="6.5"/>
<circle cx="1998.1" cy="1110.0" r="6.5"/>
<circle cx="1030.5" cy="1178.8" r="6.5"/>
<circle cx="1998.8" cy="1178.8" r="6.5"/>
<circle cx="1048.5" cy="1155.0" r="6.5"/>
<circle cx="2016.8" cy="1155.0" r="6.5"/>
<circle cx="1054.0" cy="1125.0" r="6.5"/>
<circle cx="2022.3" cy="1125.0" r="6.5"/>
<circle cx="1054.0" cy="1195.0" r="6.5"/>
<circle cx="2022.3" cy="1195.0" r="6.5"/>
<circle cx="996.0" cy="815.0" r="6.5"/>
<circle cx="1964.3" cy="815.0" r="6.5"/>
<circle cx="749.5" cy="923.2" r="6.5"/>
<circle cx="1717.8" cy="923.2" r="6.5"/>
<circle cx="682.5" cy="966.2" r="6.5"/>
<circle cx="1650.8" cy="966.2" r="6.5"/>
<circle cx="735.2" cy="970.0" r="6.5"/>
<circle cx="1703.6" cy="970.0" r="6.5"/>
<circle cx="1003.0" cy="922.5" r="6.5"/>
<circle cx="1971.3" cy="922.5" r="6.5"/>
<circle cx="1002.2" cy="929.5" r="6.5"/>
<circle cx="1970.6" cy="929.5" r="6.5"/>
<circle cx="1023.5" cy="929.5" r="6.5"/>
<circle cx="1991.8" cy="929.5" r="6.5"/>
<circle cx="1016.0" cy="946.2" r="6.5"/>
<circle cx="1984.3" cy="946.2" r="6.5"/>
<circle cx="992.2" cy="953.8" r="6.5"/>
<circle cx="1960.6" cy="953.8" r="6.5"/>
<circle cx="990.5" cy="957.5" r="6.5"/>
<circle cx="1958.8" cy="957.5" r="6.5"/>
<circle cx="1043.5" cy="959.5" r="6.5"/>
<circle cx="2011.8" cy="959.5" r="6.5"/>
<circle cx="1051.0" cy="958.8" r="6.5"/>
<circle cx="2019.3" cy="958.8" r="6.5"/>
<circle cx="1032.2" cy="966.2" r="6.5"/>
<circle cx="2000.6" cy="966.2" r="6.5"/>
<circle cx="1043.5" cy="973.8" r="6.5"/>
<circle cx="2011.8" cy="973.8" r="6.5"/>
<circle cx="1049.8" cy="978.8" r="6.5"/>
<circle cx="2018.1" cy="978.8" r="6.5"/>
<circle cx="947.2" cy="985.8" r="6.5"/>
<circle cx="1915.6" cy="985.8" r="6.5"/>
<circle cx="911.0" cy="990.5" r="6.5"/>
<circle cx="1879.3" cy="990.5" r="6.5"/>
<circle cx="984.2" cy="991.2" r="6.5"/>
<circle cx="1952.6" cy="991.2" r="6.5"/>
<circle cx="1025.5" cy="990.8" r="6.5"/>
<circle cx="1993.8" cy="990.8" r="6.5"/>
<circle cx="1034.8" cy="991.2" r="6.5"/>
<circle cx="2003.1" cy="991.2" r="6.5"/>
<circle cx="843.5" cy="996.2" r="6.5"/>
<circle cx="1811.8" cy="996.2" r="6.5"/>
<circle cx="969.8" cy="1000.5" r="6.5"/>
<circle cx="1938.1" cy="1000.5" r="6.5"/>
<circle cx="858.0" cy="1007.0" r="6.5"/>
<circle cx="1826.3" cy="1007.0" r="6.5"/>
<circle cx="993.5" cy="1006.2" r="6.5"/>
<circle cx="1961.8" cy="1006.2" r="6.5"/>
<circle cx="1001.0" cy="1009.5" r="6.5"/>
<circle cx="1969.3" cy="1009.5" r="6.5"/>
<circle cx="1035.2" cy="1008.8" r="6.5"/>
<circle cx="2003.6" cy="1008.8" r="6.5"/>
<circle cx="964.2" cy="1014.5" r="6.5"/>
<circle cx="1932.6" cy="1014.5" r="6.5"/>
<circle cx="976.0" cy="1019.5" r="6.5"/>
<circle cx="1944.3" cy="1019.5" r="6.5"/>
<circle cx="795.5" cy="1019.5" r="6.5"/>
<circle cx="1763.8" cy="1019.5" r="6.5"/>
<circle cx="931.0" cy="1021.2" r="6.5"/>
<circle cx="1899.3" cy="1021.2" r="6.5"/>
<circle cx="934.8" cy="1017.0" r="6.5"/>
<circle cx="1903.1" cy="1017.0" r="6.5"/>
<circle cx="1049.8" cy="1022.0" r="6.5"/>
<circle cx="2018.1" cy="1022.0" r="6.5"/>
<circle cx="717.2" cy="1027.0" r="6.5"/>
<circle cx="1685.6" cy="1027.0" r="6.5"/>
<circle cx="850.5" cy="1026.2" r="6.5"/>
<circle cx="1818.8" cy="1026.2" r="6.5"/>
<circle cx="884.8" cy="1024.5" r="6.5"/>
<circle cx="1853.1" cy="1024.5" r="6.5"/>
<circle cx="934.8" cy="1029.5" r="6.5"/>
<circle cx="1903.1" cy="1029.5" r="6.5"/>
<circle cx="1025.5" cy="1027.5" r="6.5"/>
<circle cx="1993.8" cy="1027.5" r="6.5"/>
<circle cx="795.5" cy="1032.0" r="6.5"/>
<circle cx="1763.8" cy="1032.0" r="6.5"/>
<circle cx="950.5" cy="1033.8" r="6.5"/>
<circle cx="1918.8" cy="1033.8" r="6.5"/>
<circle cx="992.2" cy="1035.0" r="6.5"/>
<circle cx="1960.6" cy="1035.0" r="6.5"/>
<circle cx="1021.0" cy="1035.0" r="6.5"/>
<circle cx="1989.3" cy="1035.0" r="6.5"/>
<circle cx="1026.0" cy="1041.2" r="6.5"/>
<circle cx="1994.3" cy="1041.2" r="6.5"/>
<circle cx="781.0" cy="1035.5" r="6.5"/>
<circle cx="1749.3" cy="1035.5" r="6.5"/>
<circle cx="818.5" cy="1036.2" r="6.5"/>
<circle cx="1786.8" cy="1036.2" r="6.5"/>
<circle cx="877.2" cy="1038.8" r="6.5"/>
<circle cx="1845.6" cy="1038.8" r="6.5"/>
<circle cx="861.0" cy="1038.8" r="6.5"/>
<circle cx="1829.3" cy="1038.8" r="6.5"/>
<circle cx="856.0" cy="1043.8" r="6.5"/>
<circle cx="1824.3" cy="1043.8" r="6.5"/>
<circle cx="740.2" cy="1039.5" r="6.5"/>
<circle cx="1708.6" cy="1039.5" r="6.5"/>
<circle cx="926.8" cy="1047.0" r="6.5"/>
<circle cx="1895.1" cy="1047.0" r="6.5"/>
<circle cx="988.5" cy="1052.0" r="6.5"/>
<circle cx="1956.8" cy="1052.0" r="6.5"/>
<circle cx="852.2" cy="1052.5" r="6.5"/>
<circle cx="1820.6" cy="1052.5" r="6.5"/>
<circle cx="956.0" cy="1052.0" r="6.5"/>
<circle cx="1924.3" cy="1052.0" r="6.5"/>
<circle cx="961.0" cy="1055.0" r="6.5"/>
<circle cx="1929.3" cy="1055.0" r="6.5"/>
<circle cx="623.5" cy="1053.8" r="6.5"/>
<circle cx="1591.8" cy="1053.8" r="6.5"/>
<circle cx="813.5" cy="1056.2" r="6.5"/>
<circle cx="1781.8" cy="1056.2" r="6.5"/>
<circle cx="822.2" cy="1061.2" r="6.5"/>
<circle cx="1790.6" cy="1061.2" r="6.5"/>
<circle cx="837.8" cy="1056.8" r="6.5"/>
<circle cx="1806.1" cy="1056.8" r="6.5"/>
<circle cx="792.2" cy="1058.8" r="6.5"/>
<circle cx="1760.6" cy="1058.8" r="6.5"/>
<circle cx="793.5" cy="1065.0" r="6.5"/>
<circle cx="1761.8" cy="1065.0" r="6.5"/>
<circle cx="604.2" cy="1063.2" r="6.5"/>
<circle cx="1572.6" cy="1063.2" r="6.5"/>
<circle cx="744.0" cy="1063.2" r="6.5"/>
<circle cx="1712.3" cy="1063.2" r="6.5"/>
<circle cx="848.5" cy="1066.2" r="6.5"/>
<circle cx="1816.8" cy="1066.2" r="6.5"/>
<circle cx="888.0" cy="1060.5" r="6.5"/>
<circle cx="1856.3" cy="1060.5" r="6.5"/>
<circle cx="896.0" cy="1063.2" r="6.5"/>
<circle cx="1864.3" cy="1063.2" r="6.5"/>
<circle cx="943.5" cy="1063.0" r="6.5"/>
<circle cx="1911.8" cy="1063.0" r="6.5"/>
<circle cx="962.2" cy="1063.8" r="6.5"/>
<circle cx="1930.6" cy="1063.8" r="6.5"/>
<circle cx="1033.5" cy="1057.5" r="6.5"/>
<circle cx="2001.8" cy="1057.5" r="6.5"/>
<circle cx="996.0" cy="1066.2" r="6.5"/>
<circle cx="1964.3" cy="1066.2" r="6.5"/>
<circle cx="914.8" cy="1068.8" r="6.5"/>
<circle cx="1883.1" cy="1068.8" r="6.5"/>
<circle cx="908.5" cy="1073.0" r="6.5"/>
<circle cx="1876.8" cy="1073.0" r="6.5"/>
<circle cx="923.5" cy="1074.5" r="6.5"/>
<circle cx="1891.8" cy="1074.5" r="6.5"/>
<circle cx="962.2" cy="1072.5" r="6.5"/>
<circle cx="1930.6" cy="1072.5" r="6.5"/>
<circle cx="1026.0" cy="1068.8" r="6.5"/>
<circle cx="1994.3" cy="1068.8" r="6.5"/>
<circle cx="1029.8" cy="1073.8" r="6.5"/>
<circle cx="1998.1" cy="1073.8" r="6.5"/>
<circle cx="1053.5" cy="1067.5" r="6.5"/>
<circle cx="2021.8" cy="1067.5" r="6.5"/>
<circle cx="721.0" cy="1072.0" r="6.5"/>
<circle cx="1689.3" cy="1072.0" r="6.5"/>
<circle cx="727.2" cy="1076.2" r="6.5"/>
<circle cx="1695.6" cy="1076.2" r="6.5"/>
<circle cx="732.2" cy="1081.2" r="6.5"/>
<circle cx="1700.6" cy="1081.2" r="6.5"/>
<circle cx="836.0" cy="1073.8" r="6.5"/>
<circle cx="1804.3" cy="1073.8" r="6.5"/>
<circle cx="854.8" cy="1077.5" r="6.5"/>
<circle cx="1823.1" cy="1077.5" r="6.5"/>
<circle cx="792.2" cy="1077.0" r="6.5"/>
<circle cx="1760.6" cy="1077.0" r="6.5"/>
<circle cx="798.5" cy="1077.5" r="6.5"/>
<circle cx="1766.8" cy="1077.5" r="6.5"/>
<circle cx="947.2" cy="1077.5" r="6.5"/>
<circle cx="1915.6" cy="1077.5" r="6.5"/>
<circle cx="972.2" cy="1077.5" r="6.5"/>
<circle cx="1940.6" cy="1077.5" r="6.5"/>
<circle cx="1006.0" cy="1077.5" r="6.5"/>
<circle cx="1974.3" cy="1077.5" r="6.5"/>
<circle cx="1011.0" cy="1078.8" r="6.5"/>
<circle cx="1979.3" cy="1078.8" r="6.5"/>
<circle cx="668.5" cy="1079.2" r="6.5"/>
<circle cx="1636.8" cy="1079.2" r="6.5"/>
<circle cx="648.5" cy="1082.5" r="6.5"/>
<circle cx="1616.8" cy="1082.5" r="6.5"/>
<circle cx="673.5" cy="1088.0" r="6.5"/>
<circle cx="1641.8" cy="1088.0" r="6.5"/>
<circle cx="826.0" cy="1083.8" r="6.5"/>
<circle cx="1794.3" cy="1083.8" r="6.5"/>
<circle cx="818.5" cy="1086.2" r="6.5"/>
<circle cx="1786.8" cy="1086.2" r="6.5"/>
<circle cx="784.2" cy="1087.5" r="6.5"/>
<circle cx="1752.6" cy="1087.5" r="6.5"/>
<circle cx="753.5" cy="1087.5" r="6.5"/>
<circle cx="1721.8" cy="1087.5" r="6.5"/>
<circle cx="758.5" cy="1089.5" r="6.5"/>
<circle cx="1726.8" cy="1089.5" r="6.5"/>
<circle cx="874.8" cy="1088.8" r="6.5"/>
<circle cx="1843.1" cy="1088.8" r="6.5"/>
<circle cx="924.2" cy="1089.5" r="6.5"/>
<circle cx="1892.6" cy="1089.5" r="6.5"/>
<circle cx="1044.8" cy="1088.0" r="6.5"/>
<circle cx="2013.1" cy="1088.0" r="6.5"/>
<circle cx="1031.0" cy="1092.5" r="6.5"/>
<circle cx="1999.3" cy="1092.5" r="6.5"/>
<circle cx="983.5" cy="1090.0" r="6.5"/>
<circle cx="1951.8" cy="1090.0" r="6.5"/>
<circle cx="938.5" cy="1093.0" r="6.5"/>
<circle cx="1906.8" cy="1093.0" r="6.5"/>
<circle cx="691.0" cy="1091.8" r="6.5"/>
<circle cx="1659.3" cy="1091.8" r="6.5"/>
<circle cx="604.2" cy="1092.5" r="6.5"/>
<circle cx="1572.6" cy="1092.5" r="6.5"/>
<circle cx="620.5" cy="1097.0" r="6.5"/>
<circle cx="1588.8" cy="1097.0" r="6.5"/>
<circle cx="812.2" cy="1092.5" r="6.5"/>
<circle cx="1780.6" cy="1092.5" r="6.5"/>
<circle cx="837.8" cy="1091.2" r="6.5"/>
<circle cx="1806.1" cy="1091.2" r="6.5"/>
<circle cx="847.2" cy="1096.2" r="6.5"/>
<circle cx="1815.6" cy="1096.2" r="6.5"/>
<circle cx="772.2" cy="1096.2" r="6.5"/>
<circle cx="1740.6" cy="1096.2" r="6.5"/>
<circle cx="776.0" cy="1100.8" r="6.5"/>
<circle cx="1744.3" cy="1100.8" r="6.5"/>
<circle cx="919.8" cy="1096.2" r="6.5"/>
<circle cx="1888.1" cy="1096.2" r="6.5"/>
<circle cx="988.5" cy="1097.5" r="6.5"/>
<circle cx="1956.8" cy="1097.5" r="6.5"/>
<circle cx="1026.0" cy="1096.2" r="6.5"/>
<circle cx="1994.3" cy="1096.2" r="6.5"/>
<circle cx="833.5" cy="1103.8" r="6.5"/>
<circle cx="1801.8" cy="1103.8" r="6.5"/>
<circle cx="879.8" cy="1105.0" r="6.5"/>
<circle cx="1848.1" cy="1105.0" r="6.5"/>
<circle cx="1017.2" cy="1103.8" r="6.5"/>
<circle cx="1985.6" cy="1103.8" r="6.5"/>
<circle cx="1079.8" cy="1010.0" r="6.5"/>
<circle cx="2048.1" cy="1010.0" r="6.5"/>
<circle cx="1075.2" cy="1026.8" r="6.5"/>
<circle cx="2043.6" cy="1026.8" r="6.5"/>
<circle cx="1092.2" cy="1038.0" r="6.5"/>
<circle cx="2060.6" cy="1038.0" r="6.5"/>
<circle cx="1059.5" cy="1045.5" r="6.5"/>
<circle cx="2027.8" cy="1045.5" r="6.5"/>
<circle cx="1072.0" cy="1062.0" r="6.5"/>
<circle cx="2040.3" cy="1062.0" r="6.5"/>
<circle cx="1084.5" cy="1065.0" r="6.5"/>
<circle cx="2052.8" cy="1065.0" r="6.5"/>
<circle cx="1091.0" cy="1083.0" r="6.5"/>
<circle cx="2059.3" cy="1083.0" r="6.5"/>
<circle cx="1076.5" cy="1087.5" r="6.5"/>
<circle cx="2044.8" cy="1087.5" r="6.5"/>
<circle cx="1070.2" cy="1090.0" r="6.5"/>
<circle cx="2038.6" cy="1090.0" r="6.5"/>
<circle cx="1081.5" cy="1092.5" r="6.5"/>
<circle cx="2049.8" cy="1092.5" r="6.5"/>
<circle cx="1096.5" cy="1092.5" r="6.5"/>
<circle cx="2064.8" cy="1092.5" r="6.5"/>
<circle cx="1065.2" cy="1097.5" r="6.5"/>
<circle cx="2033.6" cy="1097.5" r="6.5"/>
<circle cx="1059.0" cy="1101.2" r="6.5"/>
<circle cx="2027.3" cy="1101.2" r="6.5"/>
<circle cx="1072.0" cy="1116.0" r="6.5"/>
<circle cx="2040.4" cy="1116.0" r="6.5"/>
<circle cx="1102.3" cy="1121.0" r="6.5"/>
<circle cx="2070.6" cy="1121.0" r="6.5"/>
<circle cx="1081.0" cy="1124.6" r="6.5"/>
<circle cx="2049.4" cy="1124.6" r="6.5"/>
<circle cx="1065.5" cy="1129.5" r="6.5"/>
<circle cx="2033.8" cy="1129.5" r="6.5"/>
<circle cx="1076.9" cy="1133.6" r="6.5"/>
<circle cx="2045.3" cy="1133.6" r="6.5"/>
<circle cx="1085.9" cy="1130.3" r="6.5"/>
<circle cx="2054.3" cy="1130.3" r="6.5"/>
<circle cx="1101.5" cy="1147.5" r="6.5"/>
<circle cx="2069.8" cy="1147.5" r="6.5"/>
<circle cx="1076.9" cy="1153.2" r="6.5"/>
<circle cx="2045.3" cy="1153.2" r="6.5"/>
<circle cx="1101.5" cy="1159.8" r="6.5"/>
<circle cx="2069.8" cy="1159.8" r="6.5"/>
<circle cx="1084.3" cy="1164.7" r="6.5"/>
<circle cx="2052.6" cy="1164.7" r="6.5"/>
<circle cx="1058.9" cy="1163.0" r="6.5"/>
<circle cx="2027.3" cy="1163.0" r="6.5"/>
<circle cx="1063.0" cy="1167.9" r="6.5"/>
<circle cx="2031.4" cy="1167.9" r="6.5"/>
<circle cx="1093.3" cy="1171.2" r="6.5"/>
<circle cx="2061.6" cy="1171.2" r="6.5"/>
<circle cx="1075.3" cy="1176.1" r="6.5"/>
<circle cx="2043.6" cy="1176.1" r="6.5"/>
<circle cx="1081.8" cy="1173.7" r="6.5"/>
<circle cx="2050.2" cy="1173.7" r="6.5"/>
<circle cx="1105.6" cy="1176.9" r="6.5"/>
<circle cx="2073.9" cy="1176.9" r="6.5"/>
<circle cx="1093.3" cy="1190.0" r="6.5"/>
<circle cx="2061.6" cy="1190.0" r="6.5"/>
<circle cx="1067.9" cy="1199.0" r="6.5"/>
<circle cx="2036.3" cy="1199.0" r="6.5"/>
<circle cx="1093.3" cy="1209.7" r="6.5"/>
<circle cx="2061.6" cy="1209.7" r="6.5"/>
<circle cx="1086.7" cy="1215.4" r="6.5"/>
<circle cx="2055.1" cy="1215.4" r="6.5"/>
<circle cx="187.1" cy="1263.7" r="6.5"/>
<circle cx="1155.5" cy="1263.7" r="6.5"/>
<circle cx="192.1" cy="1270.2" r="6.5"/>
<circle cx="1160.4" cy="1270.2" r="6.5"/>
<circle cx="183.9" cy="1271.9" r="6.5"/>
<circle cx="1152.2" cy="1271.9" r="6.5"/>
<circle cx="197.0" cy="1280.1" r="6.5"/>
<circle cx="1165.3" cy="1280.1" r="6.5"/>
<circle cx="190.4" cy="1278.4" r="6.5"/>
<circle cx="1158.8" cy="1278.4" r="6.5"/>
<circle cx="210.1" cy="1262.1" r="6.5"/>
<circle cx="1178.4" cy="1262.1" r="6.5"/>
<circle cx="205.2" cy="1263.7" r="6.5"/>
<circle cx="1173.5" cy="1263.7" r="6.5"/>
<circle cx="313.2" cy="1342.3" r="6.5"/>
<circle cx="1281.5" cy="1342.3" r="6.5"/>
<circle cx="311.6" cy="1355.4" r="6.5"/>
<circle cx="1279.9" cy="1355.4" r="6.5"/>
<circle cx="309.9" cy="1368.5" r="6.5"/>
<circle cx="1278.3" cy="1368.5" r="6.5"/>
<circle cx="385.6" cy="1332.8" r="6.5"/>
<circle cx="1353.9" cy="1332.8" r="6.5"/>
<circle cx="508.2" cy="1298.1" r="6.5"/>
<circle cx="1476.5" cy="1298.1" r="6.5"/>
<circle cx="422.6" cy="1292.0" r="6.5"/>
<circle cx="1390.9" cy="1292.0" r="6.5"/>
<circle cx="427.2" cy="1298.1" r="6.5"/>
<circle cx="1395.5" cy="1298.1" r="6.5"/>
</g>
<g fill="#800080">
<circle cx="166.2" cy="1115.5" r="6.5"/>
<circle cx="1134.6" cy="1115.5" r="6.5"/>
<circle cx="166.0" cy="1148.8" r="6.5"/>
<circle cx="1134.3" cy="1148.8" r="6.5"/>
<circle cx="176.2" cy="1155.8" r="6.5"/>
<circle cx="1144.6" cy="1155.8" r="6.5"/>
<circle cx="160.5" cy="1165.8" r="6.5"/>
<circle cx="1128.8" cy="1165.8" r="6.5"/>
<circle cx="144.2" cy="1185.0" r="6.5"/>
<circle cx="1112.6" cy="1185.0" r="6.5"/>
<circle cx="174.8" cy="1252.0" r="6.5"/>
<circle cx="1143.1" cy="1252.0" r="6.5"/>
<circle cx="177.5" cy="1281.2" r="6.5"/>
<circle cx="1145.8" cy="1281.2" r="6.5"/>
<circle cx="201.8" cy="1167.0" r="6.5"/>
<circle cx="1170.1" cy="1167.0" r="6.5"/>
<circle cx="225.0" cy="1300.8" r="6.5"/>
<circle cx="1193.3" cy="1300.8" r="6.5"/>
<circle cx="237.5" cy="1305.8" r="6.5"/>
<circle cx="1205.8" cy="1305.8" r="6.5"/>
<circle cx="236.8" cy="1319.2" r="6.5"/>
<circle cx="1205.1" cy="1319.2" r="6.5"/>
<circle cx="280.5" cy="1283.2" r="6.5"/>
<circle cx="1248.8" cy="1283.2" r="6.5"/>
<circle cx="259.2" cy="1296.8" r="6.5"/>
<circle cx="1227.6" cy="1296.8" r="6.5"/>
<circle cx="273.5" cy="1311.8" r="6.5"/>
<circle cx="1241.8" cy="1311.8" r="6.5"/>
<circle cx="362.5" cy="1295.0" r="6.5"/>
<circle cx="1330.8" cy="1295.0" r="6.5"/>
<circle cx="347.5" cy="1309.5" r="6.5"/>
<circle cx="1315.8" cy="1309.5" r="6.5"/>
<circle cx="391.8" cy="1225.8" r="6.5"/>
<circle cx="1360.1" cy="1225.8" r="6.5"/>
<circle cx="403.8" cy="1238.2" r="6.5"/>
<circle cx="1372.1" cy="1238.2" r="6.5"/>
<circle cx="427.2" cy="1199.5" r="6.5"/>
<circle cx="1395.6" cy="1199.5" r="6.5"/>
<circle cx="434.2" cy="1196.8" r="6.5"/>
<circle cx="1402.6" cy="1196.8" r="6.5"/>
<circle cx="432.2" cy="1210.8" r="6.5"/>
<circle cx="1400.6" cy="1210.8" r="6.5"/>
<circle cx="427.2" cy="1240.5" r="6.5"/>
<circle cx="1395.6" cy="1240.5" r="6.5"/>
<circle cx="433.8" cy="1245.0" r="6.5"/>
<circle cx="1402.1" cy="1245.0" r="6.5"/>
<circle cx="394.2" cy="1289.5" r="6.5"/>
<circle cx="1362.6" cy="1289.5" r="6.5"/>
<circle cx="429.2" cy="1305.8" r="6.5"/>
<circle cx="1397.6" cy="1305.8" r="6.5"/>
<circle cx="463.8" cy="1287.5" r="6.5"/>
<circle cx="1432.1" cy="1287.5" r="6.5"/>
<circle cx="504.8" cy="1194.2" r="6.5"/>
<circle cx="1473.1" cy="1194.2" r="6.5"/>
<circle cx="523.0" cy="1197.5" r="6.5"/>
<circle cx="1491.3" cy="1197.5" r="6.5"/>
<circle cx="516.0" cy="1210.5" r="6.5"/>
<circle cx="1484.3" cy="1210.5" r="6.5"/>
<circle cx="523.2" cy="1155.0" r="6.5"/>
<circle cx="1491.6" cy="1155.0" r="6.5"/>
<circle cx="533.0" cy="1182.5" r="6.5"/>
<circle cx="1501.3" cy="1182.5" r="6.5"/>
<circle cx="563.5" cy="1178.8" r="6.5"/>
<circle cx="1531.8" cy="1178.8" r="6.5"/>
<circle cx="563.0" cy="1207.5" r="6.5"/>
<circle cx="1531.3" cy="1207.5" r="6.5"/>
<circle cx="596.0" cy="1232.5" r="6.5"/>
<circle cx="1564.3" cy="1232.5" r="6.5"/>
<circle cx="725.5" cy="1149.5" r="6.5"/>
<circle cx="1693.8" cy="1149.5" r="6.5"/>
<circle cx="724.8" cy="1191.2" r="6.5"/>
<circle cx="1693.1" cy="1191.2" r="6.5"/>
<circle cx="853.0" cy="1115.0" r="6.5"/>
<circle cx="1821.3" cy="1115.0" r="6.5"/>
<circle cx="1008.5" cy="1106.2" r="6.5"/>
<circle cx="1976.8" cy="1106.2" r="6.5"/>
<circle cx="868.5" cy="1037.0" r="6.5"/>
<circle cx="1836.8" cy="1037.0" r="6.5"/>
<circle cx="968.5" cy="1043.8" r="6.5"/>
<circle cx="1936.8" cy="1043.8" r="6.5"/>
<circle cx="1047.2" cy="1070.8" r="6.5"/>
<circle cx="2015.6" cy="1070.8" r="6.5"/>
<circle cx="953.0" cy="1095.8" r="6.5"/>
<circle cx="1921.3" cy="1095.8" r="6.5"/>
<circle cx="1063.5" cy="1060.0" r="6.5"/>
<circle cx="2031.8" cy="1060.0" r="6.5"/>
<circle cx="1067.1" cy="1143.9" r="6.5"/>
<circle cx="2035.4" cy="1143.9" r="6.5"/>
<circle cx="1093.8" cy="1135.7" r="6.5"/>
<circle cx="2062.1" cy="1135.7" r="6.5"/>
</g>
</g>
<clipPath id="c3"><rect x="138.0" y="1563.6" width="1936.6999999999998" height="643.3499999999999"/></clipPath>
<g clip-path="url(#c3)"><path d="M134.0 2206.9L134.0 2185.3L135.0 2186.2L136.0 2187.7L137.0 2185.2L138.0 2183.5L139.0 2183.1L140.0 2185.3L141.0 2184.5L142.0 2189.3L143.0 2181.1L144.0 2181.2L145.0 2187.9L146.0 2186.4L146.9 2187.1L147.0 2185.6L147.5 2173.0L148.0 2184.1L148.1 2187.1L149.0 2186.8L150.0 2187.3L151.0 2185.9L152.0 2187.6L153.0 2183.6L154.0 2183.6L155.0 2183.6L156.0 2186.4L157.0 2189.9L158.0 2190.3L159.0 2188.7L160.0 2189.5L161.0 2181.5L162.0 2181.5L163.0 2186.5L164.0 2185.8L165.0 2187.4L166.0 2188.5L167.0 2187.7L168.0 2188.4L169.0 2184.9L170.0 2181.5L171.0 2181.5L172.0 2188.6L172.6 2187.4L173.0 2186.4L173.2 2175.1L173.8 2187.4L174.0 2185.6L175.0 2182.8L176.0 2181.6L177.0 2181.6L178.0 2181.6L179.0 2181.6L180.0 2187.9L181.0 2186.3L182.0 2183.6L183.0 2183.6L183.3 2187.5L183.9 2172.5L184.0 2183.6L184.5 2187.5L185.0 2184.7L186.0 2186.9L187.0 2185.3L188.0 2185.9L189.0 2184.5L190.0 2187.0L191.0 2187.3L192.0 2181.6L193.0 2181.6L194.0 2185.0L195.0 2182.5L196.0 2182.6L197.0 2182.5L198.0 2183.3L199.0 2183.1L200.0 2182.0L201.0 2176.1L202.0 2176.1L203.0 2176.2L204.0 2182.6L205.0 2183.1L206.0 2184.3L207.0 2183.4L208.0 2183.8L209.0 2184.4L210.0 2182.0L210.8 2187.8L211.0 2182.5L211.4 2163.8L212.0 2183.4L212.0 2187.8L213.0 2184.1L214.0 2187.5L215.0 2186.0L216.0 2183.5L217.0 2187.3L218.0 2187.2L219.0 2188.3L220.0 2187.1L221.0 2186.5L222.0 2176.5L223.0 2176.5L224.0 2183.5L225.0 2182.6L226.0 2182.5L227.0 2180.3L228.0 2179.8L229.0 2179.6L230.0 2179.8L231.0 2184.7L232.0 2184.6L233.0 2187.2L234.0 2182.3L235.0 2182.3L236.0 2182.4L237.0 2182.4L237.5 2188.0L238.0 2182.4L238.1 2168.6L238.7 2188.0L239.0 2182.4L240.0 2184.5L241.0 2186.1L242.0 2182.4L243.0 2182.4L244.0 2182.5L245.0 2180.7L246.0 2181.8L247.0 2182.6L248.0 2181.6L249.0 2186.0L250.0 2187.9L251.0 2188.1L252.0 2187.0L253.0 2184.0L254.0 2184.0L255.0 2182.8L256.0 2184.4L257.0 2189.1L257.1 2188.2L257.7 2170.8L258.0 2184.8L258.3 2188.2L259.0 2184.9L260.0 2184.9L261.0 2192.0L262.0 2188.7L263.0 2186.8L264.0 2188.7L265.0 2188.0L266.0 2191.0L266.5 2188.3L267.0 2182.9L267.1 2163.1L267.7 2188.3L268.0 2182.9L269.0 2182.9L270.0 2182.9L271.0 2189.3L272.0 2190.6L273.0 2192.0L274.0 2192.4L275.0 2194.7L276.0 2181.3L277.0 2181.3L278.0 2181.3L279.0 2194.6L280.0 2191.3L281.0 2189.5L282.0 2186.8L283.0 2188.4L284.0 2185.2L284.4 2188.5L285.0 2186.5L285.0 2177.3L285.6 2188.5L286.0 2185.3L287.0 2183.0L288.0 2183.0L289.0 2183.0L290.0 2183.0L291.0 2184.1L292.0 2183.0L293.0 2183.0L294.0 2186.9L294.2 2188.6L294.8 2171.4L295.0 2185.5L295.4 2188.6L296.0 2187.7L297.0 2183.1L298.0 2184.9L299.0 2183.2L300.0 2183.1L301.0 2181.3L302.0 2180.3L303.0 2180.3L304.0 2180.3L305.0 2180.3L306.0 2185.6L307.0 2187.4L308.0 2183.2L309.0 2186.8L310.0 2183.3L311.0 2183.3L312.0 2183.3L312.4 2188.7L313.0 2183.3L313.0 2180.0L313.6 2188.7L314.0 2183.3L315.0 2183.3L316.0 2187.2L317.0 2186.3L318.0 2186.3L319.0 2187.5L320.0 2188.2L321.0 2188.1L321.1 2188.8L321.7 2175.1L322.0 2183.4L322.3 2188.8L323.0 2183.4L324.0 2183.4L325.0 2183.4L326.0 2187.2L327.0 2189.5L328.0 2189.7L329.0 2180.3L330.0 2180.3L331.0 2180.3L332.0 2192.6L333.0 2191.0L334.0 2187.9L335.0 2187.6L336.0 2184.7L337.0 2185.1L338.0 2184.9L339.0 2184.9L339.4 2189.0L340.0 2184.1L340.0 2174.1L340.6 2189.0L341.0 2183.6L342.0 2183.6L343.0 2183.6L344.0 2183.6L345.0 2183.6L346.0 2184.2L347.0 2185.0L348.0 2184.7L348.8 2189.1L349.0 2183.7L349.4 2172.5L350.0 2184.3L350.0 2189.1L351.0 2183.7L352.0 2183.7L353.0 2183.7L354.0 2183.7L355.0 2189.6L356.0 2188.3L357.0 2189.7L358.0 2185.9L359.0 2185.4L360.0 2187.3L361.0 2184.7L362.0 2181.8L363.0 2183.8L364.0 2183.9L365.0 2192.1L366.0 2190.5L367.0 2188.3L367.4 2189.2L368.0 2185.3L368.0 2175.1L368.6 2189.2L369.0 2183.9L370.0 2183.9L371.0 2190.1L372.0 2190.3L373.0 2191.1L374.0 2190.9L375.0 2191.0L375.4 2189.3L376.0 2188.9L376.0 2173.0L376.6 2189.3L377.0 2184.0L378.0 2184.0L379.0 2184.0L380.0 2192.3L381.0 2192.5L382.0 2192.0L383.0 2182.9L384.0 2182.9L385.0 2182.9L386.0 2188.4L387.0 2190.5L388.0 2190.9L389.0 2191.7L390.0 2191.5L391.0 2190.6L392.0 2187.2L393.0 2185.5L394.0 2184.7L395.0 2184.7L395.8 2189.5L396.0 2184.2L396.4 2177.8L397.0 2184.2L397.0 2189.5L398.0 2184.2L399.0 2184.2L400.0 2184.8L401.0 2184.3L402.0 2184.3L403.0 2184.3L404.0 2184.3L405.0 2189.5L405.0 2184.8L405.6 2155.1L406.0 2184.3L406.2 2189.5L407.0 2184.4L408.0 2184.3L409.0 2184.5L410.0 2184.3L411.0 2184.4L412.0 2184.4L413.0 2183.3L414.0 2182.4L415.0 2182.4L416.0 2182.4L417.0 2182.5L418.0 2184.4L419.0 2184.4L420.0 2184.5L421.0 2184.5L422.0 2184.5L422.6 2189.7L423.0 2188.9L423.2 2169.7L423.8 2189.7L424.0 2188.8L425.0 2185.7L426.0 2185.7L427.0 2189.0L428.0 2188.2L429.0 2189.1L430.0 2188.3L431.0 2187.8L432.0 2189.3L432.6 2189.8L433.0 2190.6L433.2 2155.5L433.8 2189.8L434.0 2189.3L435.0 2184.6L436.0 2184.6L437.0 2184.6L438.0 2187.2L439.0 2186.7L440.0 2187.0L441.0 2186.6L442.0 2190.4L443.0 2179.6L444.0 2179.6L445.0 2191.0L446.0 2189.6L447.0 2189.1L448.0 2191.0L449.0 2190.5L450.0 2189.6L451.0 2190.2L452.0 2188.3L453.0 2186.0L454.0 2185.9L455.0 2185.8L456.0 2186.0L457.0 2187.4L458.0 2188.3L459.0 2187.1L460.0 2186.2L460.3 2190.0L460.9 2125.5L461.0 2188.7L461.5 2190.0L462.0 2187.2L463.0 2189.7L464.0 2184.9L465.0 2184.9L466.0 2185.4L467.0 2187.8L468.0 2186.9L469.0 2189.7L470.0 2188.8L471.0 2190.6L472.0 2190.6L473.0 2190.7L474.0 2185.9L475.0 2185.9L476.0 2188.3L477.0 2187.4L478.0 2186.1L478.1 2190.1L478.7 2174.1L479.0 2186.3L479.3 2190.1L480.0 2185.1L481.0 2185.1L482.0 2185.1L483.0 2191.1L484.0 2190.6L485.0 2191.4L486.0 2191.6L487.0 2191.6L488.0 2190.2L488.0 2190.0L488.6 2078.1L489.0 2189.8L489.2 2190.2L490.0 2185.2L491.0 2185.2L492.0 2185.2L493.0 2188.4L494.0 2192.3L495.0 2190.1L496.0 2187.0L497.0 2187.6L497.3 2190.3L497.9 2182.8L498.0 2186.8L498.5 2190.3L499.0 2186.3L500.0 2189.9L501.0 2185.4L502.0 2185.3L503.0 2185.4L504.0 2187.5L505.0 2187.7L505.4 2190.3L506.0 2187.9L506.0 2174.7L506.6 2190.3L507.0 2187.6L508.0 2185.3L509.0 2185.4L510.0 2187.7L511.0 2188.5L512.0 2186.9L513.0 2187.9L514.0 2187.4L515.0 2188.1L515.6 2190.4L516.0 2189.6L516.2 2025.4L516.8 2190.4L517.0 2190.1L518.0 2185.4L519.0 2185.5L520.0 2185.5L521.0 2189.9L522.0 2188.3L523.0 2187.1L524.0 2187.5L524.6 2190.5L525.0 2186.0L525.2 2185.0L525.8 2190.5L526.0 2185.7L527.0 2185.5L528.0 2185.5L529.0 2185.5L530.0 2185.6L531.0 2186.3L532.0 2186.5L533.0 2187.5L533.4 2190.5L534.0 2187.6L534.0 2175.1L534.6 2190.5L535.0 2188.5L536.0 2187.9L537.0 2187.5L538.0 2186.3L539.0 2186.9L540.0 2185.7L541.0 2186.0L542.0 2186.2L543.0 2186.2L543.3 2190.6L543.9 1874.0L544.0 2185.7L544.5 2190.6L545.0 2187.0L546.0 2186.1L547.0 2185.8L548.0 2185.8L549.0 2190.3L550.0 2189.7L551.0 2190.7L552.0 2182.6L553.0 2182.6L554.0 2186.7L555.0 2188.9L556.0 2190.7L557.0 2186.1L558.0 2186.1L559.0 2186.1L560.0 2192.9L561.0 2192.5L561.0 2190.7L561.6 2176.3L562.0 2190.3L562.2 2190.7L563.0 2189.1L564.0 2187.7L565.0 2187.1L566.0 2187.1L567.0 2185.9L568.0 2186.3L569.0 2187.5L570.0 2187.8L571.0 2190.8L571.0 2187.3L571.6 1902.6L572.0 2186.8L572.2 2190.8L573.0 2188.7L574.0 2187.7L575.0 2188.9L576.0 2186.0L577.0 2186.0L578.0 2181.2L579.0 2189.2L580.0 2190.0L581.0 2187.9L582.0 2189.0L583.0 2188.7L584.0 2189.3L585.0 2190.2L586.0 2190.1L587.0 2186.1L588.0 2186.1L588.9 2190.9L589.0 2187.3L589.5 2185.1L590.0 2188.8L590.1 2190.9L591.0 2190.4L592.0 2191.3L593.0 2189.7L594.0 2186.8L595.0 2186.8L596.0 2186.8L597.0 2186.8L598.0 2192.7L598.6 2191.0L599.0 2190.7L599.2 1717.6L599.8 2191.0L600.0 2191.7L601.0 2190.2L602.0 2187.6L603.0 2188.0L604.0 2186.2L605.0 2186.2L606.0 2183.7L607.0 2183.7L608.0 2188.4L609.0 2188.8L610.0 2187.8L611.0 2189.6L612.0 2188.7L613.0 2191.1L614.0 2186.3L615.0 2186.3L616.0 2186.3L617.0 2186.4L617.4 2191.1L618.0 2191.4L618.0 2185.1L618.6 2191.1L619.0 2191.8L620.0 2192.6L621.0 2186.9L622.0 2186.9L623.0 2186.9L624.0 2193.1L625.0 2192.8L626.0 2186.5L626.3 2191.2L626.9 1919.0L627.0 2186.6L627.5 2191.2L628.0 2186.6L629.0 2190.0L630.0 2190.7L631.0 2186.5L632.0 2186.5L633.0 2181.8L634.0 2191.5L635.0 2190.7L636.0 2191.5L637.0 2187.1L638.0 2190.7L639.0 2190.4L640.0 2191.5L641.0 2187.0L642.0 2187.0L643.0 2189.0L644.0 2189.1L644.4 2191.3L645.0 2191.6L645.0 2184.1L645.6 2191.3L646.0 2190.4L647.0 2191.6L648.0 2190.6L649.0 2187.6L650.0 2191.1L651.0 2188.5L652.0 2187.3L653.0 2187.9L654.0 2191.4L654.0 2189.1L654.6 1854.0L655.0 2192.0L655.2 2191.4L656.0 2186.8L657.0 2189.0L658.0 2186.7L659.0 2186.7L660.0 2186.7L661.0 2189.4L662.0 2190.0L663.0 2190.2L664.0 2193.9L665.0 2194.8L666.0 2193.6L667.0 2192.1L668.0 2187.6L669.0 2187.6L670.0 2193.4L671.0 2193.3L672.0 2191.7L672.4 2191.5L673.0 2190.2L673.0 2183.1L673.6 2191.5L674.0 2186.8L675.0 2186.8L676.0 2192.3L677.0 2188.6L678.0 2188.8L679.0 2187.4L680.0 2187.7L681.0 2188.4L681.6 2191.5L682.0 2186.9L682.2 2060.9L682.8 2191.5L683.0 2187.8L684.0 2190.3L685.0 2188.8L686.0 2187.0L687.0 2186.9L688.0 2187.6L689.0 2185.8L690.0 2185.2L691.0 2185.6L692.0 2184.9L693.0 2187.8L694.0 2188.5L695.0 2188.4L696.0 2187.0L697.0 2187.7L698.0 2187.0L699.0 2187.0L699.4 2191.6L700.0 2188.0L700.0 2181.1L700.6 2191.6L701.0 2187.4L702.0 2187.5L703.0 2187.8L704.0 2190.8L705.0 2191.2L706.0 2192.2L707.0 2187.1L708.0 2187.1L709.0 2187.1L709.3 2191.7L709.9 2081.9L710.0 2190.1L710.5 2191.7L711.0 2189.7L712.0 2191.9L713.0 2191.9L714.0 2187.2L715.0 2187.2L716.0 2186.2L717.0 2194.6L718.0 2195.2L719.0 2196.5L720.0 2187.4L721.0 2187.4L722.0 2187.5L723.0 2190.8L724.0 2190.9L725.0 2188.0L726.0 2188.9L727.0 2187.5L728.0 2187.5L729.0 2192.6L730.0 2189.9L730.3 2191.8L730.9 2185.9L731.0 2190.3L731.5 2191.8L732.0 2191.0L733.0 2187.9L734.0 2187.3L735.0 2187.3L736.0 2187.3L737.0 2191.9L737.0 2187.4L737.6 2133.5L738.0 2188.2L738.2 2191.9L739.0 2188.2L740.0 2188.3L741.0 2189.8L742.0 2189.4L743.0 2188.8L744.0 2188.4L745.0 2184.0L746.0 2184.0L747.0 2189.1L748.0 2187.8L749.0 2189.5L750.0 2189.9L751.0 2187.5L752.0 2187.5L753.0 2187.5L754.0 2190.4L754.4 2192.0L755.0 2192.2L755.0 2180.1L755.6 2192.0L756.0 2189.9L757.0 2191.6L758.0 2190.0L759.0 2190.4L760.0 2189.4L761.0 2190.1L762.0 2187.7L763.0 2187.7L764.0 2187.7L764.6 2192.0L765.0 2190.7L765.2 2158.4L765.8 2192.0L766.0 2191.7L767.0 2191.8L768.0 2187.6L769.0 2187.6L770.0 2187.6L771.0 2187.6L772.0 2190.7L773.0 2190.1L774.0 2192.8L775.0 2183.2L776.0 2183.2L777.0 2190.4L778.0 2192.9L779.0 2191.2L780.0 2185.6L781.0 2187.7L782.0 2187.7L783.0 2189.2L784.0 2191.6L785.0 2190.4L785.7 2192.2L786.0 2188.4L786.3 2170.6L786.9 2192.2L787.0 2188.4L788.0 2188.4L789.0 2188.4L790.0 2187.8L791.0 2187.8L792.0 2187.8L792.3 2192.2L792.9 2173.1L793.0 2187.8L793.5 2192.2L794.0 2187.8L795.0 2187.8L796.0 2187.8L797.0 2188.6L798.0 2190.6L799.0 2192.0L800.0 2189.9L801.0 2191.0L802.0 2186.8L803.0 2186.8L804.0 2186.8L805.0 2186.8L806.0 2194.5L807.0 2187.9L808.0 2187.9L809.0 2187.9L810.0 2187.9L810.4 2192.3L811.0 2191.9L811.0 2184.1L811.6 2192.3L812.0 2192.5L813.0 2192.7L814.0 2193.9L815.0 2187.9L816.0 2188.0L817.0 2188.0L818.0 2195.7L819.0 2193.4L819.3 2192.4L819.9 2181.1L820.0 2191.0L820.5 2192.4L821.0 2190.5L822.0 2189.0L823.0 2188.0L824.0 2188.0L825.0 2193.0L826.0 2193.9L827.0 2192.2L828.0 2193.3L829.0 2189.7L830.0 2189.7L831.0 2189.7L832.0 2190.1L833.0 2191.5L834.0 2191.9L835.0 2190.7L836.0 2190.4L837.0 2188.1L838.0 2188.1L839.0 2188.1L840.0 2189.8L841.0 2191.2L841.1 2192.5L841.7 2171.7L842.0 2188.9L842.3 2192.5L843.0 2190.1L844.0 2191.3L845.0 2191.9L846.0 2189.8L847.0 2189.8L848.0 2189.8L849.0 2191.8L850.0 2192.2L851.0 2190.3L852.0 2190.2L853.0 2190.2L854.0 2188.2L855.0 2188.2L856.0 2188.2L857.0 2188.2L858.0 2188.4L858.3 2192.6L858.9 2183.1L859.0 2188.3L859.5 2192.6L860.0 2188.3L861.0 2188.3L862.0 2188.3L863.0 2188.3L864.0 2188.3L865.0 2188.3L865.1 2192.6L865.7 2181.1L866.0 2188.3L866.3 2192.6L867.0 2188.3L868.0 2189.0L869.0 2190.0L870.0 2190.0L871.0 2189.7L872.0 2191.9L873.0 2193.4L874.0 2194.3L875.0 2193.4L876.0 2193.7L877.0 2184.1L878.0 2184.1L879.0 2184.1L880.0 2194.0L881.0 2194.8L882.0 2190.0L883.0 2190.0L884.0 2190.0L885.0 2196.2L886.0 2193.6L887.0 2195.8L888.0 2194.4L889.0 2195.6L890.0 2184.2L891.0 2184.2L892.0 2184.2L893.0 2184.2L894.0 2196.9L895.0 2195.3L896.0 2195.9L897.0 2195.7L898.0 2195.2L899.0 2195.4L900.0 2197.8L901.0 2188.6L902.0 2188.6L903.0 2196.2L903.0 2192.8L903.6 2167.5L904.0 2198.0L904.2 2192.8L905.0 2195.0L906.0 2194.1L907.0 2192.5L908.0 2191.7L909.0 2190.8L910.0 2192.9L911.0 2191.5L912.0 2188.3L913.0 2188.3L914.0 2188.3L915.0 2194.2L916.0 2193.7L917.0 2189.7L918.0 2189.7L919.0 2189.7L920.0 2193.4L921.0 2193.5L922.0 2190.1L923.0 2190.1L924.0 2190.1L925.0 2190.1L926.0 2192.1L927.0 2192.4L928.0 2191.4L929.0 2190.0L930.0 2189.5L930.9 2193.0L931.0 2189.5L931.5 2185.1L932.0 2191.6L932.1 2193.0L933.0 2192.4L934.0 2192.0L935.0 2190.2L936.0 2188.8L937.0 2188.8L938.0 2186.8L939.0 2188.5L940.0 2186.9L941.0 2186.9L942.0 2190.0L943.0 2190.1L944.0 2192.0L945.0 2193.6L946.0 2191.5L947.0 2192.3L948.0 2190.9L948.8 2193.0L949.0 2191.3L949.4 2177.5L950.0 2188.9L950.0 2193.0L951.0 2188.9L952.0 2190.6L953.0 2191.4L954.0 2192.9L955.0 2191.0L956.0 2191.9L957.0 2193.7L958.0 2194.2L958.4 2193.1L959.0 2188.9L959.0 2173.3L959.6 2193.1L960.0 2188.9L961.0 2189.0L962.0 2189.0L963.0 2191.9L964.0 2190.3L965.0 2191.6L966.0 2192.9L967.0 2193.4L968.0 2196.2L969.0 2187.6L970.0 2187.6L971.0 2187.6L972.0 2194.7L973.0 2191.6L974.0 2192.1L975.0 2189.1L976.0 2189.2L976.7 2193.2L977.0 2189.2L977.3 2176.3L977.9 2193.2L978.0 2192.9L979.0 2194.6L980.0 2192.4L981.0 2192.1L982.0 2194.0L983.0 2194.2L984.0 2192.7L985.0 2190.7L986.0 2190.7L986.3 2193.2L986.9 2186.1L987.0 2190.8L987.5 2193.2L988.0 2194.3L989.0 2193.3L990.0 2194.1L991.0 2193.0L992.0 2191.3L993.0 2192.1L994.0 2193.1L995.0 2185.1L996.0 2185.1L997.0 2185.1L998.0 2191.3L999.0 2192.6L1000.0 2192.6L1001.0 2189.2L1002.0 2189.3L1003.0 2190.5L1004.0 2191.1L1005.0 2189.6L1005.4 2193.3L1006.0 2190.1L1006.0 2186.1L1006.6 2193.3L1007.0 2189.5L1008.0 2189.2L1009.0 2189.3L1010.0 2192.0L1011.0 2193.9L1012.0 2193.6L1013.0 2194.7L1013.8 2193.4L1014.0 2191.1L1014.4 2185.1L1015.0 2190.8L1015.0 2193.4L1016.0 2190.8L1017.0 2190.8L1018.0 2194.8L1019.0 2191.6L1020.0 2191.3L1021.0 2190.8L1022.0 2190.2L1023.0 2190.3L1024.0 2191.1L1025.0 2194.2L1026.0 2191.0L1027.0 2191.0L1028.0 2191.0L1029.0 2191.0L1030.0 2193.0L1031.0 2192.5L1031.7 2193.4L1032.0 2189.4L1032.3 2131.6L1032.9 2193.4L1033.0 2189.4L1034.0 2189.4L1035.0 2193.5L1036.0 2190.5L1037.0 2189.4L1038.0 2189.5L1039.0 2189.4L1040.0 2189.4L1041.0 2189.4L1041.7 2193.5L1042.0 2189.5L1042.3 2180.1L1042.9 2193.5L1043.0 2189.7L1044.0 2189.9L1045.0 2190.3L1046.0 2191.7L1047.0 2189.5L1048.0 2189.5L1049.0 2189.1L1050.0 2190.0L1051.0 2189.0L1052.0 2189.4L1053.0 2187.0L1054.0 2186.0L1055.0 2188.2L1056.0 2189.7L1057.0 2189.8L1058.0 2190.9L1059.0 2189.6L1060.0 2189.6L1060.8 2193.6L1061.0 2189.8L1061.4 2181.1L1062.0 2191.0L1062.0 2193.6L1063.0 2190.9L1064.0 2191.3L1065.0 2191.1L1066.0 2191.3L1067.0 2189.6L1067.7 2193.6L1068.0 2189.6L1068.3 2174.4L1068.9 2193.6L1069.0 2189.6L1070.0 2189.6L1071.0 2190.8L1072.0 2190.5L1073.0 2192.3L1074.0 2191.9L1075.0 2194.0L1076.0 2193.9L1077.0 2185.7L1078.0 2185.7L1079.0 2185.7L1080.0 2193.3L1081.0 2192.9L1082.0 2192.5L1083.0 2189.7L1084.0 2189.7L1085.0 2189.7L1086.0 2190.2L1086.8 2193.7L1087.0 2191.1L1087.4 2185.1L1088.0 2190.4L1088.0 2193.7L1089.0 2191.8L1090.0 2189.7L1091.0 2189.7L1092.0 2189.7L1093.0 2189.8L1094.0 2190.0L1095.0 2189.8L1095.2 2193.7L1095.8 2184.1L1096.0 2191.6L1096.4 2193.7L1097.0 2190.6L1098.0 2190.7L1099.0 2190.7L1100.0 2190.3L1101.0 2190.6L1102.0 2189.8L1103.0 2189.8L1104.0 2189.8L1105.0 2192.6L1106.0 2192.2L1107.0 2191.3L1108.0 2192.5L1109.0 2192.3L1110.0 2189.9L1111.0 2189.9L1112.0 2193.2L1113.0 2193.7L1114.0 2193.8L1115.0 2193.5L1115.0 2193.8L1115.6 2172.9L1116.0 2193.3L1116.2 2193.8L1117.0 2193.9L1118.0 2194.4L1119.0 2190.1L1120.0 2190.1L1121.0 2190.1L1122.0 2195.6L1123.0 2193.2L1124.0 2191.1L1125.0 2189.9L1125.0 2193.9L1125.6 2187.1L1126.0 2189.9L1126.2 2193.9L1127.0 2192.4L1128.0 2193.2L1129.0 2192.6L1130.0 2191.2L1131.0 2190.0L1132.0 2188.6L1133.0 2188.6L1134.0 2191.7L1135.0 2192.3L1136.0 2194.7L1137.0 2195.0L1138.0 2195.6L1139.0 2194.4L1140.0 2189.7L1141.0 2189.7L1142.0 2189.7L1143.0 2189.8L1144.0 2192.6L1145.0 2192.1L1146.0 2190.8L1147.0 2190.8L1148.0 2191.1L1149.0 2191.7L1150.0 2193.5L1151.0 2191.7L1152.0 2193.2L1153.0 2186.2L1154.0 2186.2L1155.0 2186.2L1156.0 2193.9L1157.0 2193.2L1158.0 2193.2L1159.0 2186.2L1160.0 2186.2L1161.0 2186.2L1162.0 2193.3L1163.0 2193.4L1164.0 2192.3L1165.0 2193.6L1166.0 2192.9L1167.0 2191.8L1168.0 2190.6L1169.0 2190.6L1170.0 2194.4L1170.4 2194.1L1171.0 2194.3L1171.0 2177.3L1171.6 2194.1L1172.0 2195.0L1173.0 2194.8L1174.0 2191.0L1175.0 2191.0L1176.0 2191.0L1177.0 2193.6L1178.0 2195.7L1179.0 2190.2L1179.1 2194.1L1179.7 2180.3L1180.0 2190.2L1180.3 2194.1L1181.0 2190.2L1182.0 2190.2L1183.0 2196.6L1184.0 2196.3L1185.0 2196.2L1186.0 2196.7L1187.0 2196.9L1188.0 2195.4L1189.0 2193.7L1190.0 2190.3L1191.0 2190.3L1192.0 2190.3L1193.0 2192.7L1194.0 2193.8L1195.0 2193.5L1196.0 2194.9L1197.0 2193.6L1198.0 2197.3L1199.0 2197.6L1200.0 2197.8L1201.0 2191.5L1202.0 2191.5L1203.0 2191.5L1204.0 2196.2L1205.0 2196.4L1206.0 2198.6L1207.0 2196.8L1208.0 2197.1L1208.0 2194.2L1208.6 2186.3L1209.0 2195.8L1209.2 2194.2L1210.0 2197.4L1211.0 2190.4L1212.0 2190.4L1213.0 2194.4L1214.0 2193.6L1215.0 2193.8L1216.0 2192.7L1216.8 2194.2L1217.0 2191.3L1217.4 2183.6L1218.0 2192.7L1218.0 2194.2L1219.0 2190.4L1220.0 2190.4L1221.0 2193.9L1222.0 2194.6L1223.0 2195.5L1224.0 2190.5L1225.0 2190.5L1225.5 2194.3L1226.0 2194.6L1226.1 2185.0L1226.7 2194.3L1227.0 2194.9L1228.0 2195.7L1229.0 2194.5L1230.0 2198.3L1231.0 2190.5L1232.0 2190.5L1233.0 2187.7L1234.0 2195.7L1235.0 2197.4L1236.0 2198.8L1237.0 2197.6L1238.0 2197.3L1239.0 2197.3L1240.0 2195.6L1241.0 2192.7L1242.0 2191.7L1243.0 2191.7L1244.0 2192.3L1245.0 2195.6L1246.0 2196.0L1247.0 2195.5L1248.0 2194.1L1249.0 2193.4L1250.0 2193.9L1251.0 2190.7L1252.0 2190.7L1253.0 2190.8L1254.0 2197.0L1255.0 2196.0L1256.0 2197.6L1257.0 2196.8L1258.0 2196.7L1259.0 2195.8L1260.0 2196.1L1261.0 2196.8L1262.0 2188.9L1263.0 2188.9L1264.0 2194.2L1265.0 2193.6L1266.0 2193.7L1267.0 2194.9L1268.0 2192.9L1269.0 2192.4L1270.0 2191.4L1271.0 2191.4L1272.0 2191.4L1273.0 2194.3L1274.0 2195.1L1275.0 2193.3L1276.0 2194.9L1277.0 2195.4L1278.0 2196.1L1278.7 2194.5L1279.0 2190.7L1279.3 2182.2L1279.9 2194.5L1280.0 2190.7L1281.0 2190.7L1282.0 2195.0L1283.0 2195.9L1284.0 2194.6L1285.0 2195.3L1286.0 2196.4L1287.0 2192.1L1288.0 2192.1L1289.0 2192.2L1290.0 2193.2L1291.0 2193.9L1291.3 2194.5L1291.9 2173.5L1292.0 2194.1L1292.5 2194.5L1293.0 2194.2L1294.0 2192.6L1295.0 2192.7L1296.0 2190.9L1297.0 2190.9L1298.0 2190.9L1299.0 2189.8L1300.0 2191.4L1301.0 2192.2L1302.0 2193.2L1303.0 2193.1L1304.0 2193.6L1305.0 2190.9L1306.0 2191.6L1307.0 2191.6L1308.0 2191.6L1309.0 2191.7L1310.0 2191.3L1311.0 2192.5L1312.0 2192.6L1313.0 2193.1L1314.0 2193.9L1315.0 2191.6L1316.0 2191.6L1317.0 2193.4L1318.0 2193.2L1319.0 2192.2L1320.0 2190.3L1321.0 2189.1L1322.0 2190.6L1323.0 2192.1L1324.0 2193.4L1325.0 2188.4L1326.0 2188.4L1327.0 2188.4L1328.0 2188.4L1329.0 2193.5L1330.0 2191.4L1331.0 2189.2L1332.0 2189.2L1333.0 2192.6L1334.0 2194.2L1335.0 2193.1L1336.0 2192.1L1337.0 2193.1L1338.0 2192.1L1339.0 2190.6L1340.0 2190.6L1341.0 2190.6L1342.0 2193.5L1343.0 2194.7L1344.0 2194.0L1345.0 2193.3L1346.0 2192.3L1347.0 2182.9L1348.0 2182.9L1349.0 2182.9L1350.0 2195.5L1351.0 2196.2L1352.0 2194.6L1353.0 2194.5L1354.0 2193.6L1355.0 2192.3L1356.0 2192.4L1357.0 2192.4L1358.0 2193.9L1359.0 2194.0L1360.0 2192.6L1361.0 2191.1L1362.0 2191.1L1363.0 2191.1L1363.6 2194.8L1364.0 2191.1L1364.2 2184.4L1364.8 2194.8L1365.0 2191.1L1366.0 2191.1L1367.0 2194.0L1368.0 2194.4L1369.0 2193.6L1370.0 2191.8L1371.0 2192.2L1372.0 2190.9L1373.0 2191.5L1374.0 2189.8L1375.0 2190.7L1376.0 2190.8L1377.0 2191.4L1378.0 2191.8L1379.0 2192.6L1380.0 2192.9L1381.0 2194.9L1382.0 2189.5L1383.0 2189.5L1384.0 2189.5L1385.0 2193.0L1386.0 2193.7L1387.0 2194.2L1388.0 2182.2L1389.0 2182.2L1390.0 2182.2L1391.0 2195.6L1392.0 2195.4L1393.0 2195.2L1394.0 2194.1L1395.0 2192.5L1396.0 2192.5L1397.0 2192.5L1398.0 2196.0L1399.0 2195.2L1400.0 2196.2L1401.0 2195.5L1402.0 2195.2L1403.0 2190.0L1404.0 2190.0L1405.0 2191.8L1406.0 2191.9L1407.0 2193.3L1408.0 2192.6L1409.0 2192.1L1409.4 2194.9L1410.0 2193.2L1410.0 2189.1L1410.6 2194.9L1411.0 2191.3L1412.0 2191.3L1413.0 2191.3L1414.0 2192.5L1415.0 2193.1L1416.0 2194.1L1417.0 2195.4L1418.0 2194.6L1419.0 2194.2L1420.0 2190.6L1421.0 2190.6L1422.0 2190.6L1423.0 2194.7L1424.0 2193.7L1425.0 2192.7L1426.0 2193.7L1427.0 2194.0L1428.0 2195.4L1429.0 2197.1L1430.0 2188.7L1431.0 2188.7L1432.0 2188.7L1433.0 2193.4L1434.0 2192.7L1435.0 2193.2L1436.0 2191.4L1437.0 2191.4L1437.4 2195.0L1438.0 2191.7L1438.0 2189.1L1438.6 2195.0L1439.0 2191.5L1440.0 2192.9L1441.0 2192.5L1442.0 2192.3L1443.0 2191.5L1444.0 2189.6L1445.0 2190.4L1446.0 2189.7L1447.0 2189.7L1448.0 2189.7L1449.0 2193.7L1450.0 2193.9L1451.0 2195.6L1452.0 2192.7L1453.0 2193.9L1454.0 2191.7L1455.0 2191.7L1456.0 2191.7L1457.0 2191.2L1458.0 2190.7L1459.0 2191.0L1460.0 2192.1L1461.0 2192.5L1462.0 2194.3L1463.0 2193.8L1464.0 2193.6L1465.0 2190.7L1466.0 2190.7L1467.0 2190.7L1468.0 2194.9L1469.0 2195.2L1470.0 2195.1L1471.0 2194.5L1472.0 2193.2L1473.0 2191.6L1474.0 2192.7L1475.0 2192.2L1476.0 2192.3L1477.0 2192.3L1478.0 2193.3L1479.0 2193.5L1480.0 2195.9L1481.0 2195.3L1482.0 2188.9L1483.0 2188.9L1484.0 2188.9L1485.0 2197.4L1486.0 2196.8L1487.0 2198.3L1488.0 2197.3L1489.0 2198.0L1490.0 2197.2L1491.0 2197.4L1492.0 2192.3L1493.0 2192.3L1494.0 2195.5L1495.0 2196.1L1496.0 2196.7L1497.0 2195.2L1498.0 2194.7L1499.0 2196.0L1500.0 2195.6L1501.0 2191.5L1502.0 2191.5L1503.0 2194.9L1504.0 2195.8L1505.0 2195.3L1506.0 2195.0L1507.0 2191.7L1508.0 2191.7L1509.0 2191.7L1510.0 2191.7L1511.0 2196.5L1511.4 2195.3L1512.0 2196.1L1512.0 2190.1L1512.6 2195.3L1513.0 2197.1L1514.0 2195.7L1515.0 2195.4L1516.0 2195.2L1517.0 2191.8L1518.0 2190.9L1519.0 2195.2L1520.0 2197.3L1521.0 2197.3L1522.0 2188.6L1523.0 2188.6L1524.0 2188.6L1525.0 2196.2L1526.0 2194.7L1527.0 2189.9L1528.0 2189.9L1529.0 2193.7L1530.0 2195.1L1531.0 2195.8L1532.0 2194.3L1533.0 2192.6L1534.0 2192.6L1535.0 2192.6L1536.0 2194.5L1537.0 2193.8L1538.0 2193.5L1539.0 2195.3L1540.0 2194.9L1541.0 2194.2L1542.0 2194.5L1543.0 2188.9L1544.0 2188.9L1545.0 2188.9L1546.0 2197.3L1547.0 2197.2L1548.0 2193.3L1549.0 2193.3L1550.0 2197.7L1551.0 2197.0L1552.0 2198.6L1553.0 2183.3L1554.0 2183.3L1555.0 2183.3L1556.0 2196.8L1557.0 2196.6L1558.0 2195.7L1559.0 2194.2L1560.0 2195.0L1561.0 2192.3L1562.0 2192.3L1563.0 2192.3L1564.0 2194.5L1565.0 2194.6L1565.4 2195.4L1566.0 2193.4L1566.0 2189.1L1566.6 2195.4L1567.0 2194.4L1568.0 2192.5L1569.0 2192.5L1570.0 2192.5L1571.0 2192.0L1572.0 2193.1L1573.0 2192.3L1573.4 2195.4L1574.0 2193.9L1574.0 2189.1L1574.6 2195.4L1575.0 2193.5L1576.0 2193.2L1577.0 2193.1L1578.0 2193.1L1579.0 2192.6L1580.0 2192.6L1581.0 2193.1L1582.0 2192.0L1583.0 2192.8L1584.0 2192.6L1584.4 2195.5L1585.0 2192.6L1585.0 2185.0L1585.6 2195.5L1586.0 2192.6L1587.0 2194.1L1588.0 2195.6L1589.0 2193.3L1590.0 2193.3L1591.0 2195.8L1592.0 2196.0L1593.0 2195.4L1594.0 2194.8L1595.0 2191.8L1596.0 2190.4L1597.0 2189.6L1598.0 2190.0L1599.0 2183.5L1600.0 2183.5L1601.0 2183.5L1602.0 2193.8L1603.0 2192.6L1604.0 2193.4L1605.0 2194.4L1606.0 2194.7L1607.0 2191.9L1608.0 2192.0L1609.0 2192.1L1610.0 2192.1L1611.0 2192.1L1612.0 2192.1L1613.0 2192.1L1613.4 2195.6L1614.0 2192.5L1614.0 2187.1L1614.6 2195.6L1615.0 2192.7L1616.0 2192.1L1617.0 2192.1L1618.0 2192.1L1618.4 2195.6L1619.0 2192.1L1619.0 2188.1L1619.6 2195.6L1620.0 2192.2L1621.0 2192.7L1622.0 2193.2L1623.0 2192.2L1624.0 2192.2L1625.0 2197.9L1626.0 2196.5L1627.0 2196.0L1628.0 2197.0L1629.0 2197.1L1630.0 2197.2L1631.0 2197.0L1632.0 2199.1L1633.0 2197.5L1634.0 2193.2L1635.0 2193.2L1636.0 2193.2L1637.0 2193.2L1638.0 2196.5L1639.0 2197.3L1640.0 2196.1L1640.7 2195.6L1641.0 2194.8L1641.3 2185.0L1641.9 2195.6L1642.0 2192.7L1643.0 2192.7L1644.0 2196.3L1645.0 2196.8L1646.0 2197.1L1647.0 2197.8L1648.0 2192.7L1649.0 2192.7L1650.0 2196.7L1651.0 2195.5L1652.0 2197.1L1653.0 2198.2L1654.0 2197.4L1655.0 2196.6L1656.0 2197.5L1657.0 2197.2L1658.0 2195.0L1659.0 2192.0L1660.0 2192.0L1661.0 2195.8L1662.0 2196.0L1663.0 2196.1L1664.0 2195.2L1665.0 2194.3L1666.0 2194.8L1667.0 2195.0L1668.0 2193.3L1668.5 2195.7L1669.0 2193.3L1669.1 2189.1L1669.7 2195.7L1670.0 2193.3L1671.0 2193.3L1672.0 2198.4L1673.0 2198.3L1674.0 2197.9L1675.0 2197.6L1676.0 2196.2L1677.0 2195.7L1678.0 2196.3L1679.0 2192.0L1680.0 2192.0L1681.0 2192.0L1682.0 2196.2L1683.0 2196.5L1684.0 2196.0L1685.0 2196.4L1686.0 2196.8L1687.0 2197.0L1688.0 2193.6L1689.0 2193.6L1689.6 2195.8L1690.0 2193.6L1690.2 2189.1L1690.8 2195.8L1691.0 2193.6L1692.0 2195.2L1693.0 2195.3L1694.0 2195.9L1695.0 2196.8L1696.0 2195.8L1697.0 2192.4L1698.0 2192.4L1699.0 2195.0L1700.0 2196.4L1701.0 2196.9L1701.3 2195.8L1701.9 2187.7L1702.0 2198.3L1702.5 2195.8L1703.0 2192.4L1704.0 2192.4L1705.0 2192.4L1706.0 2199.0L1706.4 2195.8L1707.0 2197.2L1707.0 2189.1L1707.6 2195.8L1708.0 2192.5L1709.0 2192.5L1710.0 2192.5L1711.0 2192.5L1712.0 2194.6L1713.0 2192.9L1714.0 2190.1L1715.0 2190.1L1716.0 2190.1L1717.0 2190.1L1718.0 2190.8L1719.0 2191.2L1720.0 2191.8L1721.0 2192.4L1722.0 2193.6L1723.0 2191.8L1724.0 2191.8L1725.0 2192.9L1726.0 2192.7L1727.0 2193.9L1728.0 2193.2L1729.0 2193.2L1730.0 2195.7L1730.0 2195.9L1730.6 2189.1L1731.0 2194.9L1731.2 2195.9L1732.0 2193.8L1733.0 2194.9L1734.0 2192.5L1735.0 2192.5L1736.0 2192.5L1737.0 2195.5L1738.0 2196.9L1739.0 2198.0L1740.0 2196.7L1741.0 2197.0L1742.0 2196.7L1743.0 2197.1L1744.0 2192.6L1744.4 2195.9L1745.0 2192.6L1745.0 2189.1L1745.6 2195.9L1746.0 2192.6L1747.0 2192.6L1748.0 2195.8L1749.0 2195.3L1750.0 2194.6L1750.4 2195.9L1751.0 2195.6L1751.0 2184.4L1751.6 2195.9L1752.0 2195.7L1753.0 2193.4L1754.0 2193.4L1755.0 2193.4L1756.0 2192.6L1757.0 2192.7L1758.0 2194.1L1759.0 2192.6L1760.0 2192.6L1761.0 2192.6L1761.4 2195.9L1762.0 2195.1L1762.0 2190.4L1762.6 2195.9L1763.0 2194.6L1764.0 2194.7L1765.0 2193.6L1766.0 2193.3L1767.0 2193.6L1768.0 2194.9L1769.0 2194.9L1770.0 2193.1L1771.0 2192.3L1772.0 2192.1L1773.0 2190.0L1774.0 2190.0L1775.0 2190.0L1776.0 2196.0L1777.0 2195.2L1778.0 2194.2L1779.0 2194.7L1780.0 2194.7L1781.0 2193.1L1782.0 2193.1L1783.0 2193.1L1784.0 2196.9L1785.0 2195.9L1786.0 2190.0L1787.0 2190.0L1788.0 2190.0L1789.0 2197.7L1790.0 2198.4L1791.0 2193.2L1792.0 2193.2L1793.0 2193.2L1794.0 2194.4L1795.0 2195.3L1796.0 2193.2L1797.0 2193.8L1798.0 2194.3L1799.0 2194.1L1800.0 2193.4L1801.0 2193.4L1802.0 2193.4L1803.0 2193.5L1804.0 2194.8L1805.0 2194.2L1806.0 2194.2L1807.0 2193.3L1808.0 2195.9L1809.0 2193.9L1810.0 2188.5L1811.0 2188.5L1812.0 2188.5L1813.0 2188.5L1814.0 2194.6L1815.0 2193.6L1816.0 2193.6L1817.0 2196.2L1818.0 2197.7L1819.0 2197.4L1820.0 2196.1L1821.0 2195.9L1822.0 2197.4L1823.0 2197.1L1824.0 2196.8L1825.0 2196.2L1826.0 2192.3L1827.0 2192.3L1828.0 2192.3L1829.0 2195.2L1830.0 2195.3L1831.0 2194.9L1832.0 2194.9L1833.0 2194.1L1834.0 2195.4L1835.0 2196.4L1836.0 2190.8L1837.0 2190.8L1838.0 2190.8L1839.0 2193.1L1840.0 2193.5L1841.0 2192.8L1842.0 2193.5L1843.0 2193.8L1844.0 2192.9L1845.0 2192.9L1846.0 2193.8L1847.0 2193.8L1848.0 2193.4L1849.0 2192.5L1850.0 2192.3L1851.0 2191.3L1852.0 2190.7L1853.0 2191.3L1854.0 2192.6L1855.0 2194.9L1856.0 2193.0L1857.0 2193.0L1858.0 2193.0L1859.0 2193.0L1860.0 2195.3L1861.0 2193.5L1861.0 2196.2L1861.6 2187.1L1862.0 2193.5L1862.2 2196.2L1863.0 2193.5L1864.0 2194.9L1865.0 2194.4L1866.0 2194.7L1867.0 2195.7L1868.0 2195.3L1869.0 2193.3L1870.0 2193.3L1871.0 2193.3L1872.0 2193.3L1873.0 2197.8L1874.0 2195.6L1875.0 2193.9L1876.0 2193.5L1877.0 2193.3L1878.0 2192.3L1879.0 2192.9L1880.0 2192.9L1881.0 2192.9L1882.0 2194.4L1883.0 2194.6L1884.0 2194.6L1885.0 2192.6L1886.0 2194.6L1887.0 2194.5L1888.0 2192.8L1889.0 2192.8L1890.0 2192.8L1891.0 2194.6L1892.0 2193.3L1893.0 2195.2L1894.0 2195.7L1895.0 2196.9L1896.0 2198.0L1897.0 2194.3L1898.0 2194.3L1899.0 2194.3L1900.0 2194.3L1901.0 2197.5L1902.0 2191.7L1903.0 2191.7L1904.0 2191.7L1905.0 2194.8L1906.0 2193.5L1907.0 2194.3L1908.0 2194.3L1909.0 2194.3L1910.0 2194.3L1911.0 2197.0L1912.0 2195.6L1913.0 2192.8L1914.0 2192.8L1915.0 2197.2L1916.0 2196.5L1917.0 2198.2L1918.0 2197.9L1919.0 2196.2L1920.0 2191.6L1921.0 2191.6L1922.0 2191.6L1923.0 2195.6L1924.0 2194.0L1925.0 2193.5L1926.0 2193.5L1927.0 2193.7L1928.0 2192.5L1929.0 2192.5L1930.0 2192.5L1931.0 2192.7L1932.0 2194.7L1933.0 2196.8L1934.0 2196.4L1935.0 2196.9L1936.0 2191.3L1937.0 2191.3L1938.0 2197.5L1939.0 2198.2L1940.0 2198.6L1941.0 2193.6L1942.0 2193.6L1943.0 2193.6L1944.0 2197.1L1945.0 2195.9L1946.0 2196.8L1946.9 2196.3L1947.0 2197.2L1947.5 2189.9L1948.0 2196.3L1948.1 2196.3L1949.0 2198.7L1950.0 2194.2L1951.0 2194.2L1952.0 2197.1L1953.0 2196.6L1953.8 2196.4L1954.0 2196.6L1954.4 2189.9L1955.0 2194.7L1955.0 2196.4L1956.0 2196.2L1957.0 2194.1L1958.0 2194.1L1959.0 2194.1L1960.0 2194.1L1961.0 2198.0L1962.0 2197.9L1963.0 2193.9L1964.0 2193.9L1965.0 2193.9L1966.0 2193.9L1967.0 2195.5L1968.0 2196.3L1969.0 2197.5L1970.0 2195.2L1971.0 2196.2L1972.0 2195.7L1973.0 2197.4L1974.0 2190.3L1975.0 2190.3L1976.0 2190.3L1977.0 2197.9L1978.0 2197.4L1979.0 2196.9L1980.0 2195.3L1981.0 2194.3L1982.0 2193.7L1983.0 2194.3L1984.0 2193.9L1985.0 2193.5L1986.0 2194.8L1987.0 2194.8L1988.0 2193.8L1989.0 2193.3L1989.2 2196.4L1989.8 2186.3L1990.0 2193.3L1990.4 2196.4L1991.0 2193.3L1992.0 2193.3L1993.0 2193.3L1994.0 2193.9L1995.0 2193.9L1996.0 2193.9L1997.0 2193.9L1998.0 2194.2L1999.0 2193.9L2000.0 2193.9L2001.0 2194.6L2002.0 2194.0L2003.0 2194.0L2004.0 2194.0L2005.0 2196.5L2006.0 2195.2L2007.0 2196.5L2008.0 2195.4L2009.0 2195.2L2010.0 2197.0L2011.0 2190.3L2012.0 2190.3L2013.0 2190.3L2014.0 2190.3L2015.0 2192.8L2016.0 2194.1L2017.0 2193.6L2018.0 2192.7L2019.0 2191.4L2020.0 2191.4L2021.0 2191.4L2022.0 2194.3L2023.0 2194.0L2024.0 2192.7L2025.0 2195.6L2026.0 2195.1L2027.0 2196.5L2028.0 2195.9L2029.0 2194.2L2030.0 2194.2L2031.0 2194.2L2032.0 2194.2L2033.0 2195.2L2034.0 2189.5L2035.0 2189.5L2036.0 2189.5L2037.0 2194.0L2038.0 2194.4L2039.0 2194.8L2040.0 2194.9L2041.0 2194.5L2042.0 2193.7L2043.0 2195.9L2044.0 2196.6L2045.0 2194.0L2046.0 2194.0L2047.0 2194.0L2048.0 2193.9L2049.0 2195.2L2050.0 2196.8L2051.0 2196.7L2052.0 2196.7L2053.0 2197.2L2054.0 2193.1L2055.0 2193.1L2056.0 2193.1L2057.0 2195.3L2058.0 2196.0L2059.0 2194.3L2060.0 2194.5L2061.0 2195.7L2062.0 2197.2L2063.0 2196.3L2064.0 2194.8L2065.0 2192.3L2066.0 2192.3L2067.0 2192.3L2068.0 2193.3L2069.0 2193.4L2070.0 2193.5L2071.0 2191.4L2072.0 2191.4L2073.0 2191.4L2074.0 2191.8L2075.0 2191.0L2076.0 2191.4L2077.0 2190.4L2078.0 2192.8L2078.0 2206.9Z" fill="#1f77b4" stroke="#1f77b4" stroke-width="6.2" stroke-linejoin="round" stroke-linecap="round"/></g>
<rect x="138.0" y="2.2" width="1936.6999999999998" height="644.0" fill="none" stroke="#000" stroke-width="3.6"/>
<rect x="138.0" y="778.9" width="1936.6999999999998" height="643.8000000000001" fill="none" stroke="#000" stroke-width="3.6"/>
<rect x="138.0" y="1563.6" width="1936.6999999999998" height="643.3499999999999" fill="none" stroke="#000" stroke-width="3.6"/>
<rect x="136.2" y="0" width="1940.2999999999997" height="1" fill="#c6c6c6"/>
<path d="M229.2 646.2v15.0M463.5 646.2v15.0M697.8 646.2v15.0M932.2 646.2v15.0M1166.5 646.2v15.0M1400.8 646.2v15.0M1635.1 646.2v15.0M1869.4 646.2v15.0" stroke="#000" stroke-width="3.6"/>
<text x="229.2" y="699.2" text-anchor="middle" textLength="50.7" lengthAdjust="spacingAndGlyphs">250</text>
<text x="463.5" y="699.2" text-anchor="middle" textLength="50.7" lengthAdjust="spacingAndGlyphs">500</text>
<text x="697.8" y="699.2" text-anchor="middle" textLength="50.7" lengthAdjust="spacingAndGlyphs">750</text>
<text x="932.2" y="699.2" text-anchor="middle" textLength="67.6" lengthAdjust="spacingAndGlyphs">1000</text>
<text x="1166.5" y="699.2" text-anchor="middle" textLength="67.6" lengthAdjust="spacingAndGlyphs">1250</text>
<text x="1400.8" y="699.2" text-anchor="middle" textLength="67.6" lengthAdjust="spacingAndGlyphs">1500</text>
<text x="1635.1" y="699.2" text-anchor="middle" textLength="67.6" lengthAdjust="spacingAndGlyphs">1750</text>
<text x="1869.4" y="699.2" text-anchor="middle" textLength="67.6" lengthAdjust="spacingAndGlyphs">2000</text>
<path d="M138.0 103.2h-15.0M138.0 230.5h-15.0M138.0 357.8h-15.0M138.0 485.1h-15.0M138.0 612.4h-15.0" stroke="#000" stroke-width="3.6"/>
<text x="107.3" y="114.5" text-anchor="end" textLength="60.0" lengthAdjust="spacingAndGlyphs">16.5</text>
<text x="107.3" y="241.8" text-anchor="end" textLength="60.0" lengthAdjust="spacingAndGlyphs">17.0</text>
<text x="107.3" y="369.1" text-anchor="end" textLength="60.0" lengthAdjust="spacingAndGlyphs">17.5</text>
<text x="107.3" y="496.4" text-anchor="end" textLength="60.0" lengthAdjust="spacingAndGlyphs">18.0</text>
<text x="107.3" y="623.7" text-anchor="end" textLength="60.0" lengthAdjust="spacingAndGlyphs">18.5</text>
<path d="M138.0 1422.7v15.0M380.1 1422.7v15.0M622.2 1422.7v15.0M864.3 1422.7v15.0M1106.3 1422.7v15.0M1348.4 1422.7v15.0M1590.5 1422.7v15.0M1832.6 1422.7v15.0M2074.7 1422.7v15.0" stroke="#000" stroke-width="3.6"/>
<text x="138.0" y="1475.6" text-anchor="middle" textLength="60.0" lengthAdjust="spacingAndGlyphs">0.00</text>
<text x="380.1" y="1475.6" text-anchor="middle" textLength="60.0" lengthAdjust="spacingAndGlyphs">0.25</text>
<text x="622.2" y="1475.6" text-anchor="middle" textLength="60.0" lengthAdjust="spacingAndGlyphs">0.50</text>
<text x="864.3" y="1475.6" text-anchor="middle" textLength="60.0" lengthAdjust="spacingAndGlyphs">0.75</text>
<text x="1106.3" y="1475.6" text-anchor="middle" textLength="60.0" lengthAdjust="spacingAndGlyphs">1.00</text>
<text x="1348.4" y="1475.6" text-anchor="middle" textLength="60.0" lengthAdjust="spacingAndGlyphs">1.25</text>
<text x="1590.5" y="1475.6" text-anchor="middle" textLength="60.0" lengthAdjust="spacingAndGlyphs">1.50</text>
<text x="1832.6" y="1475.6" text-anchor="middle" textLength="60.0" lengthAdjust="spacingAndGlyphs">1.75</text>
<text x="2074.7" y="1475.6" text-anchor="middle" textLength="60.0" lengthAdjust="spacingAndGlyphs">2.00</text>
<path d="M138.0 1341.3h-15.0M138.0 1213.3h-15.0M138.0 1085.3h-15.0M138.0 957.2h-15.0M138.0 829.2h-15.0" stroke="#000" stroke-width="3.6"/>
<text x="107.3" y="1352.6" text-anchor="end" textLength="43.1" lengthAdjust="spacingAndGlyphs">0.5</text>
<text x="107.3" y="1224.6" text-anchor="end" textLength="43.1" lengthAdjust="spacingAndGlyphs">1.0</text>
<text x="107.3" y="1096.6" text-anchor="end" textLength="43.1" lengthAdjust="spacingAndGlyphs">1.5</text>
<text x="107.3" y="968.5" text-anchor="end" textLength="43.1" lengthAdjust="spacingAndGlyphs">2.0</text>
<text x="107.3" y="840.5" text-anchor="end" textLength="43.1" lengthAdjust="spacingAndGlyphs">2.5</text>
<path d="M387.0 2206.95v15.0M663.7 2206.95v15.0M940.3 2206.95v15.0M1217.0 2206.95v15.0M1493.7 2206.95v15.0M1770.4 2206.95v15.0M2047.0 2206.95v15.0" stroke="#000" stroke-width="3.6"/>
<text x="387.0" y="2260.6" text-anchor="middle" textLength="33.8" lengthAdjust="spacingAndGlyphs">10</text>
<text x="663.7" y="2260.6" text-anchor="middle" textLength="33.8" lengthAdjust="spacingAndGlyphs">20</text>
<text x="940.3" y="2260.6" text-anchor="middle" textLength="33.8" lengthAdjust="spacingAndGlyphs">30</text>
<text x="1217.0" y="2260.6" text-anchor="middle" textLength="33.8" lengthAdjust="spacingAndGlyphs">40</text>
<text x="1493.7" y="2260.6" text-anchor="middle" textLength="33.8" lengthAdjust="spacingAndGlyphs">50</text>
<text x="1770.4" y="2260.6" text-anchor="middle" textLength="33.8" lengthAdjust="spacingAndGlyphs">60</text>
<text x="2047.0" y="2260.6" text-anchor="middle" textLength="33.8" lengthAdjust="spacingAndGlyphs">70</text>
<path d="M138.0 2206.9h-15.0M138.0 2127.3h-15.0M138.0 2047.7h-15.0M138.0 1968.1h-15.0M138.0 1888.5h-15.0M138.0 1808.9h-15.0M138.0 1729.3h-15.0M138.0 1649.7h-15.0M138.0 1570.1h-15.0" stroke="#000" stroke-width="3.6"/>
<text x="107.3" y="2218.2" text-anchor="end" textLength="43.1" lengthAdjust="spacingAndGlyphs">0.0</text>
<text x="107.3" y="2138.6" text-anchor="end" textLength="43.1" lengthAdjust="spacingAndGlyphs">0.1</text>
<text x="107.3" y="2059.0" text-anchor="end" textLength="43.1" lengthAdjust="spacingAndGlyphs">0.2</text>
<text x="107.3" y="1979.4" text-anchor="end" textLength="43.1" lengthAdjust="spacingAndGlyphs">0.3</text>
<text x="107.3" y="1899.8" text-anchor="end" textLength="43.1" lengthAdjust="spacingAndGlyphs">0.4</text>
<text x="107.3" y="1820.2" text-anchor="end" textLength="43.1" lengthAdjust="spacingAndGlyphs">0.5</text>
<text x="107.3" y="1740.6" text-anchor="end" textLength="43.1" lengthAdjust="spacingAndGlyphs">0.6</text>
<text x="107.3" y="1661.0" text-anchor="end" textLength="43.1" lengthAdjust="spacingAndGlyphs">0.7</text>
<text x="107.3" y="1581.4" text-anchor="end" textLength="43.1" lengthAdjust="spacingAndGlyphs">0.8</text>
<text x="1105.9" y="747.0" text-anchor="middle" textLength="321.0" lengthAdjust="spacingAndGlyphs">Time (BJD-2458000)</text>
<text x="808.3" y="1524.8" textLength="295.6" lengthAdjust="spacingAndGlyphs">Phase (17.671200 d</text>
<text x="1106.1" y="1513.6" textLength="34.9" lengthAdjust="spacingAndGlyphs" font-size="23">−1</text>
<text x="1159.8" y="1524.8" textLength="11.6" lengthAdjust="spacingAndGlyphs">/</text>
<text x="1188.2" y="1524.8" textLength="213.5" lengthAdjust="spacingAndGlyphs">1.358142 hrs )</text>
<text x="1026.9" y="2310.0" textLength="118.7" lengthAdjust="spacingAndGlyphs">cycles d</text>
<text x="1147.4" y="2299.0" textLength="36.2" lengthAdjust="spacingAndGlyphs" font-size="23">−1</text>
<text transform="translate(23.9 324.4) rotate(-90)" text-anchor="middle" textLength="161.0" lengthAdjust="spacingAndGlyphs">Magnitude</text>
<text transform="translate(40.9 1101.0) rotate(-90)" text-anchor="middle" textLength="242.5" lengthAdjust="spacingAndGlyphs">Normalized flux</text>
<text transform="translate(39.7 1885.0) rotate(-90)" text-anchor="middle" textLength="405.6" lengthAdjust="spacingAndGlyphs">Period power (normalised)</text>
<text transform="translate(608.1 1695.7) rotate(-90)" textLength="22" lengthAdjust="spacingAndGlyphs">Ω</text>
<text transform="translate(552.8 1858.6) rotate(-90)" textLength="51.6" lengthAdjust="spacingAndGlyphs">Ω-2</text>
<text transform="translate(580.5 1888.1) rotate(-90)" textLength="50" lengthAdjust="spacingAndGlyphs">Ω-1</text>
<g transform="translate(635.8 1905.0) rotate(-90)"><text x="0" y="0">Ω</text><text x="24.7" y="7.2" font-size="46.8">+</text><text x="51.5" y="0">1</text></g>
<g transform="translate(663.5 1838.1) rotate(-90)"><text x="0" y="0">Ω</text><text x="24.7" y="7.2" font-size="46.8">+</text><text x="51.5" y="0">2</text></g>
<text transform="translate(525.1 2015.8) rotate(-90)" textLength="51.6" lengthAdjust="spacingAndGlyphs">Ω-3</text>
<g transform="translate(691.1 2052.9) rotate(-90)"><text x="0" y="0">Ω</text><text x="24.7" y="7.2" font-size="46.8">+</text><text x="51.5" y="0">3</text></g>
<text transform="translate(1041.5 2128.5) rotate(-90)" textLength="20" lengthAdjust="spacingAndGlyphs" font-style="italic">ω</text>
</svg>
</body></html>
